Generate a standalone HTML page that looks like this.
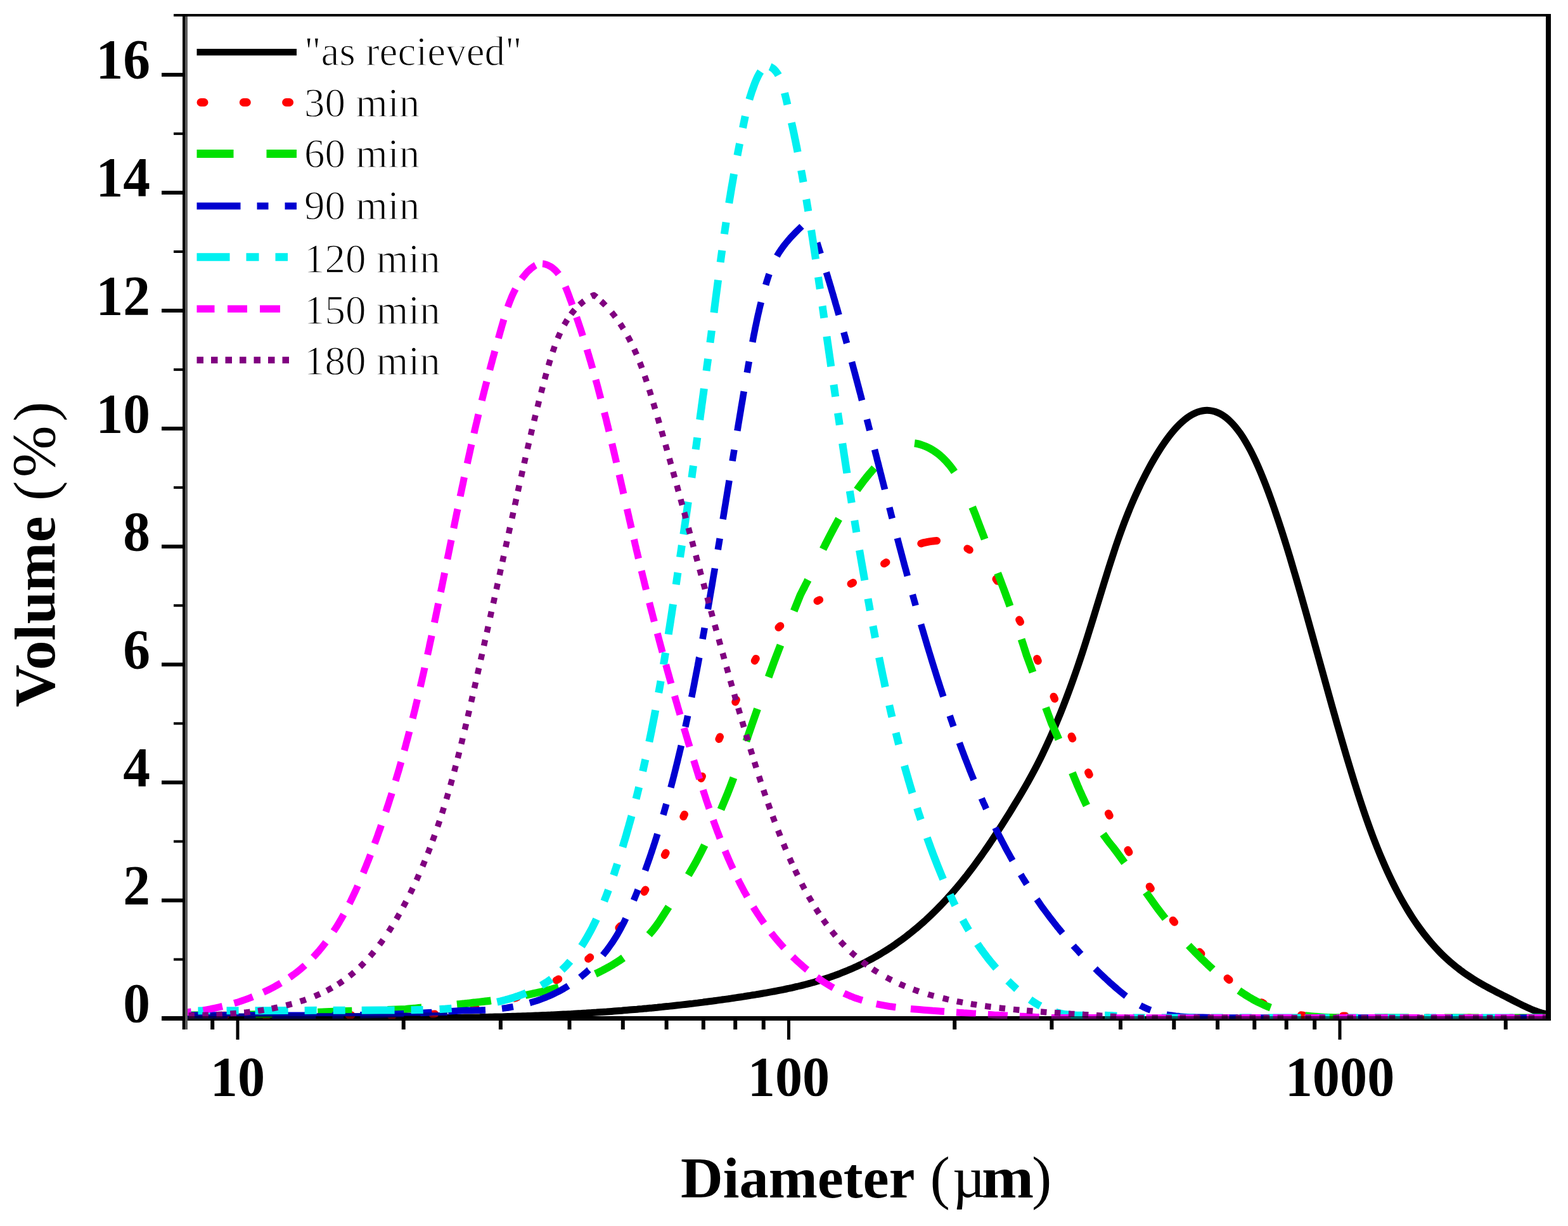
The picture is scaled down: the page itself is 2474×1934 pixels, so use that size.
<!DOCTYPE html>
<html><head><meta charset="utf-8"><title>Particle size distribution</title>
<style>
html,body{margin:0;padding:0;background:#fff;width:2474px;height:1934px;overflow:hidden;}
svg{display:block;}
.tk{font-family:"Liberation Serif","Times New Roman",serif;font-weight:bold;font-size:88.5px;fill:#000;}
.lg{font-family:"Liberation Serif","Times New Roman",serif;font-size:65px;fill:#000;stroke:#fff;stroke-width:1.3px;}
.ti{font-family:"Liberation Serif","Times New Roman",serif;font-weight:bold;font-size:90px;fill:#000;}
</style></head><body>
<svg width="2474" height="1934" viewBox="0 0 2474 1934">
<rect x="0" y="0" width="2474" height="1934" fill="#fff"/>
<g fill="#000">
<rect x="274" y="22" width="2173" height="4"/>
<rect x="288" y="22" width="4" height="1602"/>
<rect x="292" y="26" width="4" height="1598" fill="#5e5e5e"/>
<rect x="2439" y="22" width="8" height="1588"/>
<rect x="255" y="1603" width="2192" height="7"/>
<rect x="274" y="1511.5" width="14" height="4"/>
<rect x="255" y="1417.4" width="33" height="6"/>
<rect x="274" y="1325.4" width="14" height="4"/>
<rect x="255" y="1231.3" width="33" height="6"/>
<rect x="274" y="1139.3" width="14" height="4"/>
<rect x="255" y="1045.3" width="33" height="6"/>
<rect x="274" y="953.2" width="14" height="4"/>
<rect x="255" y="859.2" width="33" height="6"/>
<rect x="274" y="767.1" width="14" height="4"/>
<rect x="255" y="673.1" width="33" height="6"/>
<rect x="274" y="581.1" width="14" height="4"/>
<rect x="255" y="487.0" width="33" height="6"/>
<rect x="274" y="395.0" width="14" height="4"/>
<rect x="255" y="300.9" width="33" height="6"/>
<rect x="274" y="208.9" width="14" height="4"/>
<rect x="255" y="114.9" width="33" height="6"/>
<rect x="287.7" y="1610" width="6" height="14"/>
<rect x="332.2" y="1610" width="6" height="14"/>
<rect x="372.5" y="1610" width="5" height="30"/>
<rect x="633.7" y="1610" width="6" height="14"/>
<rect x="786.9" y="1610" width="6" height="14"/>
<rect x="895.5" y="1610" width="6" height="14"/>
<rect x="979.8" y="1610" width="6" height="14"/>
<rect x="1048.6" y="1610" width="6" height="14"/>
<rect x="1106.8" y="1610" width="6" height="14"/>
<rect x="1157.2" y="1610" width="6" height="14"/>
<rect x="1201.7" y="1610" width="6" height="14"/>
<rect x="1242.0" y="1610" width="5" height="30"/>
<rect x="1503.2" y="1610" width="6" height="14"/>
<rect x="1656.4" y="1610" width="6" height="14"/>
<rect x="1765.0" y="1610" width="6" height="14"/>
<rect x="1849.3" y="1610" width="6" height="14"/>
<rect x="1918.1" y="1610" width="6" height="14"/>
<rect x="1976.3" y="1610" width="6" height="14"/>
<rect x="2026.7" y="1610" width="6" height="14"/>
<rect x="2071.2" y="1610" width="6" height="14"/>
<rect x="2111.5" y="1610" width="5" height="30"/>
<rect x="2372.7" y="1610" width="6" height="14"/>
</g>
<defs><clipPath id="pc"><rect x="296" y="26" width="2143" height="1581"/></clipPath></defs>
<g clip-path="url(#pc)" fill="none">
<path d="M285.0,1604.8 C287.7,1604.8 290.3,1604.7 293.0,1604.7 C295.7,1604.7 298.3,1604.7 301.0,1604.7 C303.7,1604.7 306.3,1604.7 309.0,1604.7 C311.7,1604.7 314.3,1604.7 317.0,1604.7 C319.7,1604.7 322.3,1604.7 325.0,1604.7 C327.7,1604.7 330.3,1604.7 333.0,1604.7 C335.7,1604.7 338.3,1604.7 341.0,1604.7 C343.7,1604.7 346.3,1604.7 349.0,1604.7 C351.7,1604.7 354.3,1604.7 357.0,1604.7 C359.7,1604.8 362.3,1604.8 365.0,1604.8 C367.7,1604.8 370.3,1604.8 373.0,1604.8 C375.7,1604.8 378.3,1604.8 381.0,1604.8 C383.7,1604.8 386.3,1604.9 389.0,1604.9 C391.7,1604.9 394.3,1604.9 397.0,1604.9 C399.7,1604.9 402.3,1604.9 405.0,1605.0 C407.7,1605.0 410.3,1605.0 413.0,1605.0 C415.7,1605.0 418.3,1605.0 421.0,1605.0 C423.7,1605.1 426.3,1605.1 429.0,1605.1 C431.7,1605.1 434.3,1605.1 437.0,1605.2 C439.7,1605.2 442.3,1605.2 445.0,1605.2 C447.7,1605.2 450.3,1605.2 453.0,1605.3 C455.7,1605.3 458.3,1605.3 461.0,1605.3 C463.7,1605.3 466.3,1605.3 469.0,1605.4 C471.7,1605.4 474.3,1605.4 477.0,1605.4 C479.7,1605.4 482.3,1605.5 485.0,1605.5 C487.7,1605.5 490.3,1605.5 493.0,1605.5 C495.7,1605.5 498.3,1605.6 501.0,1605.6 C503.7,1605.6 506.3,1605.6 509.0,1605.6 C511.7,1605.7 514.3,1605.7 517.0,1605.7 C519.7,1605.7 522.3,1605.7 525.0,1605.7 C527.7,1605.7 530.3,1605.8 533.0,1605.8 C535.7,1605.8 538.3,1605.8 541.0,1605.8 C543.7,1605.8 546.3,1605.8 549.0,1605.9 C551.7,1605.9 554.3,1605.9 557.0,1605.9 C559.7,1605.9 562.3,1605.9 565.0,1605.9 C567.7,1605.9 570.3,1605.9 573.0,1605.9 C575.7,1606.0 578.3,1606.0 581.0,1606.0 C583.7,1606.0 586.3,1606.0 589.0,1606.0 C591.7,1606.0 594.3,1606.0 597.0,1606.0 C599.7,1606.0 602.3,1606.0 605.0,1606.0 C607.7,1606.0 610.3,1606.0 613.0,1606.0 C615.7,1606.0 618.3,1606.0 621.0,1606.0 C623.7,1606.0 626.3,1606.0 629.0,1606.0 C631.7,1606.0 634.3,1606.0 637.0,1606.0 C639.7,1606.0 642.3,1606.0 645.0,1606.0 C647.7,1606.0 650.3,1605.9 653.0,1605.9 C655.7,1605.9 658.3,1605.9 661.0,1605.9 C663.7,1605.9 666.3,1605.9 669.0,1605.8 C671.7,1605.8 674.3,1605.8 677.0,1605.8 C679.7,1605.8 682.3,1605.7 685.0,1605.7 C687.7,1605.7 690.3,1605.7 693.0,1605.6 C695.7,1605.6 698.3,1605.6 701.0,1605.6 C703.7,1605.5 706.3,1605.5 709.0,1605.5 C711.7,1605.4 714.3,1605.4 717.0,1605.4 C719.7,1605.3 722.3,1605.3 725.0,1605.3 C727.7,1605.2 730.3,1605.2 733.0,1605.1 C735.7,1605.1 738.3,1605.0 741.0,1605.0 C743.7,1605.0 746.3,1604.9 749.0,1604.9 C751.7,1604.8 754.3,1604.7 757.0,1604.7 C759.7,1604.6 762.3,1604.6 765.0,1604.5 C767.7,1604.5 770.3,1604.4 773.0,1604.3 C775.7,1604.3 778.3,1604.2 781.0,1604.1 C783.7,1604.1 786.3,1604.0 789.0,1603.9 C791.7,1603.9 794.3,1603.8 797.0,1603.7 C799.7,1603.6 802.3,1603.6 805.0,1603.5 C807.7,1603.4 810.3,1603.3 813.0,1603.2 C815.7,1603.1 818.3,1603.1 821.0,1603.0 C823.7,1602.9 826.3,1602.8 829.0,1602.7 C831.7,1602.6 834.3,1602.5 837.0,1602.4 C839.7,1602.3 842.3,1602.2 845.0,1602.1 C847.7,1602.0 850.3,1601.9 853.0,1601.8 C855.7,1601.7 858.3,1601.5 861.0,1601.4 C863.7,1601.3 866.3,1601.2 869.0,1601.1 C871.7,1600.9 874.3,1600.8 877.0,1600.7 C879.7,1600.6 882.3,1600.4 885.0,1600.3 C887.7,1600.2 890.3,1600.0 893.0,1599.9 C895.7,1599.8 898.3,1599.6 901.0,1599.5 C903.7,1599.3 906.3,1599.2 909.0,1599.0 C911.7,1598.9 914.3,1598.7 917.0,1598.6 C919.7,1598.4 922.3,1598.2 925.0,1598.1 C927.7,1597.9 930.3,1597.7 933.0,1597.6 C935.7,1597.4 938.3,1597.2 941.0,1597.1 C943.7,1596.9 946.3,1596.7 949.0,1596.5 C951.7,1596.3 954.3,1596.1 957.0,1596.0 C959.7,1595.8 962.3,1595.6 965.0,1595.4 C967.7,1595.2 970.3,1595.0 973.0,1594.8 C975.7,1594.6 978.3,1594.4 981.0,1594.2 C983.7,1593.9 986.3,1593.7 989.0,1593.5 C991.7,1593.3 994.3,1593.1 997.0,1592.8 C999.7,1592.6 1002.3,1592.4 1005.0,1592.2 C1007.7,1591.9 1010.3,1591.7 1013.0,1591.5 C1015.7,1591.2 1018.3,1591.0 1021.0,1590.7 C1023.7,1590.5 1026.3,1590.2 1029.0,1590.0 C1031.7,1589.7 1034.3,1589.4 1037.0,1589.2 C1039.7,1588.9 1042.3,1588.7 1045.0,1588.4 C1047.7,1588.1 1050.3,1587.8 1053.0,1587.6 C1055.7,1587.3 1058.3,1587.0 1061.0,1586.7 C1063.7,1586.4 1066.3,1586.1 1069.0,1585.8 C1071.7,1585.5 1074.3,1585.2 1077.0,1584.9 C1079.7,1584.6 1082.3,1584.3 1085.0,1584.0 C1087.7,1583.7 1090.3,1583.4 1093.0,1583.1 C1095.7,1582.7 1098.3,1582.4 1101.0,1582.1 C1103.7,1581.7 1106.3,1581.4 1109.0,1581.1 C1111.7,1580.7 1114.3,1580.4 1117.0,1580.0 C1119.7,1579.7 1122.3,1579.3 1125.0,1579.0 C1127.7,1578.6 1130.3,1578.3 1133.0,1577.9 C1135.7,1577.5 1138.3,1577.2 1141.0,1576.8 C1143.7,1576.4 1146.3,1576.0 1149.0,1575.7 C1151.7,1575.3 1154.3,1574.9 1157.0,1574.5 C1159.7,1574.1 1162.3,1573.7 1165.0,1573.3 C1167.7,1572.9 1170.3,1572.5 1173.0,1572.1 C1175.7,1571.6 1178.3,1571.2 1181.0,1570.8 C1183.7,1570.4 1186.3,1569.9 1189.0,1569.5 C1191.7,1569.1 1194.3,1568.6 1197.0,1568.2 C1199.7,1567.8 1202.3,1567.3 1205.0,1566.8 C1207.7,1566.4 1210.3,1565.9 1213.0,1565.4 C1215.7,1565.0 1218.3,1564.5 1221.0,1564.0 C1223.7,1563.5 1226.3,1563.0 1229.0,1562.4 C1231.7,1561.9 1234.3,1561.4 1237.0,1560.8 C1239.7,1560.3 1242.3,1559.7 1245.0,1559.2 C1247.7,1558.6 1250.3,1558.0 1253.0,1557.4 C1255.7,1556.8 1258.3,1556.1 1261.0,1555.5 C1263.7,1554.9 1266.3,1554.2 1269.0,1553.5 C1271.7,1552.8 1274.3,1552.1 1277.0,1551.4 C1279.7,1550.7 1282.3,1549.9 1285.0,1549.2 C1287.7,1548.4 1290.3,1547.6 1293.0,1546.8 C1295.7,1546.0 1298.3,1545.2 1301.0,1544.3 C1303.7,1543.4 1306.3,1542.6 1309.0,1541.7 C1311.7,1540.7 1314.3,1539.8 1317.0,1538.8 C1319.7,1537.9 1322.3,1536.9 1325.0,1535.8 C1327.7,1534.8 1330.3,1533.8 1333.0,1532.7 C1335.7,1531.6 1338.3,1530.5 1341.0,1529.3 C1343.7,1528.2 1346.3,1527.0 1349.0,1525.8 C1351.7,1524.6 1354.3,1523.3 1357.0,1522.0 C1359.7,1520.8 1362.3,1519.4 1365.0,1518.1 C1367.7,1516.7 1370.3,1515.3 1373.0,1513.9 C1375.7,1512.5 1378.3,1511.0 1381.0,1509.5 C1383.7,1508.0 1386.3,1506.4 1389.0,1504.9 C1391.7,1503.3 1394.3,1501.6 1397.0,1500.0 C1399.7,1498.3 1402.3,1496.6 1405.0,1494.8 C1407.7,1493.1 1410.3,1491.3 1413.0,1489.4 C1415.7,1487.6 1418.3,1485.7 1421.0,1483.7 C1423.7,1481.8 1426.3,1479.8 1429.0,1477.8 C1431.7,1475.7 1434.3,1473.6 1437.0,1471.5 C1439.7,1469.4 1442.3,1467.2 1445.0,1465.0 C1447.7,1462.7 1450.3,1460.5 1453.0,1458.1 C1455.7,1455.8 1458.3,1453.4 1461.0,1451.0 C1463.7,1448.5 1466.3,1446.0 1469.0,1443.5 C1471.7,1440.9 1474.3,1438.3 1477.0,1435.6 C1479.7,1433.0 1482.3,1430.3 1485.0,1427.5 C1487.7,1424.7 1490.3,1421.9 1493.0,1419.0 C1495.7,1416.1 1498.3,1413.1 1501.0,1410.1 C1503.7,1407.1 1506.3,1404.0 1509.0,1400.9 C1511.7,1397.7 1514.3,1394.5 1517.0,1391.3 C1519.7,1388.0 1522.3,1384.7 1525.0,1381.3 C1527.7,1377.9 1530.3,1374.4 1533.0,1370.9 C1535.7,1367.3 1538.3,1363.8 1541.0,1360.1 C1543.7,1356.4 1546.3,1352.7 1549.0,1349.0 C1551.7,1345.2 1554.3,1341.3 1557.0,1337.5 C1559.7,1333.6 1562.3,1329.6 1565.0,1325.6 C1567.7,1321.6 1570.3,1317.6 1573.0,1313.5 C1575.7,1309.4 1578.3,1305.3 1581.0,1301.1 C1583.7,1296.9 1586.3,1292.7 1589.0,1288.4 C1591.7,1284.2 1594.3,1279.9 1597.0,1275.5 C1599.7,1271.2 1602.3,1266.8 1605.0,1262.4 C1607.7,1258.0 1610.3,1253.6 1613.0,1249.0 C1615.7,1244.5 1618.4,1239.9 1621.0,1235.2 C1623.7,1230.4 1626.4,1225.6 1629.0,1220.7 C1631.7,1215.7 1634.4,1210.6 1637.0,1205.5 C1639.7,1200.2 1642.4,1194.8 1645.0,1189.3 C1647.7,1183.7 1650.4,1178.1 1653.0,1172.3 C1655.7,1166.4 1658.4,1160.4 1661.0,1154.3 C1663.7,1148.1 1666.4,1141.7 1669.0,1135.3 C1671.7,1128.8 1674.4,1122.1 1677.0,1115.4 C1679.7,1108.5 1682.4,1101.6 1685.0,1094.5 C1687.7,1087.3 1690.4,1080.0 1693.0,1072.6 C1695.7,1065.0 1698.4,1057.4 1701.0,1049.7 C1703.7,1041.8 1706.4,1033.8 1709.0,1025.7 C1711.7,1017.5 1714.4,1009.1 1717.0,1000.7 C1719.7,992.2 1722.3,983.6 1725.0,975.0 C1727.7,966.3 1730.3,957.6 1733.0,948.9 C1735.7,940.2 1738.3,931.5 1741.0,922.8 C1743.7,914.2 1746.3,905.7 1749.0,897.2 C1751.6,888.9 1754.3,880.5 1757.0,872.4 C1759.6,864.4 1762.3,856.5 1765.0,848.8 C1767.6,841.4 1770.3,834.0 1773.0,826.8 C1775.6,819.9 1778.3,813.1 1781.0,806.4 C1783.6,799.9 1786.3,793.6 1789.0,787.4 C1791.6,781.4 1794.3,775.5 1797.0,769.8 C1799.6,764.2 1802.3,758.7 1805.0,753.4 C1807.6,748.2 1810.3,743.1 1813.0,738.1 C1815.6,733.2 1818.3,728.5 1821.0,723.9 C1823.6,719.4 1826.3,714.9 1829.0,710.7 C1831.6,706.5 1834.3,702.5 1837.0,698.6 C1839.6,694.8 1842.3,691.1 1845.0,687.6 C1847.6,684.3 1850.3,681.0 1853.0,677.9 C1855.6,674.9 1858.3,672.1 1861.0,669.4 C1863.6,666.9 1866.3,664.4 1869.0,662.2 C1871.6,660.1 1874.3,658.1 1877.0,656.4 C1879.6,654.7 1882.3,653.2 1885.0,652.0 C1887.6,650.8 1890.3,649.7 1893.0,649.0 C1895.6,648.3 1898.3,647.7 1901.0,647.5 C1903.7,647.3 1906.3,647.3 1909.0,647.6 C1911.7,647.9 1914.4,648.5 1917.0,649.3 C1919.7,650.2 1922.4,651.3 1925.0,652.7 C1927.7,654.1 1930.4,655.8 1933.0,657.7 C1935.7,659.8 1938.4,662.1 1941.0,664.6 C1943.7,667.2 1946.4,670.1 1949.0,673.2 C1951.7,676.5 1954.4,680.0 1957.0,683.7 C1959.7,687.6 1962.4,691.8 1965.0,696.2 C1967.7,700.7 1970.4,705.6 1973.0,710.5 C1975.7,715.8 1978.4,721.3 1981.0,726.9 C1983.7,732.8 1986.4,738.9 1989.0,745.1 C1991.7,751.6 1994.4,758.3 1997.0,765.0 C1999.7,772.0 2002.4,779.2 2005.0,786.5 C2007.7,794.0 2010.4,801.6 2013.0,809.4 C2015.7,817.3 2018.4,825.3 2021.0,833.5 C2023.7,841.8 2026.4,850.2 2029.0,858.7 C2031.7,867.4 2034.4,876.1 2037.0,884.9 C2039.7,893.8 2042.3,902.9 2045.0,911.9 C2047.7,921.1 2050.3,930.3 2053.0,939.6 C2055.7,949.0 2058.3,958.4 2061.0,967.8 C2063.7,977.3 2066.3,986.8 2069.0,996.4 C2071.7,1005.9 2074.3,1015.6 2077.0,1025.2 C2079.7,1034.8 2082.3,1044.4 2085.0,1054.0 C2087.7,1063.6 2090.3,1073.3 2093.0,1082.8 C2095.7,1092.4 2098.3,1101.9 2101.0,1111.4 C2103.7,1120.9 2106.3,1130.3 2109.0,1139.7 C2111.7,1148.9 2114.3,1158.2 2117.0,1167.4 C2119.7,1176.5 2122.3,1185.6 2125.0,1194.6 C2127.7,1203.4 2130.3,1212.3 2133.0,1221.0 C2135.6,1229.6 2138.3,1238.2 2141.0,1246.6 C2143.6,1254.9 2146.3,1263.1 2149.0,1271.2 C2151.6,1279.1 2154.3,1286.9 2157.0,1294.6 C2159.6,1302.0 2162.3,1309.4 2165.0,1316.6 C2167.6,1323.6 2170.3,1330.4 2173.0,1337.2 C2175.6,1343.7 2178.3,1350.2 2181.0,1356.5 C2183.6,1362.6 2186.3,1368.7 2189.0,1374.6 C2191.6,1380.3 2194.3,1385.9 2197.0,1391.5 C2199.6,1396.8 2202.3,1402.1 2205.0,1407.2 C2207.6,1412.2 2210.3,1417.1 2213.0,1421.9 C2215.6,1426.5 2218.3,1431.1 2221.0,1435.5 C2223.6,1439.8 2226.3,1444.1 2229.0,1448.2 C2231.6,1452.2 2234.3,1456.1 2237.0,1460.0 C2239.6,1463.7 2242.3,1467.3 2245.0,1470.9 C2247.6,1474.4 2250.3,1477.7 2253.0,1481.0 C2255.6,1484.2 2258.3,1487.4 2261.0,1490.4 C2263.6,1493.4 2266.3,1496.3 2269.0,1499.1 C2271.6,1501.9 2274.3,1504.6 2277.0,1507.2 C2279.6,1509.7 2282.3,1512.2 2285.0,1514.6 C2287.6,1517.0 2290.3,1519.3 2293.0,1521.5 C2295.6,1523.7 2298.3,1525.9 2301.0,1527.9 C2303.6,1530.0 2306.3,1531.9 2309.0,1533.9 C2311.7,1535.8 2314.3,1537.6 2317.0,1539.4 C2319.7,1541.2 2322.3,1542.9 2325.0,1544.6 C2327.7,1546.3 2330.3,1547.9 2333.0,1549.5 C2335.7,1551.1 2338.3,1552.6 2341.0,1554.1 C2343.7,1555.6 2346.3,1557.1 2349.0,1558.5 C2351.7,1559.9 2354.3,1561.3 2357.0,1562.7 C2359.7,1564.1 2362.3,1565.5 2365.0,1566.9 C2367.7,1568.2 2370.3,1569.6 2373.0,1570.9 C2375.7,1572.3 2378.3,1573.6 2381.0,1575.0 C2383.7,1576.3 2386.3,1577.7 2389.0,1579.0 C2391.7,1580.4 2394.3,1581.8 2397.0,1583.1 C2399.7,1584.4 2402.3,1585.8 2405.0,1587.0 C2407.7,1588.3 2410.3,1589.6 2413.0,1590.7 C2415.7,1591.9 2418.3,1593.0 2421.0,1594.1 C2423.7,1595.1 2426.3,1596.1 2429.0,1596.9 C2431.7,1597.8 2434.3,1598.6 2437.0,1599.2 C2439.7,1599.8 2442.6,1600.4 2445.0,1600.7 C2446.9,1601.0 2448.3,1601.1 2450.0,1601.3" stroke="#000000" stroke-width="11" stroke-linecap="butt" stroke-linejoin="round"/>
<path d="M285.0,1602.0 C390.0,1601.7 599.7,1601.3 600.0,1601.0 C600.0,1601.0 600.0,1601.0 600.0,1601.0 C600.0,1601.0 604.6,1601.2 606.8,1601.3 C609.1,1601.4 611.4,1601.4 613.7,1601.5 C616.0,1601.5 618.3,1601.6 620.6,1601.6 C622.9,1601.7 625.2,1601.7 627.6,1601.7 C629.9,1601.7 632.2,1601.7 634.5,1601.7 C636.8,1601.7 639.2,1601.7 641.5,1601.6 C643.8,1601.6 646.2,1601.5 648.5,1601.5 C650.8,1601.4 653.2,1601.4 655.5,1601.3 C657.9,1601.2 660.2,1601.1 662.6,1601.0 C664.9,1600.9 667.3,1600.7 669.6,1600.6 C672.0,1600.5 674.3,1600.3 676.7,1600.2 C679.0,1600.0 681.4,1599.8 683.8,1599.7 C686.1,1599.5 688.5,1599.3 690.8,1599.1 C693.2,1598.8 695.6,1598.6 697.9,1598.4 C700.3,1598.1 702.6,1597.9 705.0,1597.6 C707.3,1597.4 709.7,1597.1 712.1,1596.8 C714.4,1596.5 716.8,1596.2 719.1,1595.9 C721.5,1595.5 723.8,1595.2 726.2,1594.8 C728.5,1594.5 730.9,1594.1 733.2,1593.7 C735.6,1593.4 737.9,1593.0 740.3,1592.6 C742.6,1592.1 744.9,1591.7 747.3,1591.3 C749.6,1590.8 751.9,1590.4 754.3,1589.9 C756.6,1589.5 758.9,1589.0 761.2,1588.5 C763.5,1588.0 765.9,1587.5 768.2,1586.9 C770.5,1586.4 772.8,1585.8 775.1,1585.3 C777.4,1584.7 779.7,1584.1 782.0,1583.5 C784.3,1583.0 786.5,1582.3 788.8,1581.7 C791.1,1581.1 793.4,1580.5 795.6,1579.8 C797.9,1579.1 800.2,1578.5 802.4,1577.8 C804.7,1577.1 806.9,1576.4 809.1,1575.6 C811.4,1574.9 813.6,1574.2 815.8,1573.4 C818.1,1572.7 820.3,1571.9 822.5,1571.1 C824.7,1570.3 826.9,1569.5 829.1,1568.7 C831.3,1567.8 833.4,1567.0 835.6,1566.1 C837.8,1565.3 839.9,1564.4 842.1,1563.5 C844.2,1562.6 846.4,1561.7 848.5,1560.8 C850.6,1559.8 852.8,1558.9 854.9,1557.9 C857.0,1556.9 859.1,1555.9 861.2,1554.9 C863.3,1553.9 865.3,1552.9 867.4,1551.9 C869.5,1550.8 871.5,1549.8 873.6,1548.7 C875.6,1547.6 877.6,1546.5 879.6,1545.4 C881.7,1544.3 883.7,1543.1 885.7,1542.0 C887.6,1540.8 889.6,1539.7 891.6,1538.5 C893.6,1537.3 895.5,1536.1 897.4,1534.8 C899.4,1533.6 901.3,1532.3 903.2,1531.1 C905.1,1529.8 907.0,1528.5 908.9,1527.2 C910.8,1525.9 912.6,1524.6 914.5,1523.2 C916.3,1521.9 918.2,1520.5 920.0,1519.1 C921.8,1517.7 923.6,1516.3 925.4,1514.9 C927.2,1513.4 929.0,1512.0 930.7,1510.5 C932.5,1509.0 934.2,1507.5 935.9,1506.0 C937.7,1504.5 939.4,1503.0 941.1,1501.4 C942.8,1499.9 944.4,1498.3 946.1,1496.7 C947.7,1495.1 949.4,1493.5 951.0,1491.9 C952.6,1490.2 954.3,1488.6 955.9,1486.9 C957.5,1485.3 959.0,1483.6 960.6,1481.9 C962.2,1480.2 963.7,1478.5 965.3,1476.8 C966.8,1475.0 968.3,1473.3 969.9,1471.5 C971.4,1469.8 972.9,1468.0 974.4,1466.2 C975.8,1464.4 977.3,1462.6 978.8,1460.8 C980.2,1459.0 981.7,1457.1 983.1,1455.3 C984.6,1453.4 986.0,1451.6 987.4,1449.7 C988.8,1447.8 990.2,1445.9 991.6,1444.0 C993.0,1442.1 994.3,1440.2 995.7,1438.3 C997.1,1436.4 998.4,1434.4 999.7,1432.5 C1001.1,1430.5 1002.4,1428.6 1003.7,1426.6 C1005.0,1424.6 1006.3,1422.7 1007.6,1420.7 C1008.9,1418.7 1010.2,1416.7 1011.5,1414.7 C1012.8,1412.7 1014.0,1410.7 1015.3,1408.6 C1016.5,1406.6 1017.8,1404.6 1019.0,1402.5 C1020.3,1400.5 1021.5,1398.4 1022.7,1396.4 C1023.9,1394.3 1025.1,1392.3 1026.3,1390.2 C1027.5,1388.1 1028.7,1386.1 1029.9,1384.0 C1031.1,1381.9 1032.2,1379.8 1033.4,1377.7 C1034.5,1375.6 1035.7,1373.5 1036.9,1371.4 C1038.0,1369.3 1039.1,1367.2 1040.3,1365.1 C1041.4,1363.0 1042.5,1360.8 1043.6,1358.7 C1044.8,1356.6 1045.9,1354.5 1047.0,1352.3 C1048.1,1350.2 1049.2,1348.1 1050.3,1346.0 C1051.3,1343.8 1052.4,1341.7 1053.5,1339.6 C1054.6,1337.4 1055.7,1335.3 1056.7,1333.1 C1057.8,1331.0 1058.8,1328.9 1059.9,1326.7 C1060.9,1324.6 1062.0,1322.4 1063.0,1320.3 C1064.1,1318.2 1065.1,1316.0 1066.2,1313.9 C1067.2,1311.7 1068.2,1309.6 1069.2,1307.5 C1070.3,1305.3 1071.3,1303.2 1072.3,1301.1 C1073.3,1298.9 1074.3,1296.8 1075.3,1294.7 C1076.3,1292.5 1077.3,1290.4 1078.3,1288.3 C1079.3,1286.2 1080.3,1284.1 1081.3,1281.9 C1082.3,1279.8 1083.3,1277.7 1084.3,1275.6 C1085.3,1273.5 1086.3,1271.4 1087.3,1269.3 C1088.2,1267.2 1089.2,1265.1 1090.2,1263.0 C1091.2,1260.9 1092.1,1258.8 1093.1,1256.7 C1094.1,1254.6 1095.1,1252.5 1096.0,1250.4 C1097.0,1248.4 1097.9,1246.3 1098.9,1244.2 C1099.9,1242.1 1100.8,1240.0 1101.8,1237.9 C1102.8,1235.8 1103.7,1233.8 1104.7,1231.7 C1105.6,1229.6 1106.6,1227.5 1107.5,1225.4 C1108.5,1223.4 1109.4,1221.3 1110.4,1219.2 C1111.3,1217.1 1112.3,1215.0 1113.2,1213.0 C1114.2,1210.9 1115.1,1208.8 1116.1,1206.7 C1117.0,1204.6 1117.9,1202.6 1118.9,1200.5 C1119.8,1198.4 1120.8,1196.3 1121.7,1194.2 C1122.6,1192.1 1123.6,1190.1 1124.5,1188.0 C1125.5,1185.9 1126.4,1183.8 1127.3,1181.7 C1128.3,1179.6 1129.2,1177.5 1130.2,1175.4 C1131.1,1173.3 1132.0,1171.2 1133.0,1169.1 C1133.9,1167.0 1134.9,1164.9 1135.8,1162.8 C1136.7,1160.7 1137.7,1158.6 1138.6,1156.5 C1139.6,1154.3 1140.5,1152.2 1141.4,1150.1 C1142.4,1148.0 1143.3,1145.9 1144.3,1143.7 C1145.2,1141.6 1146.2,1139.5 1147.1,1137.3 C1148.0,1135.2 1149.0,1133.0 1149.9,1130.9 C1150.9,1128.7 1151.8,1126.6 1152.8,1124.4 C1153.7,1122.3 1154.7,1120.1 1155.6,1117.9 C1156.6,1115.8 1157.5,1113.6 1158.5,1111.4 C1159.4,1109.2 1160.4,1107.0 1161.4,1104.8 C1162.3,1102.6 1163.3,1100.4 1164.2,1098.2 C1165.2,1096.0 1166.2,1093.8 1167.2,1091.6 C1168.1,1089.4 1169.1,1087.2 1170.1,1085.0 C1171.1,1082.8 1172.1,1080.6 1173.1,1078.4 C1174.1,1076.2 1175.1,1073.9 1176.1,1071.8 C1177.1,1069.6 1178.2,1067.4 1179.2,1065.2 C1180.3,1063.0 1181.3,1060.8 1182.4,1058.7 C1183.5,1056.5 1184.5,1054.3 1185.6,1052.2 C1186.7,1050.1 1187.8,1047.9 1189.0,1045.8 C1190.1,1043.7 1191.2,1041.6 1192.4,1039.5 C1193.6,1037.4 1194.8,1035.4 1196.0,1033.3 C1197.2,1031.3 1198.4,1029.2 1199.6,1027.2 C1200.9,1025.2 1202.1,1023.2 1203.4,1021.3 C1204.7,1019.3 1206.0,1017.4 1207.4,1015.5 C1208.7,1013.6 1210.0,1011.7 1211.4,1009.8 C1212.8,1008.0 1214.2,1006.1 1215.7,1004.3 C1217.1,1002.5 1218.6,1000.8 1220.1,999.0 C1221.6,997.3 1223.1,995.6 1224.7,993.9 C1226.2,992.3 1227.8,990.6 1229.4,989.0 C1231.1,987.4 1232.7,985.9 1234.4,984.4 C1236.1,982.9 1237.8,981.4 1239.5,979.9 C1241.3,978.5 1243.1,977.1 1244.9,975.7 C1246.7,974.3 1248.5,972.9 1250.3,971.6 C1252.2,970.3 1254.1,969.0 1256.0,967.7 C1257.9,966.4 1259.8,965.2 1261.7,963.9 C1263.7,962.7 1265.6,961.5 1267.6,960.3 C1269.6,959.1 1271.6,957.9 1273.6,956.8 C1275.6,955.6 1277.6,954.5 1279.6,953.4 C1281.7,952.3 1283.7,951.1 1285.8,950.1 C1287.9,949.0 1289.9,947.9 1292.0,946.8 C1294.1,945.7 1296.2,944.6 1298.3,943.6 C1300.4,942.5 1302.5,941.5 1304.6,940.4 C1306.7,939.4 1308.8,938.3 1310.9,937.2 C1313.0,936.2 1315.1,935.1 1317.2,934.1 C1319.3,933.0 1321.4,932.0 1323.5,930.9 C1325.6,929.9 1327.7,928.8 1329.8,927.7 C1331.9,926.6 1334.0,925.6 1336.1,924.5 C1338.2,923.4 1340.3,922.3 1342.3,921.2 C1344.4,920.0 1346.4,918.9 1348.5,917.8 C1350.5,916.6 1352.6,915.5 1354.6,914.3 C1356.6,913.1 1358.7,912.0 1360.7,910.8 C1362.7,909.6 1364.7,908.4 1366.7,907.1 C1368.7,905.9 1370.7,904.7 1372.7,903.4 C1374.7,902.2 1376.7,901.0 1378.7,899.7 C1380.7,898.4 1382.7,897.2 1384.7,895.9 C1386.7,894.6 1388.7,893.3 1390.7,892.0 C1392.7,890.7 1394.7,889.4 1396.8,888.1 C1398.8,886.8 1400.8,885.5 1402.8,884.2 C1404.8,882.8 1406.9,881.5 1408.9,880.2 C1411.0,878.9 1413.0,877.6 1415.1,876.3 C1417.1,875.1 1419.2,873.8 1421.2,872.6 C1423.3,871.3 1425.4,870.1 1427.5,869.0 C1429.6,867.8 1431.7,866.7 1433.8,865.6 C1435.9,864.6 1438.0,863.5 1440.2,862.6 C1442.3,861.6 1444.4,860.7 1446.6,859.8 C1448.7,859.0 1450.9,858.2 1453.1,857.5 C1455.3,856.8 1457.5,856.2 1459.7,855.7 C1461.9,855.1 1464.1,854.7 1466.3,854.3 C1468.6,853.9 1470.8,853.6 1473.0,853.4 C1475.3,853.2 1477.5,853.1 1479.7,853.0 C1482.0,853.0 1484.2,853.0 1486.4,853.1 C1488.6,853.3 1490.8,853.5 1493.0,853.8 C1495.2,854.0 1497.4,854.4 1499.6,854.9 C1501.8,855.3 1503.9,855.8 1506.1,856.5 C1508.2,857.1 1510.3,857.8 1512.4,858.6 C1514.4,859.4 1516.5,860.2 1518.5,861.2 C1520.5,862.1 1522.5,863.2 1524.5,864.3 C1526.4,865.4 1528.3,866.6 1530.2,867.9 C1532.1,869.2 1533.9,870.6 1535.7,872.0 C1537.5,873.5 1539.3,875.0 1541.0,876.5 C1542.8,878.1 1544.5,879.8 1546.1,881.4 C1547.8,883.1 1549.4,884.9 1551.0,886.6 C1552.6,888.4 1554.2,890.3 1555.8,892.1 C1557.3,894.0 1558.8,895.9 1560.3,897.8 C1561.8,899.8 1563.3,901.7 1564.7,903.7 C1566.2,905.7 1567.6,907.7 1569.0,909.7 C1570.4,911.7 1571.7,913.8 1573.1,915.8 C1574.4,917.8 1575.7,919.8 1577.1,921.9 C1578.4,923.9 1579.7,926.0 1580.9,928.0 C1582.2,930.1 1583.4,932.1 1584.7,934.2 C1585.9,936.2 1587.1,938.3 1588.3,940.4 C1589.5,942.4 1590.7,944.5 1591.9,946.6 C1593.0,948.6 1594.2,950.7 1595.3,952.8 C1596.5,954.9 1597.6,957.0 1598.7,959.1 C1599.8,961.2 1600.9,963.2 1602.0,965.3 C1603.1,967.4 1604.1,969.5 1605.2,971.6 C1606.2,973.7 1607.3,975.8 1608.3,977.9 C1609.4,980.1 1610.4,982.2 1611.4,984.3 C1612.4,986.4 1613.4,988.5 1614.4,990.6 C1615.4,992.7 1616.4,994.8 1617.4,997.0 C1618.4,999.1 1619.3,1001.2 1620.3,1003.3 C1621.3,1005.5 1622.2,1007.6 1623.2,1009.7 C1624.2,1011.8 1625.1,1014.0 1626.1,1016.1 C1627.0,1018.2 1628.0,1020.3 1628.9,1022.5 C1629.9,1024.6 1630.8,1026.7 1631.7,1028.9 C1632.7,1031.0 1633.6,1033.1 1634.5,1035.3 C1635.5,1037.4 1636.4,1039.5 1637.3,1041.7 C1638.3,1043.8 1639.2,1045.9 1640.1,1048.1 C1641.1,1050.2 1642.0,1052.3 1642.9,1054.5 C1643.9,1056.6 1644.8,1058.7 1645.8,1060.9 C1646.7,1063.0 1647.6,1065.1 1648.6,1067.3 C1649.5,1069.4 1650.4,1071.5 1651.4,1073.7 C1652.3,1075.8 1653.3,1077.9 1654.2,1080.1 C1655.1,1082.2 1656.1,1084.3 1657.0,1086.5 C1658.0,1088.6 1658.9,1090.7 1659.8,1092.9 C1660.8,1095.0 1661.7,1097.1 1662.7,1099.3 C1663.6,1101.4 1664.5,1103.5 1665.5,1105.7 C1666.4,1107.8 1667.4,1109.9 1668.3,1112.1 C1669.3,1114.2 1670.2,1116.3 1671.2,1118.5 C1672.1,1120.6 1673.1,1122.7 1674.0,1124.8 C1675.0,1127.0 1675.9,1129.1 1676.9,1131.2 C1677.8,1133.4 1678.8,1135.5 1679.8,1137.6 C1680.7,1139.8 1681.7,1141.9 1682.6,1144.0 C1683.6,1146.1 1684.6,1148.3 1685.5,1150.4 C1686.5,1152.5 1687.4,1154.6 1688.4,1156.8 C1689.4,1158.9 1690.3,1161.0 1691.3,1163.1 C1692.3,1165.3 1693.3,1167.4 1694.2,1169.5 C1695.2,1171.6 1696.2,1173.8 1697.2,1175.9 C1698.1,1178.0 1699.1,1180.1 1700.1,1182.3 C1701.1,1184.4 1702.1,1186.5 1703.0,1188.6 C1704.0,1190.7 1705.0,1192.9 1706.0,1195.0 C1707.0,1197.1 1708.0,1199.2 1709.0,1201.3 C1710.0,1203.4 1711.0,1205.6 1712.0,1207.7 C1713.0,1209.8 1714.0,1211.9 1715.0,1214.0 C1716.0,1216.1 1717.0,1218.3 1718.0,1220.4 C1719.0,1222.5 1720.0,1224.6 1721.0,1226.7 C1722.0,1228.8 1723.0,1230.9 1724.0,1233.0 C1725.1,1235.1 1726.1,1237.2 1727.1,1239.4 C1728.1,1241.5 1729.2,1243.6 1730.2,1245.7 C1731.2,1247.8 1732.2,1249.9 1733.3,1252.0 C1734.3,1254.1 1735.3,1256.2 1736.4,1258.3 C1737.4,1260.4 1738.5,1262.5 1739.5,1264.6 C1740.6,1266.7 1741.6,1268.8 1742.7,1270.9 C1743.7,1273.0 1744.8,1275.1 1745.8,1277.2 C1746.9,1279.3 1747.9,1281.4 1749.0,1283.4 C1750.1,1285.5 1751.1,1287.6 1752.2,1289.7 C1753.3,1291.8 1754.4,1293.9 1755.4,1296.0 C1756.5,1298.1 1757.6,1300.1 1758.7,1302.2 C1759.8,1304.3 1760.9,1306.4 1762.0,1308.5 C1763.0,1310.6 1764.1,1312.6 1765.2,1314.7 C1766.3,1316.8 1767.5,1318.8 1768.6,1320.9 C1769.7,1323.0 1770.8,1325.1 1771.9,1327.1 C1773.0,1329.2 1774.2,1331.2 1775.3,1333.3 C1776.4,1335.4 1777.6,1337.4 1778.7,1339.5 C1779.8,1341.5 1781.0,1343.6 1782.1,1345.6 C1783.3,1347.7 1784.4,1349.7 1785.6,1351.8 C1786.8,1353.8 1787.9,1355.8 1789.1,1357.9 C1790.3,1359.9 1791.4,1361.9 1792.6,1363.9 C1793.8,1366.0 1795.0,1368.0 1796.2,1370.0 C1797.4,1372.0 1798.6,1374.0 1799.8,1376.0 C1801.0,1378.1 1802.2,1380.1 1803.5,1382.1 C1804.7,1384.1 1805.9,1386.0 1807.1,1388.0 C1808.4,1390.0 1809.6,1392.0 1810.9,1394.0 C1812.1,1396.0 1813.4,1397.9 1814.6,1399.9 C1815.9,1401.9 1817.2,1403.8 1818.4,1405.8 C1819.7,1407.8 1821.0,1409.7 1822.3,1411.7 C1823.6,1413.6 1824.9,1415.5 1826.2,1417.5 C1827.5,1419.4 1828.8,1421.3 1830.2,1423.3 C1831.5,1425.2 1832.8,1427.1 1834.2,1429.0 C1835.5,1430.9 1836.8,1432.8 1838.2,1434.7 C1839.6,1436.6 1840.9,1438.5 1842.3,1440.4 C1843.7,1442.3 1845.0,1444.2 1846.4,1446.0 C1847.8,1447.9 1849.2,1449.8 1850.6,1451.6 C1852.1,1453.5 1853.5,1455.3 1854.9,1457.2 C1856.3,1459.0 1857.8,1460.8 1859.2,1462.7 C1860.7,1464.5 1862.1,1466.3 1863.6,1468.1 C1865.0,1469.9 1866.5,1471.7 1868.0,1473.5 C1869.5,1475.3 1871.0,1477.1 1872.5,1478.9 C1874.0,1480.7 1875.5,1482.4 1877.0,1484.2 C1878.6,1486.0 1880.1,1487.7 1881.6,1489.5 C1883.2,1491.2 1884.7,1492.9 1886.3,1494.7 C1887.9,1496.4 1889.5,1498.1 1891.0,1499.8 C1892.6,1501.5 1894.2,1503.2 1895.9,1504.9 C1897.5,1506.6 1899.1,1508.3 1900.7,1509.9 C1902.4,1511.6 1904.0,1513.3 1905.7,1514.9 C1907.3,1516.6 1909.0,1518.2 1910.7,1519.8 C1912.3,1521.5 1914.0,1523.1 1915.7,1524.7 C1917.4,1526.3 1919.2,1527.9 1920.9,1529.5 C1922.6,1531.1 1924.3,1532.7 1926.1,1534.2 C1927.9,1535.8 1929.6,1537.4 1931.4,1538.9 C1933.2,1540.5 1935.0,1542.0 1936.8,1543.5 C1938.6,1545.1 1940.4,1546.6 1942.2,1548.1 C1944.0,1549.6 1945.9,1551.1 1947.7,1552.5 C1949.6,1554.0 1951.5,1555.5 1953.3,1556.9 C1955.2,1558.3 1957.1,1559.7 1959.0,1561.1 C1960.9,1562.5 1962.8,1563.9 1964.8,1565.3 C1966.7,1566.6 1968.7,1568.0 1970.6,1569.3 C1972.6,1570.6 1974.5,1571.8 1976.5,1573.1 C1978.5,1574.3 1980.5,1575.6 1982.5,1576.8 C1984.6,1577.9 1986.6,1579.1 1988.6,1580.2 C1990.7,1581.3 1992.7,1582.4 1994.8,1583.5 C1996.9,1584.5 1999.0,1585.6 2001.1,1586.6 C2003.2,1587.5 2005.3,1588.5 2007.4,1589.4 C2009.5,1590.3 2011.7,1591.1 2013.8,1591.9 C2016.0,1592.8 2018.1,1593.5 2020.3,1594.3 C2022.5,1595.0 2024.7,1595.7 2026.9,1596.3 C2029.1,1596.9 2031.4,1597.5 2033.6,1598.0 C2035.9,1598.6 2038.1,1599.0 2040.4,1599.5 C2042.7,1599.9 2044.9,1600.3 2047.2,1600.6 C2049.5,1600.9 2051.9,1601.2 2054.2,1601.4 C2056.5,1601.7 2058.8,1601.8 2061.2,1602.0 C2063.5,1602.2 2065.9,1602.3 2068.2,1602.4 C2070.6,1602.5 2073.0,1602.6 2075.3,1602.6 C2077.7,1602.7 2080.1,1602.7 2082.5,1602.7 C2084.9,1602.7 2087.3,1602.7 2089.6,1602.7 C2092.0,1602.7 2094.4,1602.7 2096.8,1602.6 C2099.2,1602.6 2101.6,1602.6 2104.0,1602.5 C2106.4,1602.5 2108.7,1602.5 2111.1,1602.5 C2113.5,1602.4 2115.9,1602.4 2118.3,1602.4 C2120.6,1602.4 2123.0,1602.5 2125.4,1602.5 C2127.7,1602.6 2130.1,1602.6 2132.4,1602.7 C2134.8,1602.8 2137.1,1602.9 2139.4,1603.1 C2141.7,1603.2 2144.1,1603.4 2146.4,1603.6 C2148.7,1603.9 2151.0,1604.1 2153.2,1604.4 C2155.5,1604.7 2160.0,1605.5 2160.0,1605.5 C2160.0,1605.5 2160.0,1605.5 2160.0,1605.5 C2160.1,1605.6 2353.3,1605.5 2450.0,1605.5" stroke="#ff0000" stroke-width="12" stroke-dasharray="0.0 1.2 4.0 62.0 4.0 62.0 4.0 62.0 4.0 62.0 4.0 62.0 4.0 62.0 4.0 61.5 4.0 63.3 4.0 67.4 4.0 56.8 4.0 64.9 4.0 65.4 4.0 62.5 4.0 63.4 4.0 62.4 4.0 64.2 4.0 60.1 4.0 67.8 4.0 60.7 4.0 70.4 4.0 55.5 4.0 57.4 4.0 62.6 25.2 50.6 4.0 62.3 4.0 70.0 4.0 63.5 4.0 61.4 4.0 64.6 4.0 58.8 4.0 68.2 4.0 61.3 4.0 63.0 4.0 60.8 4.0 61.3 4.0 56.5 4.0 62.0 4.0 62.0 4.0 62.0 4.0 62.0 4.0 62.0 4.0 62.0 4.0 62.0 4.0 62.0 1.6 1000.0" stroke-linecap="round" stroke-linejoin="round"/>
<path d="M285.0,1601.5 C330.0,1601.0 378.4,1601.1 420.0,1600.0 C455.8,1599.1 485.1,1597.3 520.0,1596.0 C558.2,1594.6 639.8,1591.9 640.0,1592.0 C640.0,1592.0 640.0,1592.0 640.0,1592.0 C640.0,1592.0 644.5,1591.6 646.7,1591.3 C649.0,1591.1 651.3,1590.9 653.5,1590.7 C655.8,1590.5 658.1,1590.2 660.4,1590.0 C662.7,1589.8 664.9,1589.6 667.2,1589.4 C669.5,1589.2 671.8,1589.0 674.1,1588.8 C676.4,1588.5 678.8,1588.3 681.1,1588.1 C683.4,1587.9 685.7,1587.7 688.0,1587.5 C690.4,1587.3 692.7,1587.1 695.0,1586.9 C697.3,1586.6 699.7,1586.4 702.0,1586.2 C704.4,1586.0 706.7,1585.8 709.1,1585.6 C711.4,1585.3 713.8,1585.1 716.1,1584.9 C718.5,1584.7 720.8,1584.4 723.2,1584.2 C725.5,1584.0 727.9,1583.7 730.3,1583.5 C732.6,1583.3 735.0,1583.0 737.4,1582.8 C739.7,1582.5 742.1,1582.3 744.5,1582.0 C746.8,1581.7 749.2,1581.5 751.6,1581.2 C753.9,1581.0 756.3,1580.7 758.7,1580.4 C761.1,1580.1 763.4,1579.8 765.8,1579.5 C768.2,1579.3 770.6,1579.0 772.9,1578.7 C775.3,1578.3 777.7,1578.0 780.0,1577.7 C782.4,1577.4 784.8,1577.1 787.1,1576.7 C789.5,1576.4 791.9,1576.1 794.3,1575.7 C796.6,1575.3 799.0,1575.0 801.3,1574.6 C803.7,1574.2 806.1,1573.9 808.4,1573.5 C810.8,1573.1 813.1,1572.7 815.5,1572.3 C817.8,1571.9 820.2,1571.5 822.5,1571.0 C824.9,1570.6 827.2,1570.2 829.6,1569.7 C831.9,1569.3 834.2,1568.8 836.6,1568.3 C838.9,1567.8 841.2,1567.4 843.5,1566.9 C845.9,1566.4 848.2,1565.9 850.5,1565.3 C852.8,1564.8 855.1,1564.3 857.4,1563.7 C859.7,1563.2 862.0,1562.6 864.3,1562.0 C866.6,1561.5 868.9,1560.9 871.2,1560.3 C873.5,1559.7 875.7,1559.0 878.0,1558.4 C880.3,1557.8 882.5,1557.1 884.8,1556.5 C887.0,1555.8 889.3,1555.1 891.5,1554.4 C893.8,1553.7 896.0,1553.0 898.2,1552.3 C900.4,1551.5 902.7,1550.8 904.9,1550.0 C907.1,1549.3 909.3,1548.5 911.5,1547.7 C913.6,1546.9 915.8,1546.1 918.0,1545.3 C920.2,1544.4 922.3,1543.6 924.5,1542.7 C926.6,1541.8 928.8,1540.9 930.9,1540.0 C933.0,1539.1 935.2,1538.2 937.3,1537.2 C939.4,1536.3 941.5,1535.3 943.6,1534.3 C945.6,1533.3 947.7,1532.3 949.8,1531.2 C951.8,1530.2 953.9,1529.1 955.9,1528.0 C957.9,1526.9 960.0,1525.8 962.0,1524.7 C964.0,1523.5 966.0,1522.4 967.9,1521.2 C969.9,1520.0 971.9,1518.8 973.8,1517.5 C975.7,1516.3 977.7,1515.0 979.6,1513.7 C981.5,1512.4 983.4,1511.1 985.3,1509.7 C987.2,1508.4 989.0,1507.0 990.9,1505.6 C992.7,1504.2 994.5,1502.7 996.3,1501.3 C998.1,1499.8 999.9,1498.3 1001.7,1496.8 C1003.5,1495.2 1005.2,1493.7 1007.0,1492.1 C1008.7,1490.5 1010.4,1488.9 1012.1,1487.2 C1013.8,1485.6 1015.5,1483.9 1017.1,1482.2 C1018.8,1480.4 1020.4,1478.7 1022.0,1476.9 C1023.6,1475.1 1025.2,1473.3 1026.7,1471.4 C1028.3,1469.5 1029.9,1467.6 1031.4,1465.7 C1032.9,1463.8 1034.4,1461.8 1035.9,1459.8 C1037.3,1457.8 1040.2,1453.8 1040.2,1453.7 C1040.2,1453.7 1040.2,1453.7 1040.2,1453.7 C1040.2,1453.5 1081.6,1390.6 1099.5,1357.2 C1117.5,1323.4 1133.3,1287.7 1147.8,1252.1 C1162.2,1216.6 1173.6,1179.4 1186.1,1143.9 C1198.2,1109.6 1209.3,1076.5 1221.9,1042.6 C1234.8,1008.1 1262.7,938.8 1262.7,938.7 C1262.7,938.7 1262.7,938.7 1262.7,938.7 C1262.7,938.7 1264.8,934.6 1265.8,932.6 C1266.9,930.6 1267.9,928.5 1269.0,926.5 C1270.0,924.4 1271.0,922.4 1272.1,920.3 C1273.1,918.3 1274.1,916.2 1275.2,914.1 C1276.2,912.0 1277.2,910.0 1278.2,907.9 C1279.3,905.8 1280.3,903.7 1281.3,901.6 C1282.3,899.5 1283.4,897.4 1284.4,895.3 C1285.4,893.2 1286.4,891.1 1287.5,889.0 C1288.5,886.9 1289.5,884.8 1290.5,882.7 C1291.6,880.6 1292.6,878.5 1293.6,876.4 C1294.7,874.3 1295.7,872.2 1296.8,870.1 C1297.8,868.0 1298.8,865.9 1299.9,863.8 C1301.0,861.6 1302.0,859.5 1303.1,857.4 C1304.1,855.3 1305.2,853.2 1306.3,851.1 C1307.3,849.0 1308.4,846.9 1309.5,844.8 C1310.6,842.7 1311.7,840.6 1312.8,838.5 C1313.9,836.4 1315.0,834.4 1316.1,832.3 C1317.2,830.2 1318.4,828.1 1319.5,826.0 C1320.6,824.0 1321.8,821.9 1322.9,819.8 C1324.1,817.8 1325.2,815.7 1326.4,813.7 C1327.6,811.6 1328.8,809.6 1330.0,807.5 C1331.2,805.5 1332.4,803.5 1333.6,801.5 C1334.8,799.4 1336.1,797.4 1337.3,795.4 C1338.5,793.4 1339.8,791.4 1341.1,789.4 C1342.4,787.5 1343.6,785.5 1344.9,783.5 C1346.2,781.6 1347.6,779.6 1348.9,777.7 C1350.2,775.7 1351.6,773.8 1352.9,771.9 C1354.3,769.9 1355.7,768.0 1357.1,766.1 C1358.5,764.2 1359.9,762.3 1361.3,760.5 C1362.8,758.6 1364.2,756.7 1365.7,754.9 C1367.1,753.0 1368.6,751.2 1370.1,749.4 C1371.6,747.6 1373.2,745.8 1374.7,744.0 C1376.3,742.2 1377.8,740.4 1379.4,738.7 C1381.0,736.9 1382.6,735.2 1384.2,733.5 C1385.9,731.7 1387.5,730.0 1389.2,728.3 C1390.9,726.7 1392.6,725.0 1394.3,723.3 C1396.0,721.7 1397.7,720.0 1399.5,718.4 C1401.3,716.8 1403.0,715.2 1404.9,713.7 C1406.7,712.1 1408.5,710.6 1410.4,709.2 C1412.3,707.8 1414.2,706.4 1416.1,705.2 C1418.1,704.1 1420.1,702.9 1422.1,702.0 C1424.1,701.2 1426.2,700.4 1428.3,699.9 C1430.4,699.3 1432.6,699.0 1434.8,698.9 C1437.0,698.7 1439.3,698.8 1441.5,699.1 C1443.7,699.3 1446.0,699.7 1448.2,700.2 C1450.4,700.7 1452.6,701.4 1454.8,702.1 C1456.9,702.8 1459.0,703.6 1461.1,704.5 C1463.1,705.4 1465.1,706.4 1467.1,707.4 C1469.0,708.4 1470.9,709.5 1472.8,710.7 C1474.6,711.9 1476.4,713.1 1478.2,714.4 C1480.0,715.8 1481.7,717.1 1483.4,718.6 C1485.1,720.0 1486.7,721.5 1488.3,723.1 C1489.9,724.6 1491.5,726.2 1493.0,727.9 C1494.6,729.6 1496.0,731.3 1497.5,733.0 C1499.0,734.8 1500.4,736.6 1501.8,738.5 C1503.1,740.3 1504.5,742.2 1505.8,744.2 C1507.1,746.1 1508.4,748.1 1509.7,750.1 C1511.0,752.1 1512.2,754.2 1513.4,756.3 C1514.6,758.3 1515.8,760.5 1516.9,762.6 C1518.1,764.7 1519.2,766.9 1520.3,769.1 C1521.4,771.3 1522.5,773.5 1523.6,775.8 C1524.7,778.0 1525.7,780.3 1526.7,782.5 C1527.8,784.8 1528.8,787.1 1529.7,789.4 C1530.7,791.7 1531.7,794.0 1532.7,796.3 C1533.6,798.6 1534.6,800.9 1535.5,803.3 C1536.4,805.6 1537.3,807.9 1538.3,810.2 C1539.2,812.6 1540.1,814.9 1541.0,817.2 C1541.8,819.5 1542.7,821.8 1543.6,824.1 C1544.5,826.4 1545.3,828.7 1546.2,831.0 C1547.1,833.3 1547.9,835.5 1548.8,837.8 C1549.7,840.0 1550.5,842.3 1551.4,844.5 C1552.2,846.7 1553.1,848.9 1553.9,851.2 C1554.7,853.3 1555.6,855.5 1556.4,857.7 C1557.2,859.9 1558.1,862.1 1558.9,864.2 C1559.7,866.4 1560.6,868.5 1561.4,870.7 C1562.2,872.8 1563.0,875.0 1563.9,877.1 C1564.7,879.2 1565.5,881.3 1566.3,883.5 C1567.1,885.6 1567.9,887.7 1568.7,889.8 C1569.5,891.9 1570.3,894.0 1571.1,896.1 C1571.9,898.2 1572.7,900.3 1573.5,902.4 C1574.3,904.5 1575.1,906.6 1575.9,908.6 C1576.7,910.7 1577.5,912.8 1578.3,914.9 C1579.1,917.0 1579.8,919.1 1580.6,921.2 C1581.4,923.3 1582.2,925.3 1583.0,927.4 C1583.8,929.5 1584.5,931.6 1585.3,933.7 C1586.1,935.8 1586.9,937.9 1587.6,940.0 C1588.4,942.1 1589.2,944.2 1590.0,946.3 C1590.7,948.5 1591.5,950.6 1592.3,952.7 C1593.0,954.8 1593.8,957.0 1594.6,959.1 C1595.3,961.2 1596.1,963.4 1596.9,965.5 C1597.6,967.7 1598.4,969.9 1599.2,972.0 C1599.9,974.2 1600.7,976.4 1601.5,978.6 C1602.2,980.8 1603.0,983.0 1603.8,985.2 C1604.5,987.4 1605.3,989.6 1606.0,991.9 C1606.8,994.1 1607.6,996.4 1608.3,998.6 C1609.1,1000.9 1609.9,1003.2 1610.6,1005.5 C1611.4,1007.8 1612.2,1010.1 1612.9,1012.4 C1613.7,1014.8 1614.4,1017.1 1615.2,1019.5 C1616.0,1021.9 1616.7,1024.2 1617.5,1026.6 C1618.3,1029.0 1619.8,1033.9 1619.8,1033.9 C1619.8,1033.9 1619.8,1033.9 1619.8,1033.9 C1619.8,1033.9 1659.3,1141.5 1659.3,1141.5 C1659.3,1141.5 1659.3,1141.5 1659.3,1141.5 C1659.3,1141.5 1661.3,1145.8 1662.3,1147.9 C1663.3,1150.0 1664.2,1152.2 1665.2,1154.3 C1666.2,1156.5 1667.1,1158.7 1668.1,1160.8 C1669.0,1163.0 1669.9,1165.2 1670.8,1167.3 C1671.8,1169.5 1672.7,1171.7 1673.6,1173.9 C1674.5,1176.0 1675.4,1178.2 1676.3,1180.4 C1677.2,1182.6 1678.1,1184.8 1679.0,1187.0 C1679.9,1189.1 1680.7,1191.3 1681.6,1193.5 C1682.5,1195.7 1683.4,1197.9 1684.3,1200.1 C1685.1,1202.3 1686.0,1204.5 1686.9,1206.7 C1687.8,1208.9 1688.7,1211.1 1689.5,1213.3 C1690.4,1215.5 1691.3,1217.6 1692.2,1219.8 C1693.1,1222.0 1694.0,1224.2 1694.9,1226.4 C1695.8,1228.6 1696.7,1230.8 1697.6,1232.9 C1698.5,1235.1 1699.4,1237.3 1700.3,1239.5 C1701.3,1241.6 1702.2,1243.8 1703.1,1246.0 C1704.1,1248.1 1705.0,1250.3 1706.0,1252.4 C1707.0,1254.6 1707.9,1256.7 1708.9,1258.9 C1709.9,1261.0 1710.9,1263.1 1711.9,1265.3 C1712.9,1267.4 1714.0,1269.5 1715.0,1271.6 C1716.1,1273.7 1717.1,1275.8 1718.2,1277.9 C1719.3,1280.0 1720.4,1282.1 1721.5,1284.2 C1722.6,1286.3 1723.7,1288.3 1724.9,1290.4 C1726.0,1292.4 1727.2,1294.5 1728.4,1296.5 C1729.6,1298.6 1730.8,1300.6 1732.0,1302.6 C1733.2,1304.6 1734.5,1306.6 1735.8,1308.6 C1737.1,1310.6 1738.4,1312.6 1739.7,1314.6 C1741.0,1316.5 1742.4,1318.5 1743.8,1320.4 C1745.2,1322.4 1746.6,1324.3 1748.0,1326.2 C1749.4,1328.1 1750.9,1330.0 1752.4,1331.9 C1753.9,1333.8 1754.7,1334.5 1757.0,1337.5 C1766.2,1349.4 1822.5,1427.6 1822.5,1427.7 C1822.5,1427.7 1822.5,1427.7 1822.5,1427.7 C1822.5,1427.7 1825.2,1431.4 1826.5,1433.2 C1827.9,1435.0 1829.3,1436.8 1830.7,1438.7 C1832.1,1440.5 1833.5,1442.3 1834.9,1444.1 C1836.3,1445.9 1837.8,1447.8 1839.2,1449.6 C1840.6,1451.4 1842.1,1453.2 1843.6,1455.0 C1845.1,1456.8 1846.6,1458.7 1848.1,1460.5 C1849.6,1462.3 1851.1,1464.1 1852.6,1465.9 C1854.1,1467.7 1855.7,1469.5 1857.2,1471.3 C1858.8,1473.0 1860.3,1474.8 1861.9,1476.6 C1863.5,1478.4 1865.1,1480.2 1866.7,1481.9 C1868.3,1483.7 1869.9,1485.5 1871.5,1487.3 C1873.2,1489.0 1874.8,1490.8 1876.4,1492.5 C1878.1,1494.3 1879.8,1496.0 1881.4,1497.7 C1883.1,1499.5 1884.8,1501.2 1886.5,1502.9 C1888.2,1504.7 1889.9,1506.4 1891.6,1508.1 C1893.3,1509.8 1895.0,1511.5 1896.7,1513.2 C1898.5,1514.9 1900.2,1516.5 1902.0,1518.2 C1903.7,1519.9 1905.5,1521.5 1907.2,1523.2 C1909.0,1524.9 1910.8,1526.5 1912.6,1528.1 C1914.3,1529.8 1916.1,1531.4 1917.9,1533.0 C1919.8,1534.6 1921.6,1536.2 1923.4,1537.8 C1925.2,1539.4 1927.0,1540.9 1928.9,1542.5 C1930.7,1544.1 1932.6,1545.6 1934.5,1547.1 C1936.3,1548.6 1938.2,1550.1 1940.1,1551.6 C1942.0,1553.1 1943.9,1554.6 1945.8,1556.0 C1947.7,1557.4 1949.6,1558.8 1951.5,1560.2 C1953.5,1561.6 1955.4,1563.0 1957.4,1564.3 C1959.3,1565.7 1961.3,1567.0 1963.3,1568.3 C1965.2,1569.6 1967.2,1570.8 1969.3,1572.0 C1971.3,1573.3 1973.3,1574.5 1975.3,1575.6 C1977.3,1576.8 1979.4,1577.9 1981.4,1579.0 C1983.5,1580.1 1985.6,1581.2 1987.7,1582.2 C1989.8,1583.2 1991.9,1584.2 1994.0,1585.2 C1996.1,1586.1 1998.2,1587.0 2000.4,1587.9 C2002.5,1588.8 2004.7,1589.6 2006.9,1590.4 C2009.1,1591.2 2011.2,1591.9 2013.5,1592.6 C2015.7,1593.3 2017.9,1594.0 2020.1,1594.6 C2022.4,1595.3 2024.6,1595.9 2026.9,1596.4 C2029.1,1597.0 2031.4,1597.5 2033.7,1598.0 C2036.0,1598.5 2038.3,1599.0 2040.6,1599.4 C2042.9,1599.8 2045.2,1600.2 2047.5,1600.6 C2049.8,1601.0 2052.1,1601.3 2054.5,1601.6 C2056.8,1601.9 2059.2,1602.2 2061.5,1602.5 C2063.9,1602.8 2066.2,1603.0 2068.6,1603.2 C2070.9,1603.5 2073.3,1603.7 2075.7,1603.8 C2078.1,1604.0 2080.4,1604.2 2082.8,1604.3 C2085.2,1604.5 2087.6,1604.6 2090.0,1604.7 C2092.3,1604.8 2094.7,1604.9 2097.1,1605.0 C2099.5,1605.1 2101.9,1605.1 2104.3,1605.2 C2106.7,1605.3 2109.1,1605.3 2111.5,1605.3 C2113.8,1605.4 2116.2,1605.4 2118.6,1605.4 C2121.0,1605.4 2123.4,1605.5 2125.8,1605.5 C2128.1,1605.5 2130.5,1605.5 2132.9,1605.5 C2135.3,1605.5 2140.0,1605.5 2140.0,1605.5 C2140.0,1605.5 2140.0,1605.5 2140.0,1605.5 C2140.2,1605.7 2346.7,1605.5 2450.0,1605.5" stroke="#00e000" stroke-width="12" stroke-dasharray="50.5 56.0 54.0 56.0 54.0 56.0 54.0 56.0 54.0 54.9 54.0 61.9 50.8 54.7 54.0 58.6 54.0 61.7 54.0 60.8 54.0 53.4 54.0 57.6 54.0 53.8 54.0 54.0 44.2 77.4 79.7 62.4 54.3 57.2 55.7 55.2 55.2 59.3 54.2 56.8 56.3 52.2 56.7 57.2 51.6 56.2 53.5 53.3 57.0 56.0 54.0 56.0 54.0 56.0 54.0 56.0 54.0 1007.2" stroke-linecap="butt" stroke-linejoin="round"/>
<path d="M285.0,1601.5 C390.0,1601.2 516.7,1602.7 600.0,1600.5 C654.9,1599.1 736.4,1593.8 736.5,1593.8 C736.5,1593.8 736.5,1593.8 736.5,1593.8 C736.5,1593.8 741.1,1593.9 743.4,1593.9 C745.7,1593.9 748.1,1593.9 750.4,1593.8 C752.7,1593.8 755.1,1593.7 757.4,1593.7 C759.7,1593.6 762.1,1593.5 764.4,1593.4 C766.7,1593.3 769.1,1593.1 771.4,1593.0 C773.8,1592.8 776.1,1592.6 778.4,1592.4 C780.8,1592.2 783.1,1592.0 785.5,1591.7 C787.8,1591.5 790.2,1591.2 792.5,1590.9 C794.8,1590.6 797.2,1590.2 799.5,1589.9 C801.8,1589.5 804.2,1589.2 806.5,1588.7 C808.8,1588.3 811.1,1587.9 813.4,1587.5 C815.7,1587.0 818.1,1586.5 820.3,1586.0 C822.6,1585.5 824.9,1584.9 827.2,1584.4 C829.5,1583.8 831.8,1583.2 834.0,1582.6 C836.3,1582.0 838.6,1581.3 840.8,1580.6 C843.1,1579.9 845.3,1579.2 847.5,1578.5 C849.7,1577.7 851.9,1576.9 854.1,1576.1 C856.3,1575.3 858.5,1574.5 860.7,1573.6 C862.9,1572.7 865.0,1571.8 867.2,1570.9 C869.3,1570.0 871.4,1569.0 873.5,1568.0 C875.6,1567.0 877.7,1566.0 879.8,1564.9 C881.9,1563.8 883.9,1562.7 886.0,1561.6 C888.0,1560.4 890.0,1559.3 892.0,1558.1 C894.0,1556.8 896.0,1555.6 898.0,1554.3 C900.0,1553.1 901.9,1551.8 903.8,1550.4 C905.7,1549.1 907.6,1547.7 909.5,1546.3 C911.4,1544.9 913.3,1543.5 915.1,1542.1 C916.9,1540.6 918.8,1539.1 920.5,1537.6 C922.3,1536.1 924.1,1534.6 925.9,1533.0 C927.6,1531.4 929.3,1529.8 931.0,1528.2 C932.8,1526.6 934.4,1525.0 936.1,1523.3 C937.7,1521.6 939.4,1519.9 941.0,1518.2 C942.6,1516.5 944.2,1514.8 945.7,1513.0 C947.3,1511.3 948.8,1509.5 950.3,1507.7 C951.8,1505.9 953.3,1504.0 954.8,1502.2 C956.2,1500.4 957.7,1498.5 959.1,1496.6 C960.5,1494.7 961.9,1492.8 963.2,1490.9 C964.5,1489.0 965.9,1487.1 967.2,1485.1 C968.5,1483.1 969.7,1481.2 971.0,1479.2 C972.2,1477.2 973.4,1475.2 974.6,1473.2 C975.8,1471.2 976.9,1469.1 978.1,1467.1 C979.2,1465.0 980.3,1463.0 981.4,1460.9 C982.5,1458.8 983.5,1456.7 984.6,1454.7 C985.6,1452.6 986.6,1450.5 987.6,1448.3 C988.6,1446.2 989.6,1444.1 990.6,1442.0 C991.6,1439.8 992.5,1437.7 993.5,1435.6 C994.4,1433.4 995.3,1431.3 996.2,1429.1 C997.2,1427.0 998.1,1424.8 998.9,1422.6 C999.8,1420.5 1000.7,1418.3 1001.6,1416.1 C1002.5,1413.9 1003.3,1411.8 1004.2,1409.6 C1005.1,1407.4 1005.9,1405.2 1006.8,1403.0 C1007.6,1400.8 1008.5,1398.7 1009.3,1396.5 C1010.1,1394.3 1011.0,1392.1 1011.8,1389.9 C1012.6,1387.7 1013.4,1385.5 1014.3,1383.3 C1015.1,1381.1 1015.9,1378.9 1016.7,1376.7 C1017.5,1374.5 1018.3,1372.3 1019.1,1370.1 C1019.8,1367.9 1020.6,1365.7 1021.4,1363.5 C1022.2,1361.3 1023.0,1359.1 1023.7,1356.9 C1024.5,1354.7 1025.3,1352.5 1026.0,1350.2 C1026.8,1348.0 1027.5,1345.8 1028.3,1343.6 C1029.0,1341.4 1029.7,1339.2 1030.5,1336.9 C1031.2,1334.7 1031.9,1332.5 1032.7,1330.3 C1033.4,1328.0 1034.1,1325.8 1034.8,1323.6 C1035.5,1321.4 1036.2,1319.1 1036.9,1316.9 C1037.6,1314.7 1038.3,1312.4 1039.0,1310.2 C1039.7,1308.0 1040.4,1305.7 1041.1,1303.5 C1041.8,1301.3 1042.4,1299.0 1043.1,1296.8 C1043.8,1294.5 1044.4,1292.3 1045.1,1290.1 C1045.8,1287.8 1046.4,1285.6 1047.1,1283.3 C1047.7,1281.1 1048.4,1278.8 1049.0,1276.6 C1049.7,1274.3 1050.3,1272.1 1050.9,1269.8 C1051.6,1267.6 1052.2,1265.3 1052.8,1263.1 C1053.5,1260.8 1054.1,1258.5 1054.7,1256.3 C1055.3,1254.0 1055.9,1251.8 1056.5,1249.5 C1057.1,1247.3 1057.7,1245.0 1058.3,1242.7 C1058.9,1240.5 1059.5,1238.2 1060.1,1235.9 C1060.7,1233.7 1061.3,1231.4 1061.9,1229.1 C1062.5,1226.9 1063.0,1224.6 1063.6,1222.3 C1064.2,1220.1 1064.8,1217.8 1065.3,1215.5 C1065.9,1213.2 1066.5,1211.0 1067.0,1208.7 C1067.6,1206.4 1068.1,1204.1 1068.7,1201.9 C1069.2,1199.6 1069.8,1197.3 1070.3,1195.0 C1070.9,1192.8 1071.4,1190.5 1072.0,1188.2 C1072.5,1185.9 1073.0,1183.6 1073.6,1181.4 C1074.1,1179.1 1074.6,1176.8 1075.2,1174.5 C1075.7,1172.2 1076.2,1169.9 1076.7,1167.7 C1077.2,1165.4 1077.8,1163.1 1078.3,1160.8 C1078.8,1158.5 1079.3,1156.2 1079.8,1153.9 C1080.3,1151.6 1080.8,1149.3 1081.3,1147.1 C1081.8,1144.8 1082.3,1142.5 1082.8,1140.2 C1083.3,1137.9 1083.8,1135.6 1084.3,1133.3 C1084.7,1131.0 1085.2,1128.7 1085.7,1126.4 C1086.2,1124.1 1086.7,1121.8 1087.2,1119.5 C1087.6,1117.2 1088.1,1114.9 1088.6,1112.6 C1089.1,1110.4 1089.5,1108.1 1090.0,1105.8 C1090.5,1103.5 1090.9,1101.2 1091.4,1098.9 C1091.8,1096.6 1092.3,1094.3 1092.8,1092.0 C1093.2,1089.7 1093.7,1087.4 1094.1,1085.1 C1094.6,1082.8 1095.0,1080.5 1095.5,1078.2 C1095.9,1075.8 1096.4,1073.5 1096.8,1071.2 C1097.3,1068.9 1097.7,1066.6 1098.1,1064.3 C1098.6,1062.0 1099.0,1059.7 1099.5,1057.4 C1099.9,1055.1 1100.3,1052.8 1100.8,1050.5 C1101.2,1048.2 1101.6,1045.9 1102.1,1043.6 C1102.5,1041.3 1102.9,1039.0 1103.3,1036.7 C1103.8,1034.4 1104.2,1032.1 1104.6,1029.8 C1105.0,1027.5 1105.5,1025.1 1105.9,1022.8 C1106.3,1020.5 1106.7,1018.2 1107.1,1015.9 C1107.6,1013.6 1108.0,1011.3 1108.4,1009.0 C1108.8,1006.7 1109.2,1004.4 1109.6,1002.1 C1110.1,999.8 1110.5,997.5 1110.9,995.2 C1111.3,992.9 1111.7,990.6 1112.1,988.2 C1112.5,985.9 1112.9,983.6 1113.3,981.3 C1113.7,979.0 1114.1,976.7 1114.5,974.4 C1114.9,972.1 1115.4,969.8 1115.8,967.5 C1116.2,965.2 1116.6,962.9 1117.0,960.6 C1117.4,958.3 1117.8,955.9 1118.2,953.6 C1118.6,951.3 1119.0,949.0 1119.4,946.7 C1119.8,944.4 1120.1,942.1 1120.5,939.8 C1120.9,937.5 1121.3,935.2 1121.7,932.9 C1122.1,930.6 1122.5,928.3 1122.9,926.0 C1123.3,923.7 1123.7,921.3 1124.1,919.0 C1124.5,916.7 1124.9,914.4 1125.2,912.1 C1125.6,909.8 1126.0,907.5 1126.4,905.2 C1126.8,902.9 1127.2,900.6 1127.6,898.3 C1128.0,896.0 1128.3,893.7 1128.7,891.4 C1129.1,889.0 1129.5,886.7 1129.9,884.4 C1130.3,882.1 1130.7,879.8 1131.0,877.5 C1131.4,875.2 1131.8,872.9 1132.2,870.6 C1132.6,868.3 1133.0,866.0 1133.3,863.7 C1133.7,861.4 1134.1,859.0 1134.5,856.7 C1134.9,854.4 1135.2,852.1 1135.6,849.8 C1136.0,847.5 1136.4,845.2 1136.8,842.9 C1137.1,840.6 1137.5,838.3 1137.9,836.0 C1138.3,833.7 1138.6,831.3 1139.0,829.0 C1139.4,826.7 1139.8,824.4 1140.2,822.1 C1140.5,819.8 1140.9,817.5 1141.3,815.2 C1141.7,812.9 1142.0,810.6 1142.4,808.3 C1142.8,806.0 1143.2,803.6 1143.5,801.3 C1143.9,799.0 1144.3,796.7 1144.7,794.4 C1145.0,792.1 1145.4,789.8 1145.8,787.5 C1146.2,785.2 1146.5,782.9 1146.9,780.6 C1147.3,778.2 1147.7,775.9 1148.0,773.6 C1148.4,771.3 1148.8,769.0 1149.2,766.7 C1149.5,764.4 1149.9,762.1 1150.3,759.8 C1150.7,757.5 1151.0,755.2 1151.4,752.8 C1151.8,750.5 1152.2,748.2 1152.5,745.9 C1152.9,743.6 1153.3,741.3 1153.7,739.0 C1154.0,736.7 1154.4,734.4 1154.8,732.1 C1155.2,729.7 1155.6,727.4 1155.9,725.1 C1156.3,722.8 1156.7,720.5 1157.1,718.2 C1157.4,715.9 1157.8,713.6 1158.2,711.3 C1158.6,708.9 1158.9,706.6 1159.3,704.3 C1159.7,702.0 1160.1,699.7 1160.5,697.4 C1160.8,695.1 1161.2,692.8 1161.6,690.5 C1162.0,688.1 1162.4,685.8 1162.7,683.5 C1163.1,681.2 1163.5,678.9 1163.9,676.6 C1164.3,674.3 1164.6,672.0 1165.0,669.7 C1165.4,667.3 1165.8,665.0 1166.2,662.7 C1166.6,660.4 1166.9,658.1 1167.3,655.8 C1167.7,653.5 1168.1,651.2 1168.5,648.8 C1168.9,646.5 1169.2,644.2 1169.6,641.9 C1170.0,639.6 1170.4,637.3 1170.8,635.0 C1171.2,632.6 1171.6,630.3 1172.0,628.0 C1172.3,625.7 1172.7,623.4 1173.1,621.1 C1173.5,618.8 1173.9,616.5 1174.3,614.1 C1174.7,611.8 1175.1,609.5 1175.5,607.2 C1175.9,604.9 1176.3,602.6 1176.7,600.3 C1177.1,597.9 1177.5,595.6 1177.9,593.3 C1178.2,591.0 1178.6,588.7 1179.0,586.4 C1179.4,584.0 1179.8,581.7 1180.2,579.4 C1180.6,577.1 1181.0,574.8 1181.4,572.5 C1181.9,570.2 1182.3,567.8 1182.7,565.5 C1183.1,563.2 1183.5,560.9 1183.9,558.6 C1184.3,556.3 1184.7,554.0 1185.1,551.6 C1185.6,549.3 1186.0,547.0 1186.4,544.7 C1186.8,542.4 1187.3,540.1 1187.7,537.8 C1188.1,535.5 1188.6,533.2 1189.0,530.9 C1189.4,528.5 1189.9,526.2 1190.4,523.9 C1190.8,521.6 1191.3,519.3 1191.7,517.0 C1192.2,514.7 1192.7,512.4 1193.2,510.1 C1193.6,507.9 1194.1,505.6 1194.6,503.3 C1195.1,501.0 1195.6,498.7 1196.1,496.4 C1196.7,494.1 1197.2,491.8 1197.7,489.6 C1198.2,487.3 1198.8,485.0 1199.3,482.7 C1199.9,480.5 1200.4,478.2 1201.0,475.9 C1201.6,473.7 1202.2,471.4 1202.7,469.1 C1203.3,466.9 1203.9,464.6 1204.6,462.4 C1205.2,460.1 1205.8,457.9 1206.4,455.6 C1207.1,453.4 1207.7,451.1 1208.4,448.9 C1209.0,446.7 1209.7,444.4 1210.4,442.2 C1211.1,440.0 1211.8,437.8 1212.5,435.5 C1213.3,433.3 1214.0,431.1 1214.8,428.9 C1215.5,426.7 1216.3,424.6 1217.2,422.4 C1218.0,420.3 1218.9,418.1 1219.8,416.0 C1220.8,413.9 1221.7,411.8 1222.8,409.8 C1223.8,407.7 1224.9,405.7 1226.0,403.7 C1227.2,401.7 1228.4,399.7 1229.6,397.8 C1230.9,395.9 1232.2,393.9 1233.5,392.1 C1234.8,390.2 1236.2,388.3 1237.6,386.5 C1239.1,384.6 1240.5,382.8 1242.0,381.1 C1243.5,379.3 1245.0,377.5 1246.6,375.7 C1248.2,374.0 1249.8,372.3 1251.4,370.6 C1253.0,368.9 1254.6,367.2 1256.3,365.5 C1258.0,363.8 1259.7,362.1 1261.4,360.5 C1263.1,358.9 1264.8,357.2 1266.5,355.6 C1268.2,354.0 1270.0,352.4 1271.7,350.8 C1273.5,349.2 1277.0,346.0 1277.0,346.0 C1277.0,346.0 1277.0,346.0 1277.0,346.0 C1276.9,346.1 1278.5,350.4 1279.2,352.7 C1280.0,354.9 1280.7,357.1 1281.5,359.3 C1282.2,361.5 1282.9,363.7 1283.7,366.0 C1284.4,368.2 1285.1,370.4 1285.8,372.6 C1286.6,374.9 1287.3,377.1 1288.0,379.3 C1288.7,381.5 1289.5,383.7 1290.2,386.0 C1290.9,388.2 1291.6,390.4 1292.3,392.7 C1293.0,394.9 1293.7,397.1 1294.4,399.3 C1295.1,401.6 1295.8,403.8 1296.5,406.0 C1297.2,408.3 1297.9,410.5 1298.6,412.7 C1299.3,415.0 1300.0,417.2 1300.7,419.4 C1301.4,421.7 1302.1,423.9 1302.8,426.1 C1303.4,428.4 1304.1,430.6 1304.8,432.8 C1305.5,435.1 1306.2,437.3 1306.8,439.5 C1307.5,441.8 1308.2,444.0 1308.9,446.3 C1309.5,448.5 1310.2,450.7 1310.9,453.0 C1311.5,455.2 1312.2,457.5 1312.8,459.7 C1313.5,461.9 1314.2,464.2 1314.8,466.4 C1315.5,468.7 1316.1,470.9 1316.8,473.1 C1317.4,475.4 1318.1,477.6 1318.7,479.9 C1319.4,482.1 1320.0,484.4 1320.7,486.6 C1321.3,488.9 1322.0,491.1 1322.6,493.4 C1323.3,495.6 1323.9,497.9 1324.5,500.1 C1325.2,502.4 1325.8,504.6 1326.5,506.9 C1327.1,509.1 1327.7,511.4 1328.4,513.6 C1329.0,515.9 1329.6,518.1 1330.2,520.4 C1330.9,522.6 1331.5,524.9 1332.1,527.1 C1332.7,529.4 1333.4,531.6 1334.0,533.9 C1334.6,536.1 1335.2,538.4 1335.8,540.6 C1336.5,542.9 1337.1,545.1 1337.7,547.4 C1338.3,549.7 1338.9,551.9 1339.5,554.2 C1340.2,556.4 1340.8,558.7 1341.4,560.9 C1342.0,563.2 1342.6,565.4 1343.2,567.7 C1343.8,570.0 1344.4,572.2 1345.0,574.5 C1345.6,576.7 1346.2,579.0 1346.8,581.3 C1347.4,583.5 1348.0,585.8 1348.6,588.0 C1349.2,590.3 1349.8,592.6 1350.4,594.8 C1351.0,597.1 1351.6,599.3 1352.2,601.6 C1352.8,603.9 1353.4,606.1 1354.0,608.4 C1354.6,610.6 1355.2,612.9 1355.8,615.2 C1356.4,617.4 1357.0,619.7 1357.6,622.0 C1358.2,624.2 1358.7,626.5 1359.3,628.7 C1359.9,631.0 1360.5,633.3 1361.1,635.5 C1361.7,637.8 1362.3,640.1 1362.9,642.3 C1363.4,644.6 1364.0,646.9 1364.6,649.1 C1365.2,651.4 1365.8,653.7 1366.4,655.9 C1367.0,658.2 1367.5,660.4 1368.1,662.7 C1368.7,665.0 1369.3,667.2 1369.9,669.5 C1370.4,671.8 1371.0,674.0 1371.6,676.3 C1372.2,678.6 1372.8,680.8 1373.3,683.1 C1373.9,685.4 1374.5,687.6 1375.1,689.9 C1375.7,692.2 1376.2,694.4 1376.8,696.7 C1377.4,699.0 1378.0,701.2 1378.5,703.5 C1379.1,705.8 1379.7,708.0 1380.3,710.3 C1380.9,712.6 1381.4,714.8 1382.0,717.1 C1382.6,719.4 1383.2,721.6 1383.7,723.9 C1384.3,726.2 1384.9,728.4 1385.5,730.7 C1386.1,733.0 1386.6,735.2 1387.2,737.5 C1387.8,739.8 1388.4,742.0 1388.9,744.3 C1389.5,746.6 1390.1,748.8 1390.7,751.1 C1391.2,753.4 1391.8,755.6 1392.4,757.9 C1393.0,760.2 1393.6,762.4 1394.1,764.7 C1394.7,767.0 1395.3,769.2 1395.9,771.5 C1396.4,773.8 1397.0,776.0 1397.6,778.3 C1398.2,780.6 1398.8,782.8 1399.3,785.1 C1399.9,787.4 1400.5,789.6 1401.1,791.9 C1401.7,794.2 1402.3,796.4 1402.8,798.7 C1403.4,800.9 1404.0,803.2 1404.6,805.5 C1405.2,807.7 1405.7,810.0 1406.3,812.3 C1406.9,814.5 1407.5,816.8 1408.1,819.1 C1408.7,821.3 1409.3,823.6 1409.8,825.9 C1410.4,828.1 1411.0,830.4 1411.6,832.6 C1412.2,834.9 1412.8,837.2 1413.4,839.4 C1414.0,841.7 1414.6,844.0 1415.2,846.2 C1415.7,848.5 1416.3,850.7 1416.9,853.0 C1417.5,855.3 1418.1,857.5 1418.7,859.8 C1419.3,862.0 1419.9,864.3 1420.5,866.6 C1421.1,868.8 1421.7,871.1 1422.3,873.3 C1422.9,875.6 1423.5,877.9 1424.1,880.1 C1424.7,882.4 1425.3,884.6 1425.9,886.9 C1426.5,889.2 1427.1,891.4 1427.7,893.7 C1428.3,895.9 1429.0,898.2 1429.6,900.4 C1430.2,902.7 1430.8,905.0 1431.4,907.2 C1432.0,909.5 1432.6,911.7 1433.2,914.0 C1433.9,916.2 1434.5,918.5 1435.1,920.7 C1435.7,923.0 1436.3,925.3 1436.9,927.5 C1437.6,929.8 1438.2,932.0 1438.8,934.3 C1439.4,936.5 1440.1,938.8 1440.7,941.0 C1441.3,943.3 1442.0,945.5 1442.6,947.8 C1443.2,950.0 1443.8,952.3 1444.5,954.5 C1445.1,956.8 1445.8,959.0 1446.4,961.3 C1447.0,963.5 1447.7,965.8 1448.3,968.0 C1449.0,970.3 1449.6,972.5 1450.2,974.7 C1450.9,977.0 1451.5,979.2 1452.2,981.5 C1452.8,983.7 1453.5,986.0 1454.1,988.2 C1454.8,990.5 1455.4,992.7 1456.1,994.9 C1456.8,997.2 1457.4,999.4 1458.1,1001.7 C1458.7,1003.9 1459.4,1006.1 1460.1,1008.4 C1460.7,1010.6 1461.4,1012.9 1462.1,1015.1 C1462.7,1017.3 1463.4,1019.6 1464.1,1021.8 C1464.8,1024.1 1465.4,1026.3 1466.1,1028.5 C1466.8,1030.8 1467.5,1033.0 1468.2,1035.2 C1468.8,1037.5 1469.5,1039.7 1470.2,1041.9 C1470.9,1044.2 1471.6,1046.4 1472.3,1048.6 C1473.0,1050.9 1473.7,1053.1 1474.4,1055.3 C1475.1,1057.5 1475.8,1059.8 1476.5,1062.0 C1477.2,1064.2 1477.9,1066.5 1478.6,1068.7 C1479.3,1070.9 1480.0,1073.1 1480.7,1075.4 C1481.5,1077.6 1482.2,1079.8 1482.9,1082.0 C1483.6,1084.3 1484.3,1086.5 1485.1,1088.7 C1485.8,1090.9 1486.5,1093.1 1487.2,1095.4 C1488.0,1097.6 1488.7,1099.8 1489.4,1102.0 C1490.2,1104.2 1490.9,1106.5 1491.7,1108.7 C1492.4,1110.9 1493.2,1113.1 1493.9,1115.3 C1494.6,1117.5 1495.4,1119.8 1496.2,1122.0 C1496.9,1124.2 1497.7,1126.4 1498.4,1128.6 C1499.2,1130.8 1500.0,1133.0 1500.7,1135.2 C1501.5,1137.4 1502.3,1139.6 1503.0,1141.9 C1503.8,1144.1 1504.6,1146.3 1505.4,1148.5 C1506.1,1150.7 1506.9,1152.9 1507.7,1155.1 C1508.5,1157.3 1509.3,1159.5 1510.1,1161.7 C1510.9,1163.9 1511.7,1166.1 1512.5,1168.3 C1513.3,1170.5 1514.1,1172.7 1514.9,1174.9 C1515.7,1177.1 1516.5,1179.3 1517.3,1181.4 C1518.2,1183.6 1519.0,1185.8 1519.8,1188.0 C1520.6,1190.2 1521.5,1192.4 1522.3,1194.6 C1523.1,1196.8 1524.0,1198.9 1524.8,1201.1 C1525.7,1203.3 1526.5,1205.5 1527.4,1207.7 C1528.2,1209.8 1529.1,1212.0 1529.9,1214.2 C1530.8,1216.4 1531.7,1218.5 1532.5,1220.7 C1533.4,1222.9 1534.3,1225.0 1535.2,1227.2 C1536.1,1229.4 1536.9,1231.5 1537.8,1233.7 C1538.7,1235.8 1539.6,1238.0 1540.5,1240.1 C1541.4,1242.3 1542.3,1244.4 1543.2,1246.6 C1544.2,1248.7 1545.1,1250.9 1546.0,1253.0 C1546.9,1255.2 1547.9,1257.3 1548.8,1259.5 C1549.7,1261.6 1550.7,1263.7 1551.6,1265.9 C1552.6,1268.0 1553.5,1270.1 1554.5,1272.3 C1555.4,1274.4 1556.4,1276.5 1557.4,1278.6 C1558.4,1280.7 1559.3,1282.9 1560.3,1285.0 C1561.3,1287.1 1562.3,1289.2 1563.3,1291.3 C1564.3,1293.4 1565.3,1295.5 1566.3,1297.6 C1567.3,1299.7 1568.3,1301.8 1569.4,1303.9 C1570.4,1306.0 1571.4,1308.1 1572.5,1310.2 C1573.5,1312.3 1574.5,1314.4 1575.6,1316.4 C1576.6,1318.5 1577.7,1320.6 1578.8,1322.7 C1579.8,1324.7 1580.9,1326.8 1582.0,1328.9 C1583.1,1330.9 1584.1,1333.0 1585.2,1335.0 C1586.3,1337.1 1587.4,1339.2 1588.5,1341.2 C1589.7,1343.3 1590.8,1345.3 1591.9,1347.3 C1593.0,1349.4 1594.2,1351.4 1595.3,1353.4 C1596.4,1355.5 1597.6,1357.5 1598.7,1359.5 C1599.9,1361.5 1601.1,1363.6 1602.2,1365.6 C1603.4,1367.6 1604.6,1369.6 1605.8,1371.6 C1607.0,1373.6 1608.2,1375.6 1609.4,1377.6 C1610.6,1379.6 1611.8,1381.6 1613.0,1383.6 C1614.2,1385.6 1615.5,1387.5 1616.7,1389.5 C1617.9,1391.5 1619.2,1393.5 1620.4,1395.4 C1621.7,1397.4 1623.0,1399.4 1624.2,1401.3 C1625.5,1403.3 1626.8,1405.2 1628.1,1407.2 C1629.4,1409.1 1630.7,1411.1 1632.0,1413.0 C1633.3,1414.9 1634.6,1416.9 1636.0,1418.8 C1637.3,1420.7 1638.6,1422.6 1640.0,1424.6 C1641.3,1426.5 1642.7,1428.4 1644.0,1430.3 C1645.4,1432.2 1646.8,1434.1 1648.2,1436.0 C1649.6,1437.9 1651.0,1439.8 1652.4,1441.6 C1653.8,1443.5 1655.2,1445.4 1656.6,1447.3 C1658.0,1449.1 1659.5,1451.0 1660.9,1452.8 C1662.4,1454.7 1663.8,1456.6 1665.3,1458.4 C1666.8,1460.2 1668.2,1462.1 1669.7,1463.9 C1671.2,1465.7 1672.7,1467.6 1674.2,1469.4 C1675.7,1471.2 1677.2,1473.0 1678.7,1474.8 C1680.3,1476.6 1681.8,1478.4 1683.3,1480.2 C1684.9,1482.0 1686.4,1483.8 1688.0,1485.6 C1689.5,1487.4 1691.1,1489.1 1692.7,1490.9 C1694.2,1492.7 1695.8,1494.4 1697.4,1496.2 C1699.0,1497.9 1700.6,1499.7 1702.2,1501.4 C1703.8,1503.2 1705.4,1504.9 1707.0,1506.6 C1708.7,1508.3 1710.3,1510.0 1711.9,1511.7 C1713.6,1513.5 1715.2,1515.2 1716.9,1516.8 C1718.5,1518.5 1720.2,1520.2 1721.9,1521.9 C1723.5,1523.6 1725.2,1525.2 1726.9,1526.9 C1728.6,1528.6 1730.3,1530.2 1731.9,1531.9 C1733.6,1533.5 1735.3,1535.1 1737.1,1536.8 C1738.8,1538.4 1740.5,1540.0 1742.2,1541.6 C1743.9,1543.2 1745.7,1544.8 1747.4,1546.4 C1749.1,1548.0 1750.9,1549.6 1752.6,1551.2 C1754.4,1552.8 1756.1,1554.3 1757.9,1555.9 C1759.7,1557.4 1761.5,1559.0 1763.2,1560.5 C1765.0,1562.0 1766.8,1563.5 1768.6,1565.0 C1770.4,1566.5 1772.2,1567.9 1774.1,1569.4 C1775.9,1570.8 1777.8,1572.2 1779.6,1573.5 C1781.5,1574.9 1783.4,1576.2 1785.3,1577.5 C1787.1,1578.8 1789.1,1580.1 1791.0,1581.3 C1792.9,1582.5 1794.9,1583.6 1796.8,1584.7 C1798.8,1585.9 1800.8,1586.9 1802.8,1587.9 C1804.8,1589.0 1806.9,1589.9 1808.9,1590.8 C1811.0,1591.7 1813.1,1592.6 1815.2,1593.4 C1817.3,1594.2 1819.4,1594.9 1821.6,1595.6 C1823.7,1596.3 1825.9,1596.9 1828.1,1597.5 C1830.3,1598.1 1832.5,1598.7 1834.7,1599.2 C1837.0,1599.7 1839.2,1600.1 1841.5,1600.6 C1843.7,1601.0 1846.0,1601.4 1848.3,1601.7 C1850.6,1602.1 1852.9,1602.4 1855.2,1602.7 C1857.5,1602.9 1859.8,1603.2 1862.1,1603.4 C1864.5,1603.6 1866.8,1603.8 1869.2,1604.0 C1871.5,1604.1 1873.9,1604.2 1876.3,1604.4 C1878.6,1604.5 1881.0,1604.5 1883.4,1604.6 C1885.7,1604.7 1888.1,1604.7 1890.5,1604.8 C1892.9,1604.8 1895.3,1604.8 1897.7,1604.8 C1900.1,1604.9 1902.4,1604.9 1904.8,1604.9 C1907.2,1604.9 1909.6,1604.9 1912.0,1604.9 C1914.3,1604.9 1916.7,1604.9 1919.0,1604.9 C1921.4,1605.0 1923.8,1605.0 1926.1,1605.0 C1928.4,1605.1 1930.8,1605.1 1933.1,1605.2 C1935.4,1605.3 1940.0,1605.5 1940.0,1605.5 C1940.0,1605.5 1940.0,1605.5 1940.0,1605.5 C1940.2,1605.8 2280.0,1605.5 2450.0,1605.5" stroke="#0000d0" stroke-width="10.5" stroke-dasharray="0.0 5.2 69.0 26.0 18.0 26.0 69.0 26.0 18.0 26.0 69.0 26.0 18.0 26.0 59.0 26.1 18.0 26.8 66.7 23.1 18.0 32.1 68.5 31.2 18.0 32.3 61.0 31.3 18.0 26.8 68.5 30.0 18.0 29.8 63.7 29.6 18.0 29.8 65.5 29.7 18.0 30.7 62.1 31.0 18.0 30.2 63.2 29.9 18.0 30.8 64.6 28.2 18.0 30.9 61.4 55.3 18.0 30.7 70.1 28.5 18.0 30.3 62.8 31.0 18.0 31.2 65.0 29.2 18.0 32.1 61.8 30.3 18.0 30.7 119.5 31.8 18.0 27.3 62.8 31.7 18.0 33.0 58.7 25.4 18.0 28.5 67.2 26.2 18.0 32.0 65.1 26.9 18.0 26.0 69.0 26.0 18.0 26.0 69.0 26.0 18.0 26.0 69.0 26.0 18.0 26.0 69.0 26.0 18.0 26.0 53.5 1000.0" stroke-linecap="butt" stroke-linejoin="round"/>
<path d="M296,1601.2 L600,1600.6 L706,1599.5" stroke="#00009a" stroke-width="5"/>
<path d="M285.0,1594.5 C390.0,1594.2 599.5,1593.6 600.0,1593.5 C600.0,1593.5 600.0,1593.5 600.0,1593.5 C600.1,1593.5 604.0,1593.5 606.0,1593.5 C608.1,1593.5 610.1,1593.5 612.2,1593.5 C614.3,1593.4 616.4,1593.4 618.5,1593.4 C620.7,1593.4 622.8,1593.4 625.0,1593.4 C627.1,1593.4 629.3,1593.4 631.5,1593.4 C633.8,1593.4 636.0,1593.4 638.2,1593.4 C640.5,1593.4 642.8,1593.3 645.1,1593.3 C647.3,1593.3 649.6,1593.3 652.0,1593.2 C654.3,1593.2 656.6,1593.2 659.0,1593.1 C661.3,1593.1 663.7,1593.0 666.0,1593.0 C668.4,1592.9 670.8,1592.9 673.2,1592.8 C675.6,1592.7 678.0,1592.6 680.4,1592.6 C682.8,1592.5 685.3,1592.4 687.7,1592.3 C690.1,1592.2 692.6,1592.0 695.0,1591.9 C697.4,1591.8 699.9,1591.6 702.4,1591.5 C704.8,1591.3 707.3,1591.2 709.7,1591.0 C712.2,1590.8 714.7,1590.6 717.1,1590.4 C719.6,1590.2 722.1,1590.0 724.5,1589.8 C727.0,1589.6 729.5,1589.3 732.0,1589.1 C734.4,1588.8 736.9,1588.5 739.4,1588.2 C741.8,1587.9 744.3,1587.6 746.8,1587.3 C749.2,1587.0 751.7,1586.6 754.1,1586.3 C756.6,1585.9 759.0,1585.5 761.4,1585.1 C763.9,1584.7 766.3,1584.3 768.7,1583.8 C771.1,1583.4 773.5,1582.9 775.9,1582.4 C778.3,1582.0 780.7,1581.5 783.1,1580.9 C785.5,1580.4 787.9,1579.8 790.2,1579.3 C792.6,1578.7 794.9,1578.1 797.2,1577.5 C799.5,1576.8 801.9,1576.2 804.2,1575.5 C806.4,1574.8 808.7,1574.1 811.0,1573.4 C813.2,1572.7 815.5,1571.9 817.7,1571.2 C819.9,1570.4 822.1,1569.6 824.3,1568.7 C826.5,1567.9 828.6,1567.0 830.8,1566.1 C832.9,1565.2 835.0,1564.3 837.1,1563.4 C839.2,1562.4 841.3,1561.4 843.3,1560.4 C845.4,1559.4 847.4,1558.4 849.4,1557.3 C851.4,1556.2 853.3,1555.1 855.3,1553.9 C857.2,1552.8 859.1,1551.6 861.0,1550.4 C862.9,1549.2 864.7,1547.9 866.5,1546.7 C868.3,1545.4 870.1,1544.1 871.9,1542.7 C873.7,1541.4 875.4,1540.0 877.1,1538.6 C878.8,1537.2 880.5,1535.7 882.1,1534.3 C883.7,1532.8 885.4,1531.3 887.0,1529.7 C888.6,1528.2 890.1,1526.7 891.7,1525.1 C893.2,1523.5 894.7,1521.9 896.2,1520.2 C897.7,1518.6 899.2,1516.9 900.6,1515.2 C902.0,1513.5 903.4,1511.8 904.8,1510.0 C906.2,1508.3 907.6,1506.5 908.9,1504.7 C910.3,1502.9 911.6,1501.1 912.9,1499.3 C914.2,1497.4 915.5,1495.6 916.8,1493.7 C918.0,1491.8 919.3,1489.9 920.5,1488.0 C921.7,1486.0 922.9,1484.1 924.1,1482.1 C925.3,1480.2 926.4,1478.2 927.6,1476.2 C928.7,1474.2 929.8,1472.1 930.9,1470.1 C932.0,1468.1 933.1,1466.0 934.2,1464.0 C935.3,1461.9 936.3,1459.8 937.3,1457.7 C938.4,1455.6 939.4,1453.5 940.4,1451.4 C941.4,1449.2 942.4,1447.1 943.4,1445.0 C944.4,1442.8 945.3,1440.6 946.3,1438.5 C947.2,1436.3 948.1,1434.1 949.1,1431.9 C950.0,1429.7 950.9,1427.5 951.8,1425.3 C952.7,1423.1 953.6,1420.9 954.4,1418.6 C955.3,1416.4 956.2,1414.2 957.0,1411.9 C957.9,1409.7 958.7,1407.4 959.5,1405.2 C960.4,1402.9 961.2,1400.7 962.0,1398.4 C962.8,1396.1 963.6,1393.9 964.4,1391.6 C965.2,1389.3 966.0,1387.0 966.8,1384.8 C967.5,1382.5 968.3,1380.2 969.1,1377.9 C969.8,1375.6 970.6,1373.4 971.3,1371.1 C972.1,1368.8 972.8,1366.5 973.6,1364.2 C974.3,1362.0 975.0,1359.7 975.8,1357.4 C976.5,1355.1 977.2,1352.9 977.9,1350.6 C978.7,1348.3 979.4,1346.0 980.1,1343.7 C980.8,1341.5 981.5,1339.2 982.2,1336.9 C982.9,1334.6 983.6,1332.3 984.2,1330.1 C984.9,1327.8 985.6,1325.5 986.3,1323.2 C986.9,1321.0 987.6,1318.7 988.3,1316.4 C988.9,1314.1 989.6,1311.8 990.2,1309.6 C990.9,1307.3 991.5,1305.0 992.2,1302.7 C992.8,1300.5 993.4,1298.2 994.1,1295.9 C994.7,1293.6 995.3,1291.3 996.0,1289.1 C996.6,1286.8 997.2,1284.5 997.8,1282.2 C998.4,1280.0 999.0,1277.7 999.6,1275.4 C1000.2,1273.1 1000.8,1270.9 1001.4,1268.6 C1002.0,1266.3 1002.6,1264.0 1003.2,1261.7 C1003.8,1259.5 1004.3,1257.2 1004.9,1254.9 C1005.5,1252.6 1006.0,1250.4 1006.6,1248.1 C1007.2,1245.8 1007.7,1243.5 1008.3,1241.2 C1008.8,1239.0 1009.4,1236.7 1009.9,1234.4 C1010.5,1232.1 1011.0,1229.9 1011.6,1227.6 C1012.1,1225.3 1012.6,1223.0 1013.2,1220.7 C1013.7,1218.5 1014.2,1216.2 1014.8,1213.9 C1015.3,1211.6 1015.8,1209.4 1016.3,1207.1 C1016.8,1204.8 1017.3,1202.5 1017.8,1200.2 C1018.4,1198.0 1018.9,1195.7 1019.4,1193.4 C1019.9,1191.1 1020.4,1188.9 1020.8,1186.6 C1021.3,1184.3 1021.8,1182.0 1022.3,1179.7 C1022.8,1177.5 1023.3,1175.2 1023.8,1172.9 C1024.2,1170.6 1024.7,1168.3 1025.2,1166.1 C1025.7,1163.8 1026.1,1161.5 1026.6,1159.2 C1027.1,1156.9 1027.5,1154.7 1028.0,1152.4 C1028.4,1150.1 1028.9,1147.8 1029.3,1145.5 C1029.8,1143.3 1030.2,1141.0 1030.7,1138.7 C1031.1,1136.4 1031.6,1134.1 1032.0,1131.9 C1032.5,1129.6 1032.9,1127.3 1033.3,1125.0 C1033.8,1122.7 1034.2,1120.4 1034.6,1118.2 C1035.1,1115.9 1035.5,1113.6 1035.9,1111.3 C1036.3,1109.0 1036.8,1106.7 1037.2,1104.5 C1037.6,1102.2 1038.0,1099.9 1038.4,1097.6 C1038.8,1095.3 1039.2,1093.0 1039.6,1090.8 C1040.1,1088.5 1040.5,1086.2 1040.9,1083.9 C1041.3,1081.6 1041.7,1079.3 1042.1,1077.1 C1042.5,1074.8 1042.9,1072.5 1043.3,1070.2 C1043.7,1067.9 1044.1,1065.6 1044.4,1063.3 C1044.8,1061.0 1045.2,1058.8 1045.6,1056.5 C1046.0,1054.2 1046.4,1051.9 1046.8,1049.6 C1047.1,1047.3 1047.5,1045.0 1047.9,1042.7 C1048.3,1040.5 1048.7,1038.2 1049.0,1035.9 C1049.4,1033.6 1049.8,1031.3 1050.2,1029.0 C1050.5,1026.7 1050.9,1024.4 1051.3,1022.1 C1051.6,1019.8 1052.0,1017.5 1052.4,1015.3 C1052.7,1013.0 1053.1,1010.7 1053.5,1008.4 C1053.8,1006.1 1054.2,1003.8 1054.6,1001.5 C1054.9,999.2 1055.3,996.9 1055.6,994.6 C1056.0,992.3 1056.4,990.0 1056.7,987.7 C1057.1,985.4 1057.4,983.1 1057.8,980.8 C1058.1,978.5 1058.5,976.2 1058.8,974.0 C1059.2,971.7 1059.5,969.4 1059.9,967.1 C1060.2,964.8 1060.6,962.5 1060.9,960.2 C1061.3,957.9 1061.6,955.6 1062.0,953.3 C1062.3,951.0 1062.7,948.7 1063.0,946.4 C1063.4,944.1 1063.7,941.8 1064.1,939.5 C1064.4,937.2 1064.8,934.8 1065.1,932.5 C1065.5,930.2 1065.8,927.9 1066.1,925.6 C1066.5,923.3 1066.8,921.0 1067.2,918.7 C1067.5,916.4 1067.9,914.1 1068.2,911.8 C1068.5,909.5 1068.9,907.2 1069.2,904.9 C1069.6,902.6 1069.9,900.3 1070.3,898.0 C1070.6,895.6 1070.9,893.3 1071.3,891.0 C1071.6,888.7 1072.0,886.4 1072.3,884.1 C1072.7,881.8 1073.0,879.5 1073.3,877.2 C1073.7,874.9 1074.0,872.5 1074.4,870.2 C1074.7,867.9 1075.1,865.6 1075.4,863.3 C1075.7,861.0 1076.1,858.7 1076.4,856.3 C1076.8,854.0 1077.1,851.7 1077.4,849.4 C1077.8,847.1 1078.1,844.8 1078.5,842.5 C1078.8,840.1 1079.1,837.8 1079.5,835.5 C1079.8,833.2 1080.2,830.9 1080.5,828.6 C1080.8,826.2 1081.2,823.9 1081.5,821.6 C1081.8,819.3 1082.2,817.0 1082.5,814.6 C1082.9,812.3 1083.2,810.0 1083.5,807.7 C1083.9,805.4 1084.2,803.0 1084.5,800.7 C1084.9,798.4 1085.2,796.1 1085.5,793.8 C1085.9,791.4 1086.2,789.1 1086.6,786.8 C1086.9,784.5 1087.2,782.2 1087.6,779.8 C1087.9,777.5 1088.2,775.2 1088.6,772.9 C1088.9,770.6 1089.2,768.2 1089.6,765.9 C1089.9,763.6 1090.2,761.3 1090.6,758.9 C1090.9,756.6 1091.2,754.3 1091.6,752.0 C1091.9,749.7 1092.2,747.3 1092.5,745.0 C1092.9,742.7 1093.2,740.4 1093.5,738.0 C1093.9,735.7 1094.2,733.4 1094.5,731.1 C1094.9,728.8 1095.2,726.4 1095.5,724.1 C1095.8,721.8 1096.2,719.5 1096.5,717.1 C1096.8,714.8 1097.2,712.5 1097.5,710.2 C1097.8,707.8 1098.1,705.5 1098.5,703.2 C1098.8,700.9 1099.1,698.5 1099.4,696.2 C1099.8,693.9 1100.1,691.6 1100.4,689.2 C1100.7,686.9 1101.1,684.6 1101.4,682.3 C1101.7,680.0 1102.0,677.6 1102.3,675.3 C1102.7,673.0 1103.0,670.7 1103.3,668.3 C1103.6,666.0 1103.9,663.7 1104.3,661.4 C1104.6,659.0 1104.9,656.7 1105.2,654.4 C1105.5,652.1 1105.9,649.8 1106.2,647.4 C1106.5,645.1 1106.8,642.8 1107.1,640.5 C1107.4,638.1 1107.8,635.8 1108.1,633.5 C1108.4,631.2 1108.7,628.9 1109.0,626.5 C1109.3,624.2 1109.7,621.9 1110.0,619.6 C1110.3,617.2 1110.6,614.9 1110.9,612.6 C1111.2,610.3 1111.5,608.0 1111.8,605.6 C1112.1,603.3 1112.5,601.0 1112.8,598.7 C1113.1,596.4 1113.4,594.0 1113.7,591.7 C1114.0,589.4 1114.3,587.1 1114.6,584.8 C1114.9,582.5 1115.2,580.1 1115.5,577.8 C1115.8,575.5 1116.2,573.2 1116.5,570.9 C1116.8,568.5 1117.1,566.2 1117.4,563.9 C1117.7,561.6 1118.0,559.3 1118.3,557.0 C1118.6,554.6 1118.9,552.3 1119.2,550.0 C1119.5,547.7 1119.8,545.4 1120.1,543.1 C1120.4,540.8 1120.7,538.4 1121.0,536.1 C1121.3,533.8 1121.6,531.5 1121.9,529.2 C1122.2,526.9 1122.5,524.6 1122.8,522.3 C1123.0,519.9 1123.3,517.6 1123.6,515.3 C1123.9,513.0 1124.2,510.7 1124.5,508.4 C1124.8,506.1 1125.1,503.8 1125.4,501.5 C1125.7,499.2 1126.0,496.8 1126.3,494.5 C1126.6,492.2 1126.9,489.9 1127.2,487.6 C1127.4,485.3 1127.7,483.0 1128.0,480.7 C1128.3,478.4 1128.6,476.1 1128.9,473.8 C1129.2,471.5 1129.5,469.1 1129.8,466.8 C1130.1,464.5 1130.4,462.2 1130.7,459.9 C1131.0,457.6 1131.3,455.3 1131.6,453.0 C1131.9,450.7 1132.2,448.4 1132.5,446.1 C1132.8,443.8 1133.1,441.5 1133.4,439.2 C1133.7,436.9 1134.0,434.5 1134.3,432.2 C1134.6,429.9 1134.9,427.6 1135.2,425.3 C1135.5,423.0 1135.8,420.7 1136.1,418.4 C1136.4,416.1 1136.7,413.8 1137.0,411.5 C1137.3,409.2 1137.6,406.9 1137.9,404.6 C1138.2,402.3 1138.6,400.0 1138.9,397.6 C1139.2,395.3 1139.5,393.0 1139.8,390.7 C1140.2,388.4 1140.5,386.1 1140.8,383.8 C1141.1,381.5 1141.4,379.2 1141.8,376.9 C1142.1,374.6 1142.4,372.3 1142.8,370.0 C1143.1,367.6 1143.4,365.3 1143.8,363.0 C1144.1,360.7 1144.4,358.4 1144.8,356.1 C1145.1,353.8 1145.5,351.5 1145.8,349.2 C1146.2,346.9 1146.5,344.5 1146.9,342.2 C1147.2,339.9 1147.6,337.6 1147.9,335.3 C1148.3,333.0 1148.6,330.7 1149.0,328.4 C1149.4,326.0 1149.7,323.7 1150.1,321.4 C1150.5,319.1 1150.8,316.8 1151.2,314.5 C1151.6,312.2 1152.0,309.8 1152.4,307.5 C1152.7,305.2 1153.1,302.9 1153.5,300.6 C1153.9,298.3 1154.3,295.9 1154.7,293.6 C1155.1,291.3 1155.5,289.0 1155.9,286.7 C1156.3,284.3 1156.7,282.0 1157.1,279.7 C1157.5,277.4 1157.9,275.1 1158.3,272.8 C1158.8,270.4 1159.2,268.1 1159.6,265.8 C1160.0,263.5 1160.4,261.2 1160.9,258.9 C1161.3,256.6 1161.7,254.3 1162.2,251.9 C1162.6,249.6 1163.0,247.3 1163.5,245.0 C1163.9,242.7 1164.3,240.4 1164.8,238.1 C1165.2,235.9 1165.7,233.6 1166.1,231.3 C1166.6,229.0 1167.0,226.7 1167.5,224.4 C1167.9,222.2 1168.4,219.9 1168.8,217.6 C1169.3,215.3 1169.7,213.1 1170.2,210.8 C1170.6,208.6 1171.1,206.3 1171.5,204.1 C1172.0,201.8 1172.5,199.6 1172.9,197.3 C1173.4,195.1 1173.8,192.9 1174.3,190.7 C1174.8,188.4 1175.2,186.2 1175.7,184.0 C1176.2,181.8 1176.7,179.6 1177.2,177.4 C1177.7,175.1 1178.2,172.9 1178.8,170.7 C1179.3,168.4 1179.9,166.2 1180.5,163.9 C1181.1,161.6 1181.7,159.4 1182.3,157.1 C1183.0,154.7 1183.7,152.4 1184.4,150.1 C1185.2,147.7 1185.9,145.3 1186.8,142.9 C1187.6,140.5 1188.5,138.1 1189.4,135.6 C1190.3,133.1 1191.3,130.6 1192.3,128.1 C1193.4,125.6 1194.4,123.1 1195.6,120.7 C1196.8,118.4 1197.9,116.1 1199.3,114.1 C1200.5,112.2 1201.8,110.3 1203.3,108.8 C1204.6,107.4 1206.0,106.1 1207.6,105.4 C1209.1,104.8 1210.8,104.5 1212.3,104.6 C1214.0,104.7 1215.7,105.5 1217.2,106.4 C1218.8,107.3 1220.4,108.6 1221.8,109.9 C1223.2,111.3 1224.5,112.9 1225.7,114.6 C1227.0,116.4 1228.1,118.3 1229.1,120.3 C1230.1,122.3 1231.1,124.5 1231.9,126.6 C1232.8,128.9 1233.6,131.2 1234.4,133.6 C1235.1,136.0 1235.8,138.4 1236.5,140.9 C1237.2,143.3 1237.8,145.9 1238.4,148.4 C1239.1,150.9 1239.7,153.4 1240.3,155.9 C1240.9,158.4 1241.4,160.8 1242.0,163.3 C1242.6,165.8 1243.2,168.2 1243.7,170.7 C1244.3,173.1 1244.9,175.5 1245.4,177.9 C1246.0,180.3 1246.5,182.7 1247.0,185.1 C1247.6,187.5 1248.1,189.8 1248.6,192.2 C1249.1,194.6 1249.7,196.9 1250.2,199.3 C1250.7,201.6 1251.2,203.9 1251.7,206.2 C1252.2,208.5 1252.7,210.9 1253.2,213.2 C1253.6,215.5 1254.1,217.8 1254.6,220.0 C1255.1,222.3 1255.5,224.6 1256.0,226.9 C1256.5,229.2 1256.9,231.4 1257.4,233.7 C1257.8,236.0 1258.3,238.2 1258.7,240.5 C1259.2,242.7 1259.6,245.0 1260.1,247.3 C1260.5,249.5 1260.9,251.8 1261.4,254.0 C1261.8,256.3 1262.2,258.5 1262.6,260.7 C1263.1,263.0 1263.5,265.2 1263.9,267.5 C1264.3,269.7 1264.7,272.0 1265.2,274.2 C1265.6,276.5 1266.0,278.7 1266.4,281.0 C1266.8,283.3 1267.2,285.5 1267.6,287.8 C1268.0,290.0 1268.4,292.3 1268.8,294.6 C1269.2,296.8 1269.6,299.1 1270.0,301.4 C1270.4,303.6 1270.7,305.9 1271.1,308.2 C1271.5,310.5 1271.9,312.7 1272.3,315.0 C1272.7,317.3 1273.1,319.6 1273.4,321.9 C1273.8,324.1 1274.2,326.4 1274.6,328.7 C1274.9,331.0 1275.3,333.3 1275.7,335.6 C1276.1,337.9 1276.4,340.2 1276.8,342.5 C1277.2,344.8 1277.5,347.1 1277.9,349.4 C1278.3,351.7 1278.6,354.0 1279.0,356.3 C1279.3,358.6 1279.7,360.9 1280.1,363.2 C1280.4,365.5 1280.8,367.8 1281.1,370.1 C1281.5,372.4 1281.8,374.7 1282.2,377.0 C1282.5,379.3 1282.9,381.6 1283.2,383.9 C1283.6,386.3 1283.9,388.6 1284.3,390.9 C1284.6,393.2 1285.0,395.5 1285.3,397.8 C1285.7,400.1 1286.0,402.5 1286.4,404.8 C1286.7,407.1 1287.0,409.4 1287.4,411.7 C1287.7,414.1 1288.1,416.4 1288.4,418.7 C1288.8,421.0 1289.1,423.3 1289.4,425.7 C1289.8,428.0 1290.1,430.3 1290.4,432.6 C1290.8,435.0 1291.1,437.3 1291.4,439.6 C1291.8,441.9 1292.1,444.3 1292.4,446.6 C1292.8,448.9 1293.1,451.2 1293.5,453.6 C1293.8,455.9 1294.1,458.2 1294.4,460.5 C1294.8,462.9 1295.1,465.2 1295.4,467.5 C1295.8,469.8 1296.1,472.2 1296.4,474.5 C1296.8,476.8 1297.1,479.1 1297.4,481.5 C1297.8,483.8 1298.1,486.1 1298.4,488.4 C1298.8,490.8 1299.1,493.1 1299.4,495.4 C1299.7,497.7 1300.1,500.0 1300.4,502.4 C1300.7,504.7 1301.1,507.0 1301.4,509.3 C1301.7,511.7 1302.1,514.0 1302.4,516.3 C1302.7,518.6 1303.1,520.9 1303.4,523.3 C1303.7,525.6 1304.1,527.9 1304.4,530.2 C1304.7,532.5 1305.0,534.9 1305.4,537.2 C1305.7,539.5 1306.0,541.8 1306.4,544.1 C1306.7,546.5 1307.0,548.8 1307.4,551.1 C1307.7,553.4 1308.0,555.7 1308.4,558.0 C1308.7,560.4 1309.0,562.7 1309.4,565.0 C1309.7,567.3 1310.0,569.6 1310.4,571.9 C1310.7,574.3 1311.0,576.6 1311.4,578.9 C1311.7,581.2 1312.0,583.5 1312.4,585.8 C1312.7,588.2 1313.1,590.5 1313.4,592.8 C1313.7,595.1 1314.1,597.4 1314.4,599.7 C1314.7,602.0 1315.1,604.3 1315.4,606.7 C1315.7,609.0 1316.1,611.3 1316.4,613.6 C1316.8,615.9 1317.1,618.2 1317.4,620.5 C1317.8,622.8 1318.1,625.2 1318.4,627.5 C1318.8,629.8 1319.1,632.1 1319.5,634.4 C1319.8,636.7 1320.1,639.0 1320.5,641.3 C1320.8,643.6 1321.2,646.0 1321.5,648.3 C1321.9,650.6 1322.2,652.9 1322.5,655.2 C1322.9,657.5 1323.2,659.8 1323.6,662.1 C1323.9,664.4 1324.3,666.7 1324.6,669.0 C1324.9,671.3 1325.3,673.7 1325.6,676.0 C1326.0,678.3 1326.3,680.6 1326.7,682.9 C1327.0,685.2 1327.4,687.5 1327.7,689.8 C1328.1,692.1 1328.4,694.4 1328.8,696.7 C1329.1,699.0 1329.5,701.3 1329.8,703.6 C1330.2,706.0 1330.5,708.3 1330.9,710.6 C1331.2,712.9 1331.6,715.2 1331.9,717.5 C1332.3,719.8 1332.6,722.1 1333.0,724.4 C1333.3,726.7 1333.7,729.0 1334.0,731.3 C1334.4,733.6 1334.7,735.9 1335.1,738.2 C1335.5,740.5 1335.8,742.8 1336.2,745.1 C1336.5,747.4 1336.9,749.7 1337.3,752.0 C1337.6,754.4 1338.0,756.7 1338.3,759.0 C1338.7,761.3 1339.1,763.6 1339.4,765.9 C1339.8,768.2 1340.1,770.5 1340.5,772.8 C1340.9,775.1 1341.2,777.4 1341.6,779.7 C1342.0,782.0 1342.3,784.3 1342.7,786.6 C1343.1,788.9 1343.4,791.2 1343.8,793.5 C1344.2,795.8 1344.5,798.1 1344.9,800.4 C1345.3,802.7 1345.7,805.0 1346.0,807.3 C1346.4,809.6 1346.8,811.9 1347.2,814.2 C1347.5,816.5 1347.9,818.8 1348.3,821.1 C1348.7,823.4 1349.0,825.7 1349.4,828.0 C1349.8,830.3 1350.2,832.6 1350.6,834.9 C1350.9,837.2 1351.3,839.5 1351.7,841.8 C1352.1,844.1 1352.5,846.4 1352.8,848.7 C1353.2,851.0 1353.6,853.3 1354.0,855.6 C1354.4,857.9 1354.8,860.2 1355.2,862.5 C1355.5,864.8 1355.9,867.1 1356.3,869.4 C1356.7,871.7 1357.1,874.0 1357.5,876.3 C1357.9,878.6 1358.3,880.9 1358.7,883.2 C1359.1,885.5 1359.5,887.8 1359.9,890.1 C1360.3,892.4 1360.7,894.7 1361.1,897.0 C1361.5,899.3 1361.9,901.6 1362.3,903.9 C1362.7,906.2 1363.1,908.5 1363.5,910.8 C1363.9,913.1 1364.3,915.4 1364.7,917.7 C1365.1,920.0 1365.5,922.3 1365.9,924.6 C1366.3,926.9 1366.7,929.2 1367.1,931.5 C1367.5,933.8 1368.0,936.1 1368.4,938.4 C1368.8,940.7 1369.2,943.0 1369.6,945.3 C1370.0,947.6 1370.4,949.9 1370.9,952.2 C1371.3,954.5 1371.7,956.8 1372.1,959.1 C1372.5,961.4 1373.0,963.7 1373.4,966.0 C1373.8,968.3 1374.2,970.6 1374.7,972.9 C1375.1,975.2 1375.5,977.5 1376.0,979.8 C1376.4,982.1 1376.8,984.4 1377.2,986.7 C1377.7,989.0 1378.1,991.3 1378.6,993.6 C1379.0,995.9 1379.4,998.2 1379.9,1000.5 C1380.3,1002.8 1380.7,1005.1 1381.2,1007.4 C1381.6,1009.7 1382.1,1012.0 1382.5,1014.3 C1383.0,1016.6 1383.4,1018.9 1383.9,1021.2 C1384.3,1023.5 1384.8,1025.8 1385.2,1028.1 C1385.7,1030.4 1386.2,1032.7 1386.6,1035.0 C1387.1,1037.3 1387.5,1039.6 1388.0,1041.8 C1388.5,1044.1 1388.9,1046.4 1389.4,1048.7 C1389.9,1051.0 1390.3,1053.3 1390.8,1055.6 C1391.3,1057.9 1391.8,1060.2 1392.2,1062.5 C1392.7,1064.8 1393.2,1067.1 1393.7,1069.4 C1394.2,1071.7 1394.7,1073.9 1395.2,1076.2 C1395.6,1078.5 1396.1,1080.8 1396.6,1083.1 C1397.1,1085.4 1397.6,1087.7 1398.1,1090.0 C1398.6,1092.2 1399.1,1094.5 1399.6,1096.8 C1400.1,1099.1 1400.6,1101.4 1401.2,1103.7 C1401.7,1106.0 1402.2,1108.2 1402.7,1110.5 C1403.2,1112.8 1403.7,1115.1 1404.3,1117.4 C1404.8,1119.6 1405.3,1121.9 1405.8,1124.2 C1406.4,1126.5 1406.9,1128.8 1407.5,1131.0 C1408.0,1133.3 1408.5,1135.6 1409.1,1137.9 C1409.6,1140.1 1410.2,1142.4 1410.7,1144.7 C1411.3,1147.0 1411.8,1149.2 1412.4,1151.5 C1412.9,1153.8 1413.5,1156.1 1414.1,1158.3 C1414.6,1160.6 1415.2,1162.9 1415.8,1165.1 C1416.3,1167.4 1416.9,1169.7 1417.5,1171.9 C1418.1,1174.2 1418.7,1176.5 1419.2,1178.7 C1419.8,1181.0 1420.4,1183.2 1421.0,1185.5 C1421.6,1187.8 1422.2,1190.0 1422.8,1192.3 C1423.4,1194.5 1424.0,1196.8 1424.6,1199.1 C1425.2,1201.3 1425.9,1203.6 1426.5,1205.8 C1427.1,1208.1 1427.7,1210.3 1428.3,1212.6 C1429.0,1214.8 1429.6,1217.1 1430.2,1219.3 C1430.9,1221.6 1431.5,1223.8 1432.2,1226.1 C1432.8,1228.3 1433.4,1230.5 1434.1,1232.8 C1434.8,1235.0 1435.4,1237.3 1436.1,1239.5 C1436.7,1241.8 1437.4,1244.0 1438.1,1246.2 C1438.7,1248.5 1439.4,1250.7 1440.1,1252.9 C1440.8,1255.2 1441.5,1257.4 1442.2,1259.6 C1442.8,1261.9 1443.5,1264.1 1444.2,1266.3 C1444.9,1268.5 1445.6,1270.8 1446.4,1273.0 C1447.1,1275.2 1447.8,1277.4 1448.5,1279.7 C1449.2,1281.9 1449.9,1284.1 1450.7,1286.3 C1451.4,1288.5 1452.1,1290.7 1452.9,1293.0 C1453.6,1295.2 1454.4,1297.4 1455.1,1299.6 C1455.9,1301.8 1456.6,1304.0 1457.4,1306.2 C1458.1,1308.4 1458.9,1310.6 1459.7,1312.8 C1460.4,1315.0 1461.2,1317.2 1462.0,1319.4 C1462.8,1321.6 1463.6,1323.8 1464.4,1326.0 C1465.2,1328.2 1466.0,1330.4 1466.8,1332.6 C1467.6,1334.8 1468.4,1337.0 1469.2,1339.2 C1470.0,1341.4 1470.8,1343.5 1471.6,1345.7 C1472.5,1347.9 1473.3,1350.1 1474.1,1352.3 C1475.0,1354.5 1475.8,1356.6 1476.7,1358.8 C1477.5,1361.0 1478.4,1363.1 1479.2,1365.3 C1480.1,1367.5 1481.0,1369.7 1481.9,1371.8 C1482.7,1374.0 1483.6,1376.1 1484.5,1378.3 C1485.4,1380.5 1486.3,1382.6 1487.2,1384.8 C1488.1,1386.9 1489.0,1389.1 1490.0,1391.2 C1490.9,1393.3 1491.8,1395.5 1492.7,1397.6 C1493.7,1399.8 1494.6,1401.9 1495.6,1404.0 C1496.6,1406.1 1497.5,1408.3 1498.5,1410.4 C1499.5,1412.5 1500.5,1414.6 1501.5,1416.7 C1502.5,1418.8 1503.5,1420.9 1504.5,1423.0 C1505.5,1425.1 1506.5,1427.2 1507.6,1429.3 C1508.6,1431.3 1509.7,1433.4 1510.7,1435.5 C1511.8,1437.5 1512.9,1439.6 1514.0,1441.7 C1515.0,1443.7 1516.1,1445.8 1517.2,1447.8 C1518.4,1449.8 1519.5,1451.9 1520.6,1453.9 C1521.8,1455.9 1522.9,1457.9 1524.1,1460.0 C1525.2,1462.0 1526.4,1464.0 1527.6,1466.0 C1528.8,1467.9 1530.0,1469.9 1531.2,1471.9 C1532.4,1473.9 1533.7,1475.9 1534.9,1477.8 C1536.1,1479.8 1537.4,1481.7 1538.7,1483.7 C1540.0,1485.6 1541.3,1487.5 1542.6,1489.5 C1543.9,1491.4 1545.2,1493.3 1546.5,1495.2 C1547.9,1497.1 1549.2,1499.0 1550.6,1500.9 C1552.0,1502.7 1553.4,1504.6 1554.8,1506.5 C1556.2,1508.3 1557.6,1510.2 1559.0,1512.0 C1560.5,1513.9 1561.9,1515.7 1563.4,1517.5 C1564.9,1519.3 1566.4,1521.1 1567.9,1522.9 C1569.4,1524.7 1570.9,1526.5 1572.5,1528.2 C1574.0,1530.0 1575.6,1531.8 1577.2,1533.5 C1578.7,1535.3 1580.4,1537.0 1582.0,1538.7 C1583.6,1540.4 1585.2,1542.1 1586.9,1543.8 C1588.6,1545.5 1590.3,1547.2 1592.0,1548.8 C1593.7,1550.5 1595.4,1552.2 1597.1,1553.8 C1598.9,1555.4 1600.7,1557.1 1602.4,1558.7 C1604.2,1560.3 1606.0,1561.8 1607.9,1563.4 C1609.7,1565.0 1611.5,1566.5 1613.4,1568.0 C1615.3,1569.5 1617.2,1571.0 1619.1,1572.4 C1621.0,1573.9 1622.9,1575.3 1624.9,1576.6 C1626.8,1578.0 1628.8,1579.3 1630.8,1580.6 C1632.8,1581.9 1634.8,1583.1 1636.8,1584.3 C1638.8,1585.5 1640.9,1586.6 1642.9,1587.7 C1645.0,1588.8 1647.1,1589.8 1649.2,1590.8 C1651.3,1591.7 1653.4,1592.6 1655.5,1593.5 C1657.7,1594.3 1659.8,1595.1 1662.0,1595.8 C1664.2,1596.5 1666.4,1597.1 1668.6,1597.6 C1670.8,1598.2 1673.0,1598.7 1675.3,1599.1 C1677.5,1599.5 1679.7,1599.9 1682.0,1600.2 C1684.3,1600.5 1686.6,1600.7 1688.9,1600.9 C1691.1,1601.2 1693.5,1601.3 1695.8,1601.4 C1698.1,1601.6 1700.4,1601.7 1702.7,1601.7 C1705.1,1601.8 1707.4,1601.8 1709.7,1601.8 C1712.1,1601.9 1714.4,1601.9 1716.8,1601.9 C1719.1,1601.8 1721.5,1601.8 1723.9,1601.8 C1726.2,1601.8 1728.6,1601.8 1730.9,1601.7 C1733.3,1601.7 1735.7,1601.7 1738.0,1601.7 C1740.4,1601.7 1742.7,1601.8 1745.1,1601.8 C1747.5,1601.9 1749.8,1601.9 1752.2,1602.0 C1754.5,1602.2 1756.9,1602.3 1759.2,1602.5 C1761.5,1602.7 1763.9,1602.9 1766.2,1603.2 C1768.5,1603.4 1770.8,1603.8 1773.1,1604.2 C1775.4,1604.5 1780.0,1605.5 1780.0,1605.5 C1780.0,1605.5 1780.0,1605.5 1780.0,1605.5 C1780.0,1605.6 2226.7,1605.5 2450.0,1605.5" stroke="#00f0f0" stroke-width="12" stroke-dasharray="1.6 26.0 19.0 26.0 19.0 26.0 52.0 26.0 19.0 26.0 19.0 26.0 52.0 26.0 19.0 26.0 19.0 72.6 47.9 26.8 19.0 21.8 19.0 29.7 48.8 30.9 19.0 24.4 19.0 27.7 51.1 27.9 19.0 26.0 19.0 28.3 51.0 27.8 19.0 26.2 19.0 29.3 48.1 31.4 19.0 24.6 19.0 17.3 51.9 38.6 19.0 25.9 19.0 28.3 49.7 28.3 19.0 25.9 19.0 28.6 51.8 28.2 19.0 25.9 19.0 30.4 46.8 29.7 19.0 25.2 19.0 26.9 47.8 18.3 19.0 29.8 19.0 29.1 47.3 29.4 19.0 27.4 19.0 30.3 46.4 28.4 19.0 27.2 19.0 29.5 47.8 29.1 19.0 26.2 19.0 29.3 47.7 28.3 19.0 28.0 19.0 28.6 48.4 29.4 19.0 24.8 19.0 31.5 47.6 29.5 19.0 25.7 19.0 34.6 45.0 24.9 19.0 30.3 70.2 26.5 19.0 25.8 19.0 25.4 48.3 27.4 19.0 26.9 19.0 26.0 52.0 26.0 19.0 26.0 19.0 26.0 52.0 26.0 19.0 26.0 19.0 26.0 52.0 26.0 19.0 26.0 19.0 26.0 52.0 26.0 19.0 26.0 19.0 26.0 52.0 26.0 19.0 1016.0" stroke-linecap="butt" stroke-linejoin="round"/>
<path d="M285.0,1597.5 C287.2,1597.3 289.4,1597.2 291.6,1597.0 C293.9,1596.9 296.1,1596.7 298.4,1596.4 C300.6,1596.2 302.9,1596.0 305.1,1595.7 C307.4,1595.5 309.7,1595.2 311.9,1594.9 C314.2,1594.6 316.5,1594.2 318.8,1593.9 C321.1,1593.5 323.4,1593.2 325.7,1592.8 C328.0,1592.4 330.3,1592.0 332.6,1591.5 C334.9,1591.1 337.2,1590.6 339.5,1590.1 C341.8,1589.6 344.1,1589.1 346.4,1588.6 C348.8,1588.1 351.1,1587.5 353.4,1587.0 C355.7,1586.4 358.0,1585.8 360.3,1585.2 C362.6,1584.5 364.9,1583.9 367.2,1583.2 C369.5,1582.6 371.8,1581.9 374.1,1581.2 C376.4,1580.5 378.6,1579.7 380.9,1579.0 C383.2,1578.2 385.5,1577.4 387.7,1576.6 C390.0,1575.8 392.2,1575.0 394.5,1574.1 C396.7,1573.3 399.0,1572.4 401.2,1571.5 C403.4,1570.6 405.6,1569.7 407.8,1568.7 C410.0,1567.8 412.2,1566.8 414.4,1565.8 C416.5,1564.8 418.7,1563.8 420.8,1562.8 C423.0,1561.8 425.1,1560.7 427.2,1559.6 C429.3,1558.5 431.4,1557.4 433.5,1556.3 C435.6,1555.1 437.7,1554.0 439.7,1552.8 C441.8,1551.6 443.8,1550.4 445.8,1549.2 C447.8,1547.9 449.8,1546.7 451.7,1545.4 C453.7,1544.1 455.6,1542.8 457.5,1541.5 C459.5,1540.1 461.4,1538.8 463.2,1537.4 C465.1,1536.0 466.9,1534.6 468.8,1533.2 C470.6,1531.8 472.4,1530.3 474.1,1528.8 C475.9,1527.4 477.7,1525.9 479.4,1524.3 C481.1,1522.8 482.8,1521.3 484.4,1519.7 C486.1,1518.1 487.8,1516.5 489.4,1514.9 C491.0,1513.3 492.6,1511.7 494.2,1510.0 C495.8,1508.3 497.3,1506.7 498.8,1505.0 C500.4,1503.3 501.9,1501.5 503.4,1499.8 C504.8,1498.1 506.3,1496.3 507.8,1494.5 C509.2,1492.8 510.6,1491.0 512.0,1489.2 C513.4,1487.3 514.8,1485.5 516.2,1483.7 C517.5,1481.8 518.9,1480.0 520.2,1478.1 C521.5,1476.2 522.8,1474.3 524.1,1472.4 C525.4,1470.5 526.7,1468.6 527.9,1466.6 C529.2,1464.7 530.4,1462.7 531.7,1460.8 C532.9,1458.8 534.1,1456.8 535.3,1454.8 C536.5,1452.8 537.6,1450.8 538.8,1448.8 C539.9,1446.8 541.1,1444.7 542.2,1442.7 C543.3,1440.7 544.5,1438.6 545.5,1436.5 C546.6,1434.5 547.7,1432.4 548.8,1430.3 C549.9,1428.2 550.9,1426.1 552.0,1424.0 C553.0,1421.9 554.1,1419.8 555.1,1417.7 C556.1,1415.6 557.1,1413.5 558.1,1411.3 C559.1,1409.2 560.1,1407.0 561.1,1404.9 C562.1,1402.8 563.0,1400.6 564.0,1398.4 C564.9,1396.3 565.9,1394.1 566.8,1392.0 C567.8,1389.8 568.7,1387.6 569.6,1385.4 C570.5,1383.3 571.4,1381.1 572.3,1378.9 C573.3,1376.7 574.2,1374.5 575.0,1372.3 C575.9,1370.1 576.8,1367.9 577.7,1365.8 C578.6,1363.6 579.4,1361.4 580.3,1359.2 C581.2,1357.0 582.0,1354.8 582.9,1352.6 C583.7,1350.4 584.6,1348.2 585.4,1346.0 C586.3,1343.8 587.1,1341.6 587.9,1339.4 C588.8,1337.2 589.6,1335.0 590.4,1332.8 C591.2,1330.6 592.0,1328.4 592.9,1326.2 C593.7,1324.0 594.5,1321.7 595.3,1319.5 C596.1,1317.3 596.8,1315.1 597.6,1312.9 C598.4,1310.7 599.2,1308.5 600.0,1306.3 C600.8,1304.1 601.5,1301.9 602.3,1299.6 C603.1,1297.4 603.8,1295.2 604.6,1293.0 C605.3,1290.8 606.1,1288.6 606.8,1286.3 C607.6,1284.1 608.3,1281.9 609.1,1279.7 C609.8,1277.5 610.5,1275.2 611.2,1273.0 C612.0,1270.8 612.7,1268.6 613.4,1266.4 C614.1,1264.1 614.8,1261.9 615.5,1259.7 C616.3,1257.5 617.0,1255.2 617.7,1253.0 C618.4,1250.8 619.0,1248.6 619.7,1246.3 C620.4,1244.1 621.1,1241.9 621.8,1239.6 C622.5,1237.4 623.1,1235.2 623.8,1232.9 C624.5,1230.7 625.2,1228.5 625.8,1226.2 C626.5,1224.0 627.1,1221.8 627.8,1219.5 C628.5,1217.3 629.1,1215.1 629.8,1212.8 C630.4,1210.6 631.0,1208.3 631.7,1206.1 C632.3,1203.9 633.0,1201.6 633.6,1199.4 C634.2,1197.1 634.9,1194.9 635.5,1192.7 C636.1,1190.4 636.7,1188.2 637.3,1185.9 C638.0,1183.7 638.6,1181.4 639.2,1179.2 C639.8,1176.9 640.4,1174.7 641.0,1172.4 C641.6,1170.2 642.2,1167.9 642.8,1165.7 C643.4,1163.4 644.0,1161.2 644.6,1158.9 C645.2,1156.7 645.8,1154.4 646.3,1152.2 C646.9,1149.9 647.5,1147.7 648.1,1145.4 C648.7,1143.2 649.2,1140.9 649.8,1138.6 C650.4,1136.4 650.9,1134.1 651.5,1131.9 C652.1,1129.6 652.6,1127.4 653.2,1125.1 C653.8,1122.8 654.3,1120.6 654.9,1118.3 C655.4,1116.1 656.0,1113.8 656.5,1111.5 C657.1,1109.3 657.6,1107.0 658.2,1104.7 C658.7,1102.5 659.2,1100.2 659.8,1097.9 C660.3,1095.7 660.9,1093.4 661.4,1091.1 C661.9,1088.9 662.4,1086.6 663.0,1084.3 C663.5,1082.1 664.0,1079.8 664.6,1077.5 C665.1,1075.3 665.6,1073.0 666.1,1070.7 C666.6,1068.4 667.2,1066.2 667.7,1063.9 C668.2,1061.6 668.7,1059.3 669.2,1057.1 C669.7,1054.8 670.2,1052.5 670.7,1050.2 C671.3,1048.0 671.8,1045.7 672.3,1043.4 C672.8,1041.1 673.3,1038.9 673.8,1036.6 C674.3,1034.3 674.8,1032.0 675.3,1029.7 C675.8,1027.5 676.3,1025.2 676.8,1022.9 C677.3,1020.6 677.7,1018.3 678.2,1016.0 C678.7,1013.8 679.2,1011.5 679.7,1009.2 C680.2,1006.9 680.7,1004.6 681.2,1002.3 C681.7,1000.0 682.1,997.8 682.6,995.5 C683.1,993.2 683.6,990.9 684.1,988.6 C684.6,986.3 685.0,984.0 685.5,981.7 C686.0,979.5 686.5,977.2 687.0,974.9 C687.4,972.6 687.9,970.3 688.4,968.0 C688.9,965.7 689.3,963.4 689.8,961.1 C690.3,958.8 690.8,956.5 691.2,954.3 C691.7,952.0 692.2,949.7 692.6,947.4 C693.1,945.1 693.6,942.8 694.1,940.5 C694.5,938.2 695.0,935.9 695.5,933.6 C695.9,931.3 696.4,929.0 696.9,926.7 C697.3,924.4 697.8,922.1 698.3,919.8 C698.7,917.5 699.2,915.2 699.7,913.0 C700.1,910.7 700.6,908.4 701.1,906.1 C701.5,903.8 702.0,901.5 702.5,899.2 C702.9,896.9 703.4,894.6 703.8,892.3 C704.3,890.0 704.8,887.7 705.2,885.4 C705.7,883.1 706.2,880.8 706.6,878.5 C707.1,876.2 707.6,873.9 708.0,871.6 C708.5,869.3 709.0,867.0 709.4,864.7 C709.9,862.4 710.3,860.1 710.8,857.8 C711.3,855.6 711.7,853.3 712.2,851.0 C712.7,848.7 713.1,846.4 713.6,844.1 C714.1,841.8 714.5,839.5 715.0,837.2 C715.5,834.9 715.9,832.6 716.4,830.3 C716.9,828.0 717.3,825.7 717.8,823.4 C718.3,821.1 718.8,818.8 719.2,816.5 C719.7,814.3 720.2,812.0 720.6,809.7 C721.1,807.4 721.6,805.1 722.1,802.8 C722.5,800.5 723.0,798.2 723.5,795.9 C723.9,793.6 724.4,791.3 724.9,789.1 C725.4,786.8 725.9,784.5 726.3,782.2 C726.8,779.9 727.3,777.6 727.8,775.3 C728.3,773.0 728.7,770.7 729.2,768.5 C729.7,766.2 730.2,763.9 730.7,761.6 C731.2,759.3 731.6,757.0 732.1,754.7 C732.6,752.5 733.1,750.2 733.6,747.9 C734.1,745.6 734.6,743.3 735.1,741.1 C735.6,738.8 736.1,736.5 736.6,734.2 C737.1,731.9 737.6,729.7 738.1,727.4 C738.6,725.1 739.1,722.8 739.6,720.5 C740.1,718.3 740.6,716.0 741.1,713.7 C741.6,711.4 742.1,709.2 742.6,706.9 C743.1,704.6 743.6,702.3 744.1,700.1 C744.6,697.8 745.2,695.5 745.7,693.3 C746.2,691.0 746.7,688.7 747.2,686.5 C747.8,684.2 748.3,681.9 748.8,679.7 C749.3,677.4 749.9,675.1 750.4,672.9 C750.9,670.6 751.4,668.3 752.0,666.1 C752.5,663.8 753.1,661.6 753.6,659.3 C754.1,657.0 754.7,654.8 755.2,652.5 C755.8,650.3 756.3,648.0 756.9,645.8 C757.4,643.5 758.0,641.3 758.5,639.0 C759.1,636.7 759.6,634.5 760.2,632.2 C760.7,630.0 761.3,627.7 761.9,625.5 C762.4,623.3 763.0,621.0 763.6,618.8 C764.1,616.5 764.7,614.3 765.3,612.0 C765.8,609.8 766.4,607.6 767.0,605.3 C767.6,603.1 768.2,600.8 768.7,598.6 C769.3,596.4 769.9,594.1 770.5,591.9 C771.1,589.6 771.7,587.4 772.3,585.2 C772.9,582.9 773.5,580.7 774.1,578.4 C774.7,576.2 775.3,573.9 775.9,571.7 C776.5,569.4 777.1,567.2 777.7,564.9 C778.4,562.7 779.0,560.4 779.6,558.2 C780.2,555.9 780.8,553.6 781.5,551.4 C782.1,549.1 782.7,546.9 783.4,544.6 C784.0,542.3 784.6,540.0 785.3,537.8 C785.9,535.5 786.5,533.2 787.2,530.9 C787.8,528.6 788.5,526.3 789.1,524.0 C789.8,521.7 790.4,519.4 791.1,517.1 C791.7,514.8 792.4,512.5 793.1,510.1 C793.8,507.8 794.4,505.5 795.1,503.2 C795.8,500.9 796.5,498.6 797.2,496.3 C798.0,494.0 798.7,491.7 799.5,489.4 C800.2,487.1 801.0,484.8 801.8,482.5 C802.6,480.3 803.4,478.0 804.3,475.8 C805.2,473.6 806.1,471.4 807.0,469.2 C807.9,467.0 808.9,464.8 809.9,462.7 C810.9,460.6 811.9,458.5 813.0,456.4 C814.1,454.3 815.2,452.3 816.4,450.3 C817.6,448.3 818.8,446.3 820.1,444.4 C821.3,442.4 822.7,440.5 824.0,438.7 C825.4,436.8 826.9,435.0 828.4,433.3 C829.9,431.5 831.4,429.8 833.0,428.1 C834.7,426.5 836.3,424.8 838.1,423.4 C839.8,421.9 841.6,420.5 843.5,419.4 C845.4,418.3 847.3,417.3 849.3,416.8 C851.3,416.2 853.4,416.0 855.4,416.0 C857.5,416.1 859.6,416.6 861.6,417.2 C863.7,417.8 865.7,418.8 867.6,419.9 C869.5,420.9 871.3,422.2 873.0,423.6 C874.7,424.9 876.3,426.4 877.8,428.0 C879.3,429.6 880.6,431.4 881.9,433.1 C883.2,434.9 884.4,436.9 885.6,438.8 C886.7,440.8 887.8,442.8 888.8,444.9 C889.8,447.0 890.8,449.1 891.7,451.3 C892.6,453.5 893.5,455.7 894.4,457.9 C895.3,460.1 896.1,462.4 896.9,464.6 C897.8,466.9 898.6,469.1 899.4,471.4 C900.3,473.6 901.1,475.9 901.9,478.1 C902.7,480.4 903.5,482.6 904.3,484.9 C905.1,487.1 905.9,489.4 906.7,491.6 C907.5,493.9 908.3,496.2 909.0,498.4 C909.8,500.7 910.6,502.9 911.3,505.2 C912.1,507.4 912.9,509.7 913.6,512.0 C914.4,514.2 915.1,516.5 915.9,518.7 C916.6,521.0 917.3,523.3 918.1,525.5 C918.8,527.8 919.5,530.0 920.2,532.3 C920.9,534.6 921.7,536.8 922.4,539.1 C923.1,541.4 923.8,543.6 924.5,545.9 C925.2,548.1 925.9,550.4 926.5,552.7 C927.2,554.9 927.9,557.2 928.6,559.5 C929.3,561.7 929.9,564.0 930.6,566.3 C931.3,568.5 931.9,570.8 932.6,573.1 C933.3,575.3 933.9,577.6 934.6,579.9 C935.2,582.2 935.9,584.4 936.5,586.7 C937.2,589.0 937.8,591.2 938.4,593.5 C939.1,595.8 939.7,598.0 940.3,600.3 C940.9,602.6 941.6,604.9 942.2,607.1 C942.8,609.4 943.4,611.7 944.0,613.9 C944.6,616.2 945.2,618.5 945.8,620.8 C946.4,623.0 947.0,625.3 947.6,627.6 C948.2,629.9 948.8,632.1 949.4,634.4 C950.0,636.7 950.6,638.9 951.2,641.2 C951.8,643.5 952.3,645.8 952.9,648.0 C953.5,650.3 954.1,652.6 954.6,654.9 C955.2,657.1 955.8,659.4 956.4,661.7 C956.9,664.0 957.5,666.2 958.0,668.5 C958.6,670.8 959.2,673.1 959.7,675.3 C960.3,677.6 960.8,679.9 961.4,682.2 C961.9,684.4 962.5,686.7 963.0,689.0 C963.6,691.3 964.1,693.6 964.7,695.8 C965.2,698.1 965.8,700.4 966.3,702.7 C966.8,704.9 967.4,707.2 967.9,709.5 C968.4,711.8 969.0,714.0 969.5,716.3 C970.0,718.6 970.6,720.9 971.1,723.1 C971.6,725.4 972.2,727.7 972.7,730.0 C973.2,732.2 973.7,734.5 974.3,736.8 C974.8,739.1 975.3,741.3 975.8,743.6 C976.4,745.9 976.9,748.2 977.4,750.4 C977.9,752.7 978.4,755.0 979.0,757.3 C979.5,759.5 980.0,761.8 980.5,764.1 C981.0,766.4 981.6,768.6 982.1,770.9 C982.6,773.2 983.1,775.4 983.6,777.7 C984.1,780.0 984.7,782.3 985.2,784.5 C985.7,786.8 986.2,789.1 986.7,791.3 C987.2,793.6 987.8,795.9 988.3,798.2 C988.8,800.4 989.3,802.7 989.8,805.0 C990.3,807.2 990.8,809.5 991.4,811.8 C991.9,814.0 992.4,816.3 992.9,818.6 C993.4,820.9 994.0,823.1 994.5,825.4 C995.0,827.7 995.5,829.9 996.0,832.2 C996.6,834.5 997.1,836.7 997.6,839.0 C998.1,841.3 998.6,843.5 999.2,845.8 C999.7,848.1 1000.2,850.3 1000.8,852.6 C1001.3,854.8 1001.8,857.1 1002.3,859.4 C1002.9,861.6 1003.4,863.9 1003.9,866.2 C1004.5,868.4 1005.0,870.7 1005.5,872.9 C1006.1,875.2 1006.6,877.5 1007.1,879.7 C1007.7,882.0 1008.2,884.2 1008.8,886.5 C1009.3,888.8 1009.9,891.0 1010.4,893.3 C1010.9,895.5 1011.5,897.8 1012.0,900.0 C1012.6,902.3 1013.1,904.6 1013.7,906.8 C1014.2,909.1 1014.8,911.3 1015.4,913.6 C1015.9,915.8 1016.5,918.1 1017.0,920.3 C1017.6,922.6 1018.1,924.8 1018.7,927.1 C1019.3,929.3 1019.8,931.6 1020.4,933.9 C1021.0,936.1 1021.5,938.4 1022.1,940.6 C1022.7,942.9 1023.2,945.1 1023.8,947.4 C1024.4,949.6 1024.9,951.9 1025.5,954.1 C1026.1,956.4 1026.7,958.6 1027.2,960.9 C1027.8,963.1 1028.4,965.4 1029.0,967.6 C1029.6,969.9 1030.1,972.1 1030.7,974.4 C1031.3,976.6 1031.9,978.9 1032.5,981.1 C1033.1,983.4 1033.7,985.6 1034.2,987.8 C1034.8,990.1 1035.4,992.3 1036.0,994.6 C1036.6,996.8 1037.2,999.1 1037.8,1001.3 C1038.4,1003.6 1039.0,1005.8 1039.6,1008.1 C1040.2,1010.3 1040.8,1012.6 1041.4,1014.8 C1042.0,1017.1 1042.6,1019.3 1043.2,1021.5 C1043.8,1023.8 1044.4,1026.0 1045.0,1028.3 C1045.6,1030.5 1046.3,1032.8 1046.9,1035.0 C1047.5,1037.3 1048.1,1039.5 1048.7,1041.8 C1049.3,1044.0 1049.9,1046.3 1050.6,1048.5 C1051.2,1050.7 1051.8,1053.0 1052.4,1055.2 C1053.0,1057.5 1053.7,1059.7 1054.3,1062.0 C1054.9,1064.2 1055.6,1066.5 1056.2,1068.7 C1056.8,1071.0 1057.4,1073.2 1058.1,1075.4 C1058.7,1077.7 1059.3,1079.9 1060.0,1082.2 C1060.6,1084.4 1061.2,1086.7 1061.9,1088.9 C1062.5,1091.2 1063.2,1093.4 1063.8,1095.7 C1064.5,1097.9 1065.1,1100.2 1065.7,1102.4 C1066.4,1104.6 1067.0,1106.9 1067.7,1109.1 C1068.3,1111.4 1069.0,1113.6 1069.6,1115.9 C1070.3,1118.1 1070.9,1120.4 1071.6,1122.6 C1072.3,1124.9 1072.9,1127.1 1073.6,1129.4 C1074.2,1131.6 1074.9,1133.9 1075.6,1136.1 C1076.2,1138.4 1076.9,1140.6 1077.5,1142.9 C1078.2,1145.1 1078.9,1147.4 1079.5,1149.6 C1080.2,1151.9 1080.9,1154.1 1081.6,1156.4 C1082.2,1158.6 1082.9,1160.9 1083.6,1163.1 C1084.3,1165.4 1084.9,1167.6 1085.6,1169.9 C1086.3,1172.1 1087.0,1174.4 1087.7,1176.6 C1088.3,1178.9 1089.0,1181.1 1089.7,1183.4 C1090.4,1185.6 1091.1,1187.9 1091.8,1190.1 C1092.5,1192.4 1093.2,1194.6 1093.8,1196.9 C1094.5,1199.1 1095.2,1201.4 1095.9,1203.7 C1096.6,1205.9 1097.3,1208.2 1098.0,1210.4 C1098.7,1212.7 1099.4,1214.9 1100.1,1217.2 C1100.8,1219.5 1101.5,1221.7 1102.2,1224.0 C1103.0,1226.2 1103.7,1228.5 1104.4,1230.7 C1105.1,1233.0 1105.8,1235.2 1106.5,1237.5 C1107.2,1239.8 1108.0,1242.0 1108.7,1244.3 C1109.4,1246.5 1110.1,1248.8 1110.9,1251.0 C1111.6,1253.3 1112.3,1255.5 1113.1,1257.8 C1113.8,1260.0 1114.6,1262.3 1115.3,1264.5 C1116.1,1266.8 1116.8,1269.0 1117.6,1271.2 C1118.3,1273.5 1119.1,1275.7 1119.9,1278.0 C1120.6,1280.2 1121.4,1282.4 1122.2,1284.7 C1123.0,1286.9 1123.7,1289.1 1124.5,1291.4 C1125.3,1293.6 1126.1,1295.8 1126.9,1298.0 C1127.7,1300.2 1128.5,1302.5 1129.3,1304.7 C1130.2,1306.9 1131.0,1309.1 1131.8,1311.3 C1132.6,1313.5 1133.5,1315.7 1134.3,1317.9 C1135.1,1320.1 1136.0,1322.3 1136.8,1324.5 C1137.7,1326.7 1138.6,1328.9 1139.4,1331.0 C1140.3,1333.2 1141.2,1335.4 1142.1,1337.6 C1143.0,1339.7 1143.9,1341.9 1144.8,1344.1 C1145.7,1346.2 1146.6,1348.4 1147.5,1350.5 C1148.4,1352.7 1149.3,1354.8 1150.3,1357.0 C1151.2,1359.1 1152.2,1361.2 1153.1,1363.3 C1154.1,1365.5 1155.1,1367.6 1156.0,1369.7 C1157.0,1371.8 1158.0,1373.9 1159.0,1376.0 C1160.0,1378.1 1161.0,1380.2 1162.0,1382.3 C1163.0,1384.4 1164.1,1386.5 1165.1,1388.5 C1166.1,1390.6 1167.2,1392.7 1168.2,1394.7 C1169.3,1396.8 1170.4,1398.8 1171.5,1400.9 C1172.5,1402.9 1173.6,1405.0 1174.7,1407.0 C1175.9,1409.0 1177.0,1411.0 1178.1,1413.0 C1179.2,1415.0 1180.4,1417.0 1181.5,1419.0 C1182.7,1421.0 1183.9,1423.0 1185.0,1425.0 C1186.2,1426.9 1187.4,1428.9 1188.6,1430.9 C1189.8,1432.8 1191.0,1434.8 1192.3,1436.7 C1193.5,1438.6 1194.8,1440.6 1196.0,1442.5 C1197.3,1444.4 1198.6,1446.3 1199.8,1448.2 C1201.1,1450.1 1202.4,1452.0 1203.8,1453.9 C1205.1,1455.7 1206.4,1457.6 1207.8,1459.5 C1209.1,1461.3 1210.5,1463.2 1211.8,1465.0 C1213.2,1466.8 1214.6,1468.6 1216.0,1470.5 C1217.4,1472.3 1218.9,1474.1 1220.3,1475.9 C1221.7,1477.6 1223.2,1479.4 1224.7,1481.2 C1226.1,1482.9 1227.6,1484.7 1229.1,1486.4 C1230.6,1488.2 1232.2,1489.9 1233.7,1491.6 C1235.2,1493.3 1236.8,1495.0 1238.4,1496.7 C1239.9,1498.4 1241.5,1500.1 1243.1,1501.7 C1244.8,1503.4 1246.4,1505.1 1248.0,1506.7 C1249.7,1508.3 1251.3,1510.0 1253.0,1511.6 C1254.7,1513.2 1256.4,1514.8 1258.1,1516.4 C1259.8,1517.9 1261.6,1519.5 1263.3,1521.1 C1265.1,1522.6 1266.8,1524.2 1268.6,1525.7 C1270.4,1527.2 1272.2,1528.7 1274.1,1530.2 C1275.9,1531.7 1277.7,1533.2 1279.6,1534.6 C1281.4,1536.1 1283.3,1537.5 1285.2,1538.9 C1287.1,1540.3 1289.0,1541.7 1291.0,1543.1 C1292.9,1544.4 1294.8,1545.8 1296.8,1547.1 C1298.8,1548.4 1300.7,1549.7 1302.7,1551.0 C1304.7,1552.2 1306.7,1553.5 1308.8,1554.7 C1310.8,1555.9 1312.8,1557.1 1314.9,1558.3 C1316.9,1559.4 1319.0,1560.6 1321.1,1561.7 C1323.2,1562.8 1325.3,1563.8 1327.4,1564.9 C1329.5,1565.9 1331.6,1566.9 1333.7,1567.9 C1335.9,1568.8 1338.0,1569.8 1340.2,1570.7 C1342.3,1571.6 1344.5,1572.4 1346.7,1573.3 C1348.9,1574.1 1351.1,1574.9 1353.3,1575.6 C1355.5,1576.4 1357.7,1577.1 1360.0,1577.8 C1362.2,1578.5 1364.4,1579.1 1366.7,1579.8 C1369.0,1580.4 1371.2,1581.0 1373.5,1581.5 C1375.8,1582.1 1378.0,1582.6 1380.3,1583.1 C1382.6,1583.7 1384.9,1584.1 1387.2,1584.6 C1389.5,1585.1 1391.8,1585.5 1394.1,1585.9 C1396.5,1586.3 1398.8,1586.7 1401.1,1587.1 C1403.4,1587.5 1405.8,1587.8 1408.1,1588.1 C1410.4,1588.5 1412.8,1588.8 1415.1,1589.1 C1417.5,1589.4 1419.8,1589.7 1422.1,1589.9 C1424.5,1590.2 1426.8,1590.5 1429.2,1590.7 C1431.6,1590.9 1433.9,1591.2 1436.3,1591.4 C1438.6,1591.6 1441.0,1591.8 1443.3,1592.0 C1445.7,1592.2 1448.0,1592.4 1450.4,1592.6 C1452.7,1592.8 1455.1,1593.0 1457.5,1593.2 C1459.8,1593.4 1462.2,1593.6 1464.5,1593.7 C1466.8,1593.9 1469.2,1594.1 1471.5,1594.3 C1473.9,1594.4 1476.2,1594.6 1478.5,1594.8 C1480.9,1595.0 1483.2,1595.1 1485.5,1595.3 C1487.9,1595.5 1490.2,1595.6 1492.5,1595.8 C1494.9,1596.0 1497.2,1596.1 1499.5,1596.3 C1501.8,1596.5 1504.2,1596.6 1506.5,1596.8 C1508.8,1597.0 1511.1,1597.1 1513.4,1597.3 C1515.7,1597.4 1518.1,1597.6 1520.4,1597.8 C1522.7,1597.9 1525.0,1598.1 1527.3,1598.2 C1529.6,1598.4 1531.9,1598.5 1534.3,1598.7 C1536.6,1598.8 1538.9,1599.0 1541.2,1599.1 C1543.5,1599.3 1545.8,1599.4 1548.1,1599.6 C1550.4,1599.7 1552.8,1599.9 1555.1,1600.0 C1557.4,1600.2 1559.7,1600.3 1562.0,1600.4 C1564.3,1600.6 1566.6,1600.7 1568.9,1600.9 C1571.3,1601.0 1573.6,1601.1 1575.9,1601.3 C1578.2,1601.4 1580.5,1601.5 1582.8,1601.7 C1585.1,1601.8 1587.5,1601.9 1589.8,1602.1 C1592.1,1602.2 1594.4,1602.3 1596.7,1602.4 C1599.1,1602.6 1601.4,1602.7 1603.7,1602.8 C1606.0,1602.9 1608.4,1603.1 1610.7,1603.2 C1613.0,1603.3 1615.4,1603.4 1617.7,1603.5 C1620.0,1603.7 1622.4,1603.8 1624.7,1603.9 C1627.0,1604.0 1629.4,1604.1 1631.7,1604.2 C1634.1,1604.3 1636.4,1604.5 1638.8,1604.6 C1641.1,1604.7 1643.5,1604.8 1645.8,1604.9 C1648.2,1605.0 1650.5,1605.1 1652.9,1605.2 C1655.3,1605.3 1660.0,1605.5 1660.0,1605.5 C1660.0,1605.5 1660.0,1605.5 1660.0,1605.5 C1660.2,1605.8 2186.7,1605.5 2450.0,1605.5" stroke="#ff00ff" stroke-width="11" stroke-dasharray="16.7 19.0 31.0 19.3 31.0 18.3 31.0 16.4 31.0 18.1 31.0 21.3 31.0 19.3 31.0 22.0 31.0 18.6 31.0 22.2 31.0 20.2 31.0 18.9 31.0 21.2 31.0 20.3 31.0 20.9 31.0 20.9 31.0 18.2 31.0 21.8 31.0 18.9 31.0 20.4 31.0 21.9 31.0 17.8 31.0 22.2 31.0 18.8 31.0 20.9 31.0 20.6 31.0 18.5 31.0 11.3 31.0 22.4 31.0 20.4 31.0 22.7 31.0 18.5 31.0 22.3 31.0 19.6 31.0 19.4 31.0 24.5 31.0 18.3 31.0 19.7 31.0 20.9 31.0 19.1 31.0 20.2 31.0 20.2 31.0 21.7 31.0 22.2 31.0 18.1 31.0 19.1 31.0 21.0 31.0 18.5 31.0 18.9 31.0 18.6 31.0 19.6 31.0 19.1 31.0 18.9 31.0 22.8 31.0 23.8 53.2 19.0 31.0 19.0 31.0 19.0 31.0 19.0 31.0 19.0 31.0 19.0 31.0 19.0 31.0 19.0 31.0 19.0 31.0 19.0 31.0 19.0 31.0 19.0 31.0 19.0 31.0 19.0 31.0 19.0 31.0 19.0 31.0 19.0 31.0 19.0 31.0 19.0 31.0 1010.2" stroke-linecap="butt" stroke-linejoin="round"/>
<path d="M285.0,1602.0 C287.1,1602.0 289.3,1602.0 291.4,1602.0 C293.6,1601.9 295.7,1601.9 297.9,1601.9 C300.1,1601.9 302.3,1601.8 304.5,1601.8 C306.7,1601.8 309.0,1601.7 311.2,1601.7 C313.4,1601.6 315.7,1601.6 317.9,1601.5 C320.2,1601.5 322.5,1601.4 324.8,1601.3 C327.1,1601.2 329.4,1601.2 331.7,1601.1 C334.0,1601.0 336.3,1600.9 338.6,1600.8 C341.0,1600.7 343.3,1600.6 345.6,1600.4 C348.0,1600.3 350.3,1600.2 352.7,1600.0 C355.1,1599.9 357.4,1599.7 359.8,1599.6 C362.2,1599.4 364.5,1599.2 366.9,1599.0 C369.3,1598.8 371.7,1598.6 374.1,1598.4 C376.4,1598.2 378.8,1598.0 381.2,1597.7 C383.6,1597.5 386.0,1597.2 388.4,1597.0 C390.8,1596.7 393.2,1596.4 395.6,1596.1 C398.0,1595.8 400.4,1595.5 402.8,1595.2 C405.2,1594.9 407.6,1594.5 410.0,1594.2 C412.4,1593.8 414.8,1593.4 417.1,1593.0 C419.5,1592.6 421.9,1592.2 424.3,1591.8 C426.7,1591.4 429.0,1590.9 431.4,1590.5 C433.8,1590.0 436.1,1589.5 438.5,1589.0 C440.9,1588.5 443.2,1588.0 445.5,1587.4 C447.9,1586.9 450.2,1586.3 452.6,1585.7 C454.9,1585.1 457.2,1584.5 459.5,1583.9 C461.8,1583.3 464.1,1582.6 466.4,1582.0 C468.7,1581.3 470.9,1580.6 473.2,1579.9 C475.5,1579.2 477.7,1578.4 480.0,1577.7 C482.2,1576.9 484.4,1576.1 486.6,1575.3 C488.8,1574.5 491.0,1573.7 493.2,1572.8 C495.4,1571.9 497.6,1571.0 499.7,1570.1 C501.9,1569.2 504.0,1568.3 506.1,1567.3 C508.2,1566.3 510.3,1565.3 512.4,1564.3 C514.5,1563.3 516.5,1562.2 518.6,1561.2 C520.6,1560.1 522.6,1559.0 524.6,1557.8 C526.6,1556.7 528.6,1555.5 530.6,1554.3 C532.5,1553.2 534.4,1551.9 536.4,1550.7 C538.3,1549.4 540.1,1548.1 542.0,1546.8 C543.9,1545.5 545.7,1544.1 547.5,1542.8 C549.4,1541.4 551.1,1540.0 552.9,1538.6 C554.7,1537.1 556.4,1535.7 558.2,1534.2 C559.9,1532.7 561.6,1531.2 563.3,1529.6 C565.0,1528.1 566.7,1526.5 568.3,1525.0 C570.0,1523.4 571.6,1521.8 573.2,1520.1 C574.8,1518.5 576.4,1516.8 578.0,1515.1 C579.5,1513.5 581.1,1511.8 582.6,1510.0 C584.1,1508.3 585.6,1506.6 587.1,1504.8 C588.6,1503.0 590.1,1501.3 591.6,1499.5 C593.0,1497.7 594.5,1495.8 595.9,1494.0 C597.3,1492.2 598.7,1490.3 600.1,1488.4 C601.5,1486.6 602.8,1484.7 604.2,1482.8 C605.6,1480.9 606.9,1479.0 608.2,1477.0 C609.5,1475.1 610.8,1473.2 612.1,1471.2 C613.4,1469.3 614.7,1467.3 616.0,1465.3 C617.2,1463.3 618.5,1461.3 619.7,1459.3 C621.0,1457.3 622.2,1455.3 623.4,1453.3 C624.6,1451.3 625.8,1449.2 627.0,1447.2 C628.1,1445.2 629.3,1443.1 630.5,1441.1 C631.6,1439.0 632.8,1437.0 633.9,1434.9 C635.0,1432.8 636.1,1430.8 637.2,1428.7 C638.4,1426.6 639.5,1424.5 640.5,1422.4 C641.6,1420.4 642.7,1418.3 643.8,1416.2 C644.8,1414.1 645.9,1412.0 646.9,1409.9 C648.0,1407.8 649.0,1405.7 650.0,1403.6 C651.0,1401.5 652.0,1399.4 653.0,1397.2 C654.0,1395.1 655.0,1393.0 656.0,1390.9 C657.0,1388.8 658.0,1386.6 658.9,1384.5 C659.9,1382.4 660.8,1380.3 661.8,1378.1 C662.7,1376.0 663.6,1373.8 664.6,1371.7 C665.5,1369.6 666.4,1367.4 667.3,1365.3 C668.2,1363.1 669.1,1361.0 670.0,1358.8 C670.9,1356.6 671.7,1354.5 672.6,1352.3 C673.5,1350.2 674.3,1348.0 675.2,1345.8 C676.0,1343.7 676.9,1341.5 677.7,1339.3 C678.6,1337.1 679.4,1335.0 680.2,1332.8 C681.0,1330.6 681.8,1328.4 682.6,1326.2 C683.4,1324.1 684.2,1321.9 685.0,1319.7 C685.8,1317.5 686.6,1315.3 687.4,1313.1 C688.1,1310.9 688.9,1308.7 689.6,1306.5 C690.4,1304.3 691.2,1302.1 691.9,1299.9 C692.6,1297.7 693.4,1295.5 694.1,1293.3 C694.8,1291.1 695.6,1288.8 696.3,1286.6 C697.0,1284.4 697.7,1282.2 698.4,1280.0 C699.1,1277.8 699.8,1275.5 700.5,1273.3 C701.2,1271.1 701.9,1268.9 702.5,1266.6 C703.2,1264.4 703.9,1262.2 704.6,1259.9 C705.2,1257.7 705.9,1255.5 706.6,1253.2 C707.2,1251.0 707.9,1248.8 708.5,1246.5 C709.2,1244.3 709.8,1242.0 710.4,1239.8 C711.1,1237.6 711.7,1235.3 712.3,1233.1 C712.9,1230.8 713.6,1228.6 714.2,1226.3 C714.8,1224.1 715.4,1221.8 716.0,1219.6 C716.6,1217.3 717.2,1215.1 717.8,1212.8 C718.4,1210.6 719.0,1208.3 719.6,1206.0 C720.2,1203.8 720.8,1201.5 721.4,1199.3 C722.0,1197.0 722.5,1194.7 723.1,1192.5 C723.7,1190.2 724.3,1187.9 724.8,1185.7 C725.4,1183.4 726.0,1181.1 726.5,1178.9 C727.1,1176.6 727.6,1174.3 728.2,1172.1 C728.8,1169.8 729.3,1167.5 729.9,1165.3 C730.4,1163.0 731.0,1160.7 731.5,1158.5 C732.1,1156.2 732.6,1153.9 733.1,1151.6 C733.7,1149.4 734.2,1147.1 734.8,1144.8 C735.3,1142.5 735.8,1140.3 736.4,1138.0 C736.9,1135.7 737.4,1133.4 738.0,1131.2 C738.5,1128.9 739.0,1126.6 739.6,1124.3 C740.1,1122.0 740.6,1119.8 741.1,1117.5 C741.7,1115.2 742.2,1112.9 742.7,1110.7 C743.2,1108.4 743.8,1106.1 744.3,1103.8 C744.8,1101.5 745.3,1099.3 745.8,1097.0 C746.4,1094.7 746.9,1092.4 747.4,1090.1 C747.9,1087.9 748.4,1085.6 749.0,1083.3 C749.5,1081.0 750.0,1078.7 750.5,1076.5 C751.0,1074.2 751.5,1071.9 752.1,1069.6 C752.6,1067.4 753.1,1065.1 753.6,1062.8 C754.1,1060.5 754.6,1058.2 755.1,1056.0 C755.7,1053.7 756.2,1051.4 756.7,1049.1 C757.2,1046.8 757.7,1044.6 758.2,1042.3 C758.7,1040.0 759.2,1037.7 759.7,1035.4 C760.3,1033.2 760.8,1030.9 761.3,1028.6 C761.8,1026.3 762.3,1024.0 762.8,1021.8 C763.3,1019.5 763.8,1017.2 764.3,1014.9 C764.8,1012.6 765.3,1010.4 765.8,1008.1 C766.4,1005.8 766.9,1003.5 767.4,1001.2 C767.9,999.0 768.4,996.7 768.9,994.4 C769.4,992.1 769.9,989.9 770.4,987.6 C770.9,985.3 771.4,983.0 771.9,980.7 C772.4,978.5 772.9,976.2 773.4,973.9 C773.9,971.6 774.4,969.3 774.9,967.1 C775.4,964.8 775.9,962.5 776.4,960.2 C776.9,957.9 777.4,955.7 778.0,953.4 C778.5,951.1 779.0,948.8 779.5,946.6 C780.0,944.3 780.5,942.0 781.0,939.7 C781.5,937.4 782.0,935.2 782.5,932.9 C783.0,930.6 783.5,928.3 784.0,926.0 C784.5,923.8 785.0,921.5 785.5,919.2 C786.0,916.9 786.5,914.7 787.0,912.4 C787.5,910.1 788.0,907.8 788.5,905.6 C789.0,903.3 789.5,901.0 790.0,898.7 C790.5,896.4 791.0,894.2 791.5,891.9 C792.0,889.6 792.5,887.3 793.0,885.1 C793.5,882.8 794.0,880.5 794.5,878.2 C795.0,876.0 795.5,873.7 796.0,871.4 C796.5,869.1 797.0,866.9 797.5,864.6 C798.0,862.3 798.5,860.0 799.0,857.8 C799.5,855.5 800.0,853.2 800.5,850.9 C801.0,848.7 801.5,846.4 802.0,844.1 C802.5,841.8 803.0,839.6 803.5,837.3 C804.0,835.0 804.5,832.7 805.0,830.5 C805.5,828.2 806.0,825.9 806.5,823.6 C807.0,821.4 807.5,819.1 808.0,816.8 C808.5,814.5 809.0,812.3 809.5,810.0 C810.0,807.7 810.5,805.5 811.0,803.2 C811.5,800.9 812.0,798.6 812.5,796.4 C813.0,794.1 813.5,791.8 814.0,789.6 C814.5,787.3 815.0,785.0 815.5,782.7 C816.0,780.5 816.5,778.2 817.0,775.9 C817.5,773.7 818.0,771.4 818.5,769.1 C819.0,766.9 819.5,764.6 820.0,762.3 C820.5,760.0 821.0,757.8 821.5,755.5 C822.1,753.2 822.6,751.0 823.1,748.7 C823.6,746.4 824.1,744.2 824.6,741.9 C825.1,739.6 825.6,737.4 826.1,735.1 C826.6,732.8 827.1,730.6 827.7,728.3 C828.2,726.0 828.7,723.7 829.2,721.5 C829.7,719.2 830.2,716.9 830.8,714.7 C831.3,712.4 831.8,710.1 832.3,707.9 C832.8,705.6 833.4,703.3 833.9,701.1 C834.4,698.8 835.0,696.5 835.5,694.2 C836.0,692.0 836.5,689.7 837.1,687.4 C837.6,685.2 838.2,682.9 838.7,680.6 C839.2,678.3 839.8,676.1 840.3,673.8 C840.9,671.5 841.4,669.2 842.0,667.0 C842.5,664.7 843.1,662.4 843.6,660.1 C844.2,657.9 844.7,655.6 845.3,653.3 C845.8,651.0 846.4,648.8 847.0,646.5 C847.5,644.2 848.1,641.9 848.7,639.6 C849.3,637.4 849.8,635.1 850.4,632.8 C851.0,630.5 851.6,628.2 852.2,626.0 C852.7,623.7 853.3,621.4 853.9,619.1 C854.5,616.8 855.1,614.5 855.7,612.2 C856.3,610.0 856.9,607.7 857.5,605.4 C858.1,603.1 858.8,600.8 859.4,598.5 C860.0,596.2 860.6,593.9 861.2,591.6 C861.9,589.3 862.5,587.0 863.1,584.8 C863.8,582.5 864.4,580.2 865.1,577.9 C865.7,575.6 866.4,573.3 867.1,571.0 C867.7,568.8 868.4,566.5 869.1,564.2 C869.8,562.0 870.6,559.7 871.3,557.5 C872.0,555.2 872.8,553.0 873.6,550.8 C874.3,548.6 875.1,546.4 875.9,544.2 C876.8,542.0 877.6,539.8 878.5,537.6 C879.3,535.5 880.2,533.3 881.1,531.2 C882.0,529.1 883.0,527.0 883.9,524.9 C884.9,522.8 885.9,520.8 886.9,518.8 C888.0,516.7 889.0,514.7 890.1,512.7 C891.2,510.8 892.4,508.8 893.5,506.9 C894.7,505.0 895.9,503.1 897.1,501.2 C898.4,499.3 899.7,497.5 901.0,495.7 C902.3,493.9 903.7,492.2 905.2,490.5 C906.6,488.8 908.1,487.1 909.6,485.5 C911.1,483.9 912.7,482.3 914.4,480.8 C916.0,479.3 917.7,477.8 919.5,476.4 C921.3,475.0 923.1,473.7 925.0,472.4 C926.9,471.1 928.8,469.9 930.9,468.7 C932.9,467.6 937.0,465.6 937.2,465.5 C937.2,465.5 937.2,465.5 937.2,465.5 C937.4,465.5 940.9,468.4 942.6,469.9 C944.4,471.4 946.1,473.0 947.8,474.6 C949.5,476.1 951.2,477.7 952.8,479.3 C954.4,480.9 956.0,482.6 957.6,484.3 C959.2,485.9 960.7,487.6 962.2,489.3 C963.7,491.0 965.2,492.8 966.6,494.6 C968.0,496.3 969.4,498.1 970.8,499.9 C972.2,501.7 973.5,503.5 974.8,505.4 C976.2,507.2 977.4,509.1 978.7,511.0 C980.0,512.9 981.2,514.8 982.4,516.7 C983.6,518.6 984.8,520.6 986.0,522.5 C987.1,524.5 988.3,526.5 989.4,528.5 C990.5,530.5 991.6,532.5 992.7,534.5 C993.7,536.5 994.8,538.6 995.8,540.6 C996.8,542.7 997.8,544.8 998.8,546.9 C999.8,548.9 1000.7,551.0 1001.7,553.1 C1002.6,555.3 1003.6,557.4 1004.5,559.5 C1005.4,561.7 1006.3,563.8 1007.2,566.0 C1008.0,568.1 1008.9,570.3 1009.8,572.5 C1010.6,574.6 1011.4,576.8 1012.3,579.0 C1013.1,581.2 1013.9,583.4 1014.7,585.6 C1015.5,587.8 1016.2,590.0 1017.0,592.3 C1017.8,594.5 1018.5,596.7 1019.3,599.0 C1020.0,601.2 1020.8,603.4 1021.5,605.7 C1022.2,607.9 1023.0,610.2 1023.7,612.4 C1024.4,614.7 1025.1,616.9 1025.8,619.2 C1026.5,621.5 1027.2,623.7 1027.9,626.0 C1028.6,628.2 1029.3,630.5 1030.0,632.8 C1030.6,635.0 1031.3,637.3 1032.0,639.6 C1032.7,641.8 1033.3,644.1 1034.0,646.4 C1034.7,648.6 1035.4,650.9 1036.0,653.1 C1036.7,655.4 1037.4,657.7 1038.0,659.9 C1038.7,662.2 1039.3,664.5 1040.0,666.7 C1040.7,669.0 1041.3,671.2 1042.0,673.5 C1042.6,675.7 1043.3,678.0 1043.9,680.3 C1044.6,682.5 1045.2,684.8 1045.9,687.0 C1046.5,689.3 1047.2,691.5 1047.8,693.8 C1048.5,696.1 1049.1,698.3 1049.8,700.6 C1050.4,702.8 1051.0,705.1 1051.7,707.3 C1052.3,709.6 1052.9,711.8 1053.6,714.1 C1054.2,716.3 1054.8,718.6 1055.5,720.8 C1056.1,723.1 1056.7,725.3 1057.4,727.6 C1058.0,729.9 1058.6,732.1 1059.3,734.4 C1059.9,736.6 1060.5,738.9 1061.1,741.1 C1061.8,743.4 1062.4,745.6 1063.0,747.9 C1063.6,750.1 1064.3,752.4 1064.9,754.6 C1065.5,756.9 1066.1,759.1 1066.7,761.4 C1067.4,763.6 1068.0,765.9 1068.6,768.1 C1069.2,770.4 1069.8,772.6 1070.4,774.9 C1071.1,777.1 1071.7,779.4 1072.3,781.6 C1072.9,783.9 1073.5,786.1 1074.1,788.4 C1074.8,790.6 1075.4,792.9 1076.0,795.1 C1076.6,797.4 1077.2,799.6 1077.8,801.9 C1078.4,804.1 1079.0,806.4 1079.7,808.7 C1080.3,810.9 1080.9,813.2 1081.5,815.4 C1082.1,817.7 1082.7,819.9 1083.3,822.2 C1083.9,824.4 1084.5,826.7 1085.2,828.9 C1085.8,831.2 1086.4,833.4 1087.0,835.7 C1087.6,838.0 1088.2,840.2 1088.8,842.5 C1089.4,844.7 1090.0,847.0 1090.7,849.2 C1091.3,851.5 1091.9,853.7 1092.5,856.0 C1093.1,858.3 1093.7,860.5 1094.3,862.8 C1094.9,865.0 1095.5,867.3 1096.2,869.5 C1096.8,871.8 1097.4,874.1 1098.0,876.3 C1098.6,878.6 1099.2,880.8 1099.8,883.1 C1100.4,885.4 1101.0,887.6 1101.7,889.9 C1102.3,892.1 1102.9,894.4 1103.5,896.6 C1104.1,898.9 1104.7,901.2 1105.3,903.4 C1105.9,905.7 1106.6,907.9 1107.2,910.2 C1107.8,912.4 1108.4,914.7 1109.0,917.0 C1109.6,919.2 1110.2,921.5 1110.9,923.7 C1111.5,926.0 1112.1,928.3 1112.7,930.5 C1113.3,932.8 1113.9,935.0 1114.5,937.3 C1115.2,939.6 1115.8,941.8 1116.4,944.1 C1117.0,946.3 1117.6,948.6 1118.2,950.8 C1118.9,953.1 1119.5,955.4 1120.1,957.6 C1120.7,959.9 1121.3,962.1 1121.9,964.4 C1122.6,966.7 1123.2,968.9 1123.8,971.2 C1124.4,973.4 1125.0,975.7 1125.7,977.9 C1126.3,980.2 1126.9,982.5 1127.5,984.7 C1128.1,987.0 1128.8,989.2 1129.4,991.5 C1130.0,993.7 1130.6,996.0 1131.3,998.3 C1131.9,1000.5 1132.5,1002.8 1133.1,1005.0 C1133.8,1007.3 1134.4,1009.5 1135.0,1011.8 C1135.6,1014.0 1136.3,1016.3 1136.9,1018.6 C1137.5,1020.8 1138.1,1023.1 1138.8,1025.3 C1139.4,1027.6 1140.0,1029.8 1140.7,1032.1 C1141.3,1034.3 1141.9,1036.6 1142.6,1038.8 C1143.2,1041.1 1143.8,1043.3 1144.5,1045.6 C1145.1,1047.9 1145.7,1050.1 1146.4,1052.4 C1147.0,1054.6 1147.6,1056.9 1148.3,1059.1 C1148.9,1061.4 1149.5,1063.6 1150.2,1065.9 C1150.8,1068.1 1151.5,1070.4 1152.1,1072.6 C1152.7,1074.9 1153.4,1077.1 1154.0,1079.4 C1154.7,1081.6 1155.3,1083.9 1156.0,1086.1 C1156.6,1088.4 1157.2,1090.6 1157.9,1092.9 C1158.5,1095.1 1159.2,1097.3 1159.8,1099.6 C1160.5,1101.8 1161.1,1104.1 1161.8,1106.3 C1162.4,1108.6 1163.1,1110.8 1163.7,1113.1 C1164.4,1115.3 1165.0,1117.6 1165.7,1119.8 C1166.3,1122.0 1167.0,1124.3 1167.7,1126.5 C1168.3,1128.8 1169.0,1131.0 1169.6,1133.2 C1170.3,1135.5 1171.0,1137.7 1171.6,1140.0 C1172.3,1142.2 1172.9,1144.4 1173.6,1146.7 C1174.3,1148.9 1174.9,1151.2 1175.6,1153.4 C1176.3,1155.6 1176.9,1157.9 1177.6,1160.1 C1178.3,1162.3 1178.9,1164.6 1179.6,1166.8 C1180.3,1169.1 1181.0,1171.3 1181.6,1173.5 C1182.3,1175.8 1183.0,1178.0 1183.7,1180.2 C1184.3,1182.4 1185.0,1184.7 1185.7,1186.9 C1186.4,1189.1 1187.1,1191.4 1187.7,1193.6 C1188.4,1195.8 1189.1,1198.1 1189.8,1200.3 C1190.5,1202.5 1191.2,1204.7 1191.9,1207.0 C1192.6,1209.2 1193.3,1211.4 1194.0,1213.6 C1194.7,1215.9 1195.4,1218.1 1196.1,1220.3 C1196.8,1222.5 1197.5,1224.7 1198.3,1227.0 C1199.0,1229.2 1199.7,1231.4 1200.4,1233.6 C1201.2,1235.8 1201.9,1238.0 1202.6,1240.3 C1203.4,1242.5 1204.1,1244.7 1204.8,1246.9 C1205.6,1249.1 1206.3,1251.3 1207.1,1253.5 C1207.8,1255.7 1208.6,1257.9 1209.3,1260.2 C1210.1,1262.4 1210.9,1264.6 1211.7,1266.8 C1212.4,1269.0 1213.2,1271.2 1214.0,1273.4 C1214.8,1275.6 1215.6,1277.8 1216.4,1280.0 C1217.1,1282.2 1217.9,1284.4 1218.8,1286.6 C1219.6,1288.8 1220.4,1291.0 1221.2,1293.2 C1222.0,1295.3 1222.8,1297.5 1223.7,1299.7 C1224.5,1301.9 1225.3,1304.1 1226.2,1306.3 C1227.0,1308.5 1227.9,1310.7 1228.7,1312.8 C1229.6,1315.0 1230.5,1317.2 1231.3,1319.4 C1232.2,1321.6 1233.1,1323.7 1234.0,1325.9 C1234.9,1328.1 1235.8,1330.3 1236.7,1332.4 C1237.6,1334.6 1238.5,1336.8 1239.4,1339.0 C1240.3,1341.1 1241.3,1343.3 1242.2,1345.5 C1243.1,1347.6 1244.1,1349.8 1245.0,1351.9 C1246.0,1354.1 1247.0,1356.3 1247.9,1358.4 C1248.9,1360.6 1249.9,1362.7 1250.9,1364.9 C1251.9,1367.0 1252.9,1369.2 1253.9,1371.3 C1254.9,1373.5 1255.9,1375.6 1256.9,1377.8 C1258.0,1379.9 1259.0,1382.0 1260.1,1384.2 C1261.1,1386.3 1262.2,1388.4 1263.3,1390.5 C1264.3,1392.6 1265.4,1394.8 1266.5,1396.9 C1267.6,1399.0 1268.7,1401.1 1269.8,1403.2 C1271.0,1405.2 1272.1,1407.3 1273.2,1409.4 C1274.4,1411.5 1275.5,1413.5 1276.7,1415.6 C1277.9,1417.6 1279.1,1419.7 1280.3,1421.7 C1281.4,1423.8 1282.7,1425.8 1283.9,1427.8 C1285.1,1429.8 1286.3,1431.8 1287.6,1433.8 C1288.8,1435.8 1290.1,1437.8 1291.4,1439.7 C1292.7,1441.7 1294.0,1443.7 1295.3,1445.6 C1296.6,1447.5 1297.9,1449.5 1299.3,1451.4 C1300.6,1453.3 1302.0,1455.2 1303.3,1457.1 C1304.7,1459.0 1306.1,1460.8 1307.5,1462.7 C1308.9,1464.5 1310.3,1466.4 1311.8,1468.2 C1313.2,1470.0 1314.7,1471.8 1316.1,1473.6 C1317.6,1475.4 1319.1,1477.1 1320.6,1478.9 C1322.1,1480.6 1323.6,1482.4 1325.2,1484.1 C1326.7,1485.8 1328.3,1487.5 1329.9,1489.2 C1331.5,1490.8 1333.1,1492.5 1334.7,1494.1 C1336.3,1495.7 1337.9,1497.4 1339.6,1498.9 C1341.3,1500.5 1342.9,1502.1 1344.6,1503.6 C1346.3,1505.2 1348.1,1506.7 1349.8,1508.2 C1351.5,1509.7 1353.3,1511.2 1355.1,1512.6 C1356.9,1514.1 1358.6,1515.5 1360.5,1516.9 C1362.3,1518.3 1364.1,1519.7 1366.0,1521.1 C1367.8,1522.5 1369.7,1523.8 1371.6,1525.1 C1373.5,1526.4 1375.4,1527.7 1377.3,1529.0 C1379.2,1530.3 1381.1,1531.5 1383.1,1532.7 C1385.0,1534.0 1387.0,1535.2 1389.0,1536.3 C1391.0,1537.5 1393.0,1538.7 1395.0,1539.8 C1397.0,1540.9 1399.0,1542.0 1401.1,1543.1 C1403.1,1544.2 1405.2,1545.3 1407.3,1546.3 C1409.3,1547.4 1411.4,1548.4 1413.5,1549.4 C1415.6,1550.4 1417.7,1551.3 1419.9,1552.3 C1422.0,1553.2 1424.1,1554.2 1426.3,1555.1 C1428.4,1556.0 1430.6,1556.8 1432.7,1557.7 C1434.9,1558.5 1437.1,1559.4 1439.3,1560.2 C1441.5,1561.0 1443.7,1561.8 1445.9,1562.6 C1448.1,1563.3 1450.3,1564.1 1452.5,1564.8 C1454.8,1565.5 1457.0,1566.2 1459.2,1566.9 C1461.5,1567.6 1463.7,1568.3 1466.0,1569.0 C1468.3,1569.6 1470.5,1570.3 1472.8,1570.9 C1475.1,1571.5 1477.3,1572.1 1479.6,1572.7 C1481.9,1573.3 1484.2,1573.8 1486.5,1574.4 C1488.8,1575.0 1491.1,1575.5 1493.4,1576.0 C1495.7,1576.6 1498.0,1577.1 1500.3,1577.6 C1502.6,1578.1 1504.9,1578.6 1507.2,1579.0 C1509.5,1579.5 1511.9,1580.0 1514.2,1580.4 C1516.5,1580.9 1518.8,1581.3 1521.1,1581.7 C1523.5,1582.2 1525.8,1582.6 1528.1,1583.0 C1530.4,1583.4 1532.8,1583.8 1535.1,1584.2 C1537.4,1584.5 1539.7,1584.9 1542.1,1585.3 C1544.4,1585.6 1546.7,1586.0 1549.1,1586.3 C1551.4,1586.7 1553.7,1587.0 1556.1,1587.3 C1558.4,1587.7 1560.7,1588.0 1563.1,1588.3 C1565.4,1588.6 1567.8,1588.9 1570.1,1589.2 C1572.4,1589.5 1574.8,1589.8 1577.1,1590.0 C1579.4,1590.3 1581.8,1590.6 1584.1,1590.8 C1586.5,1591.1 1588.8,1591.3 1591.1,1591.6 C1593.5,1591.8 1595.8,1592.1 1598.2,1592.3 C1600.5,1592.5 1602.9,1592.8 1605.2,1593.0 C1607.5,1593.2 1609.9,1593.4 1612.2,1593.6 C1614.6,1593.8 1616.9,1594.0 1619.3,1594.2 C1621.6,1594.4 1624.0,1594.6 1626.3,1594.8 C1628.6,1595.0 1631.0,1595.2 1633.3,1595.4 C1635.7,1595.6 1638.0,1595.7 1640.4,1595.9 C1642.7,1596.1 1645.1,1596.3 1647.4,1596.4 C1649.7,1596.6 1652.1,1596.8 1654.4,1596.9 C1656.8,1597.1 1659.1,1597.2 1661.5,1597.4 C1663.8,1597.5 1666.1,1597.7 1668.5,1597.8 C1670.8,1598.0 1673.2,1598.1 1675.5,1598.3 C1677.8,1598.4 1680.2,1598.6 1682.5,1598.7 C1684.9,1598.9 1687.2,1599.0 1689.5,1599.2 C1691.9,1599.3 1694.2,1599.5 1696.5,1599.6 C1698.9,1599.7 1701.2,1599.9 1703.5,1600.0 C1705.9,1600.2 1708.2,1600.3 1710.5,1600.5 C1712.9,1600.6 1715.2,1600.7 1717.5,1600.9 C1719.9,1601.0 1722.2,1601.2 1724.5,1601.3 C1726.8,1601.5 1729.2,1601.6 1731.5,1601.8 C1733.8,1602.0 1736.1,1602.1 1738.4,1602.3 C1740.8,1602.4 1743.1,1602.6 1745.4,1602.7 C1747.7,1602.9 1750.0,1603.1 1752.3,1603.3 C1754.6,1603.4 1757.0,1603.6 1759.3,1603.8 C1761.6,1604.0 1763.9,1604.1 1766.2,1604.3 C1768.5,1604.5 1770.8,1604.7 1773.1,1604.9 C1775.4,1605.1 1779.9,1605.5 1780.0,1605.5 C1780.0,1605.5 1780.0,1605.5 1780.0,1605.5 C1780.7,1605.2 2226.7,1605.5 2450.0,1605.5" stroke="#800080" stroke-width="9.5" stroke-dasharray="0.0 12.4 9.5 12.5 9.5 12.5 9.5 12.5 9.5 12.5 9.5 12.5 9.5 12.5 9.5 13.7 9.5 13.6 9.5 14.5 9.5 11.8 9.5 10.8 9.5 12.9 9.5 12.5 9.5 13.6 9.5 14.1 9.5 15.5 9.5 13.8 9.5 12.8 9.5 14.2 9.5 13.6 9.5 14.3 9.5 12.5 9.5 11.9 9.5 14.2 9.5 12.6 9.5 13.9 9.5 13.3 9.5 13.1 9.5 12.4 9.5 13.3 9.5 13.9 9.5 11.8 9.5 13.9 9.5 13.0 9.5 13.4 9.5 13.5 9.5 13.1 9.5 12.1 9.5 14.6 9.5 13.2 9.5 13.3 9.5 13.4 9.5 12.0 9.5 14.3 9.5 12.6 9.5 14.8 9.5 12.3 9.5 12.5 9.5 13.9 9.5 12.1 9.5 13.9 9.5 13.0 9.5 13.4 9.5 13.3 9.5 13.5 9.5 12.6 9.5 12.9 9.5 12.9 9.5 13.4 9.5 14.1 9.5 10.3 9.5 10.6 9.5 13.6 9.5 9.9 9.5 14.6 9.5 13.0 9.5 13.7 9.5 13.2 9.5 13.2 9.5 13.2 9.5 13.2 9.5 12.9 9.5 14.0 9.5 12.8 9.5 12.9 9.5 13.1 9.5 12.3 9.5 12.9 9.5 13.1 9.5 12.1 9.5 15.8 9.5 12.1 9.5 13.6 9.5 13.2 9.5 13.6 9.5 13.5 9.5 12.5 9.5 13.4 9.5 14.0 9.5 13.3 9.5 13.1 9.5 13.1 9.5 12.8 9.5 13.1 9.5 12.5 9.5 12.4 9.5 13.8 9.5 12.2 9.5 14.1 9.5 13.3 9.5 12.8 9.5 12.1 9.5 14.4 9.5 13.6 9.5 14.7 9.5 11.1 9.5 14.6 9.5 13.2 9.5 12.8 9.5 11.5 9.5 13.2 9.5 11.7 9.5 14.0 9.5 14.1 9.5 10.5 9.5 15.8 9.5 13.7 9.5 13.8 9.5 15.1 9.5 14.7 9.5 13.1 9.5 13.0 9.5 13.1 9.5 13.1 9.5 13.0 9.5 11.7 9.5 12.5 9.5 12.5 9.5 12.5 9.5 12.5 9.5 12.5 9.5 12.5 9.5 12.5 9.5 12.5 9.5 12.5 9.5 12.5 9.5 12.5 9.5 12.5 9.5 12.5 9.5 12.5 9.5 12.5 9.5 12.5 9.5 12.5 9.5 12.5 9.5 12.5 9.5 12.5 9.5 12.5 9.5 12.5 9.5 12.5 9.5 12.5 9.5 12.5 9.5 12.5 9.5 12.5 9.5 12.5 9.5 12.5 9.5 12.5 9.5 12.5 9.5 12.5 9.5 12.5 9.5 12.5 9.5 12.5 9.5 12.5 9.5 12.5 9.5 1006.8" stroke-linecap="butt" stroke-linejoin="round"/>
</g>
<rect x="296" y="1603" width="2143" height="4" fill="#000" fill-opacity="0.6"/>
<rect x="255" y="1607" width="2192" height="3" fill="#000"/>
<rect x="288" y="22" width="4" height="1602" fill="#000"/>
<rect x="292" y="26" width="4" height="1598" fill="#5e5e5e"/>
<rect x="2439" y="22" width="8" height="1588" fill="#000"/>
<text class="tk" transform="translate(237.0,1612.0) scale(0.965,1)" text-anchor="end">0</text>
<text class="tk" transform="translate(237.0,1425.9) scale(0.965,1)" text-anchor="end">2</text>
<text class="tk" transform="translate(237.0,1239.8) scale(0.965,1)" text-anchor="end">4</text>
<text class="tk" transform="translate(237.0,1053.8) scale(0.965,1)" text-anchor="end">6</text>
<text class="tk" transform="translate(237.0,867.7) scale(0.965,1)" text-anchor="end">8</text>
<text class="tk" transform="translate(237.0,681.6) scale(0.965,1)" text-anchor="end">10</text>
<text class="tk" transform="translate(237.0,495.5) scale(0.965,1)" text-anchor="end">12</text>
<text class="tk" transform="translate(237.0,309.4) scale(0.965,1)" text-anchor="end">14</text>
<text class="tk" transform="translate(237.0,123.4) scale(0.965,1)" text-anchor="end">16</text>
<text class="tk" transform="translate(375.0,1727.5) scale(0.975,1)" text-anchor="middle">10</text>
<text class="tk" transform="translate(1244.5,1727.5) scale(0.975,1)" text-anchor="middle">100</text>
<text class="tk" transform="translate(2114.0,1727.5) scale(0.975,1)" text-anchor="middle">1000</text>
<text font-family='"Liberation Serif","Times New Roman",serif' font-weight="bold" font-size="90" transform="translate(1074,1888.8) scale(1.027,1)">Diameter</text>
<text font-family='"Liberation Serif","Times New Roman",serif' font-size="94" x="1467.5" y="1888.8">(</text>
<text font-family='"Liberation Serif","Times New Roman",serif' font-size="90" x="1503" y="1888.8">µ</text>
<text font-family='"Liberation Serif","Times New Roman",serif' font-weight="bold" font-size="93" transform="translate(1549,1888.8) scale(1.06,1)">m</text>
<text font-family='"Liberation Serif","Times New Roman",serif' font-size="94" x="1628" y="1888.8">)</text>
<text font-family='"Liberation Serif","Times New Roman",serif' font-weight="bold" font-size="90" transform="translate(86,1115.5) rotate(-90) scale(1.033,1)">Volume</text>
<g transform="translate(86,0) rotate(-90)"><text font-family='"Liberation Serif","Times New Roman",serif' font-size="94" x="-790" y="0">(</text><text font-family='"Liberation Serif","Times New Roman",serif' font-size="98" x="-753" y="0">%</text><text font-family='"Liberation Serif","Times New Roman",serif' font-size="94" x="-665" y="0">)</text></g>
<path d="M310.5,82.3 H468.0" stroke="#000000" stroke-width="10.5" fill="none" stroke-linecap="butt"/>
<text class="lg" x="480.0" y="102.8">"as recieved"</text>
<path d="M310.5,161.5 H468.0" stroke="#ff0000" stroke-width="13" fill="none" stroke-dasharray="5 62.3" stroke-dashoffset="-6.5" stroke-linecap="round"/>
<text class="lg" x="480.0" y="183.6">30 min</text>
<path d="M310.5,242.6 H468.0" stroke="#00e000" stroke-width="13" fill="none" stroke-dasharray="58 52" stroke-linecap="butt"/>
<text class="lg" x="480.0" y="264.4">60 min</text>
<path d="M310.5,324.9 H468.0" stroke="#0000d0" stroke-width="11" fill="none" stroke-dasharray="69 26 18 26" stroke-linecap="butt"/>
<text class="lg" x="480.0" y="345.6">90 min</text>
<path d="M310.5,405.6 H454.0" stroke="#00f0f0" stroke-width="12.5" fill="none" stroke-dasharray="52 26 20 26 20 26" stroke-linecap="butt"/>
<text class="lg" x="480.0" y="429.5">120 min</text>
<path d="M310.5,487.2 H443.0" stroke="#ff00ff" stroke-width="11.5" fill="none" stroke-dasharray="28 20.5 31 20 32 30" stroke-linecap="butt"/>
<text class="lg" x="480.0" y="510.8">150 min</text>
<path d="M310.5,568.0 H468.0" stroke="#800080" stroke-width="10.5" fill="none" stroke-dasharray="10.5 12" stroke-linecap="butt"/>
<text class="lg" x="480.0" y="591.0">180 min</text>
</svg>
</body></html>
